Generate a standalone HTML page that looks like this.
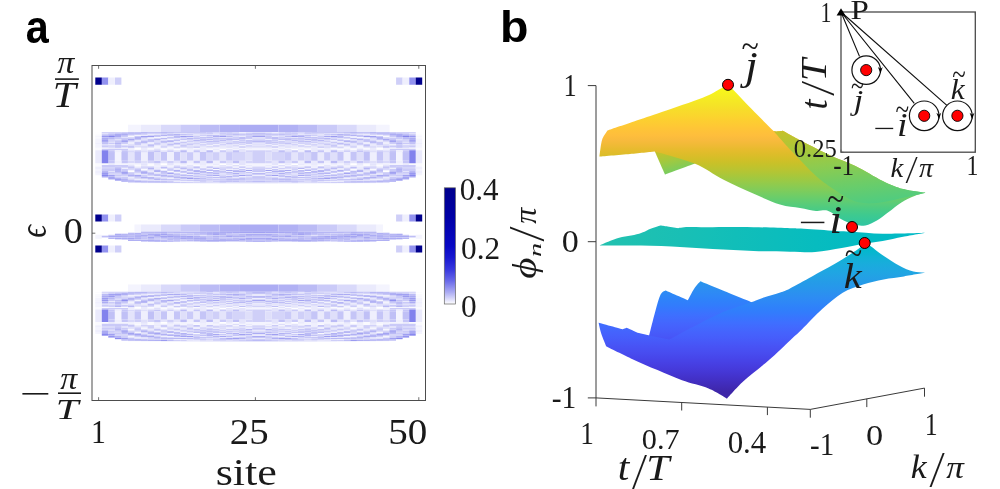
<!DOCTYPE html>
<html><head><meta charset="utf-8"><title>figure</title>
<style>html,body{margin:0;padding:0;background:#fff}svg{display:block}</style></head>
<body><svg width="1000" height="489" viewBox="0 0 1000 489">
<defs><linearGradient id="cb" x1="0" y1="0" x2="0" y2="1"><stop offset="0.000" stop-color="#00008c"/><stop offset="0.250" stop-color="#0000a6"/><stop offset="0.500" stop-color="#0808c4"/><stop offset="0.600" stop-color="#1818d0"/><stop offset="0.700" stop-color="#3636de"/><stop offset="0.800" stop-color="#6868e9"/><stop offset="0.900" stop-color="#acacf3"/><stop offset="0.950" stop-color="#d4d4f9"/><stop offset="1.000" stop-color="#ffffff"/></linearGradient><linearGradient id="gF" gradientUnits="userSpaceOnUse" x1="596.00" y1="85.50" x2="596.00" y2="397.90"><stop offset="0.0000" stop-color="#f9fb15"/><stop offset="0.0159" stop-color="#f7f51b"/><stop offset="0.0317" stop-color="#f6ef20"/><stop offset="0.0476" stop-color="#f5e924"/><stop offset="0.0635" stop-color="#f5e327"/><stop offset="0.0794" stop-color="#f7dc2a"/><stop offset="0.0952" stop-color="#fad62d"/><stop offset="0.1111" stop-color="#fccf30"/><stop offset="0.1270" stop-color="#fec934"/><stop offset="0.1429" stop-color="#fec338"/><stop offset="0.1587" stop-color="#febe3c"/><stop offset="0.1746" stop-color="#f8ba3d"/><stop offset="0.1905" stop-color="#f0ba36"/><stop offset="0.2063" stop-color="#e6bb2d"/><stop offset="0.2222" stop-color="#dcbd29"/><stop offset="0.2381" stop-color="#d1bf27"/><stop offset="0.2540" stop-color="#c5c22a"/><stop offset="0.2698" stop-color="#b9c431"/><stop offset="0.2857" stop-color="#abc739"/><stop offset="0.3016" stop-color="#9dc943"/><stop offset="0.3175" stop-color="#8fcb4e"/><stop offset="0.3333" stop-color="#81cc59"/><stop offset="0.3492" stop-color="#72cd64"/><stop offset="0.3651" stop-color="#64cd6f"/><stop offset="0.3810" stop-color="#57cc7a"/><stop offset="0.3968" stop-color="#4acb84"/><stop offset="0.4127" stop-color="#3fca8e"/><stop offset="0.4286" stop-color="#37c897"/><stop offset="0.4444" stop-color="#31c69f"/><stop offset="0.4603" stop-color="#2cc4a7"/><stop offset="0.4762" stop-color="#24c1ae"/><stop offset="0.4921" stop-color="#19bfb6"/><stop offset="0.5079" stop-color="#0bbdbd"/><stop offset="0.5238" stop-color="#02bac3"/><stop offset="0.5397" stop-color="#01b8ca"/><stop offset="0.5556" stop-color="#08b5d0"/><stop offset="0.5714" stop-color="#12b1d6"/><stop offset="0.5873" stop-color="#18addb"/><stop offset="0.6032" stop-color="#1ca9df"/><stop offset="0.6190" stop-color="#20a5e3"/><stop offset="0.6349" stop-color="#23a0e5"/><stop offset="0.6508" stop-color="#259be8"/><stop offset="0.6667" stop-color="#2797eb"/><stop offset="0.6825" stop-color="#2b91ef"/><stop offset="0.6984" stop-color="#2d8cf3"/><stop offset="0.7143" stop-color="#2e87f7"/><stop offset="0.7302" stop-color="#2f81fa"/><stop offset="0.7460" stop-color="#327cfc"/><stop offset="0.7619" stop-color="#3875fe"/><stop offset="0.7778" stop-color="#3e6fff"/><stop offset="0.7937" stop-color="#4269fe"/><stop offset="0.8095" stop-color="#4563fd"/><stop offset="0.8254" stop-color="#465efb"/><stop offset="0.8413" stop-color="#4758f8"/><stop offset="0.8571" stop-color="#4852f4"/><stop offset="0.8730" stop-color="#484df0"/><stop offset="0.8889" stop-color="#4747eb"/><stop offset="0.9048" stop-color="#4741e5"/><stop offset="0.9206" stop-color="#463cde"/><stop offset="0.9365" stop-color="#4537d5"/><stop offset="0.9524" stop-color="#4332cb"/><stop offset="0.9683" stop-color="#422ec0"/><stop offset="0.9841" stop-color="#402ab4"/><stop offset="1.0000" stop-color="#3e26a8"/></linearGradient><linearGradient id="gLb" gradientUnits="userSpaceOnUse" x1="596.00" y1="72.50" x2="596.00" y2="384.90"><stop offset="0.0000" stop-color="#f9fb15"/><stop offset="0.0159" stop-color="#f7f51b"/><stop offset="0.0317" stop-color="#f6ef20"/><stop offset="0.0476" stop-color="#f5e924"/><stop offset="0.0635" stop-color="#f5e327"/><stop offset="0.0794" stop-color="#f7dc2a"/><stop offset="0.0952" stop-color="#fad62d"/><stop offset="0.1111" stop-color="#fccf30"/><stop offset="0.1270" stop-color="#fec934"/><stop offset="0.1429" stop-color="#fec338"/><stop offset="0.1587" stop-color="#febe3c"/><stop offset="0.1746" stop-color="#f8ba3d"/><stop offset="0.1905" stop-color="#f0ba36"/><stop offset="0.2063" stop-color="#e6bb2d"/><stop offset="0.2222" stop-color="#dcbd29"/><stop offset="0.2381" stop-color="#d1bf27"/><stop offset="0.2540" stop-color="#c5c22a"/><stop offset="0.2698" stop-color="#b9c431"/><stop offset="0.2857" stop-color="#abc739"/><stop offset="0.3016" stop-color="#9dc943"/><stop offset="0.3175" stop-color="#8fcb4e"/><stop offset="0.3333" stop-color="#81cc59"/><stop offset="0.3492" stop-color="#72cd64"/><stop offset="0.3651" stop-color="#64cd6f"/><stop offset="0.3810" stop-color="#57cc7a"/><stop offset="0.3968" stop-color="#4acb84"/><stop offset="0.4127" stop-color="#3fca8e"/><stop offset="0.4286" stop-color="#37c897"/><stop offset="0.4444" stop-color="#31c69f"/><stop offset="0.4603" stop-color="#2cc4a7"/><stop offset="0.4762" stop-color="#24c1ae"/><stop offset="0.4921" stop-color="#19bfb6"/><stop offset="0.5079" stop-color="#0bbdbd"/><stop offset="0.5238" stop-color="#02bac3"/><stop offset="0.5397" stop-color="#01b8ca"/><stop offset="0.5556" stop-color="#08b5d0"/><stop offset="0.5714" stop-color="#12b1d6"/><stop offset="0.5873" stop-color="#18addb"/><stop offset="0.6032" stop-color="#1ca9df"/><stop offset="0.6190" stop-color="#20a5e3"/><stop offset="0.6349" stop-color="#23a0e5"/><stop offset="0.6508" stop-color="#259be8"/><stop offset="0.6667" stop-color="#2797eb"/><stop offset="0.6825" stop-color="#2b91ef"/><stop offset="0.6984" stop-color="#2d8cf3"/><stop offset="0.7143" stop-color="#2e87f7"/><stop offset="0.7302" stop-color="#2f81fa"/><stop offset="0.7460" stop-color="#327cfc"/><stop offset="0.7619" stop-color="#3875fe"/><stop offset="0.7778" stop-color="#3e6fff"/><stop offset="0.7937" stop-color="#4269fe"/><stop offset="0.8095" stop-color="#4563fd"/><stop offset="0.8254" stop-color="#465efb"/><stop offset="0.8413" stop-color="#4758f8"/><stop offset="0.8571" stop-color="#4852f4"/><stop offset="0.8730" stop-color="#484df0"/><stop offset="0.8889" stop-color="#4747eb"/><stop offset="0.9048" stop-color="#4741e5"/><stop offset="0.9206" stop-color="#463cde"/><stop offset="0.9365" stop-color="#4537d5"/><stop offset="0.9524" stop-color="#4332cb"/><stop offset="0.9683" stop-color="#422ec0"/><stop offset="0.9841" stop-color="#402ab4"/><stop offset="1.0000" stop-color="#3e26a8"/></linearGradient><linearGradient id="gL" gradientUnits="userSpaceOnUse" x1="596.00" y1="79.50" x2="596.00" y2="391.90"><stop offset="0.0000" stop-color="#f9fb15"/><stop offset="0.0159" stop-color="#f7f51b"/><stop offset="0.0317" stop-color="#f6ef20"/><stop offset="0.0476" stop-color="#f5e924"/><stop offset="0.0635" stop-color="#f5e327"/><stop offset="0.0794" stop-color="#f7dc2a"/><stop offset="0.0952" stop-color="#fad62d"/><stop offset="0.1111" stop-color="#fccf30"/><stop offset="0.1270" stop-color="#fec934"/><stop offset="0.1429" stop-color="#fec338"/><stop offset="0.1587" stop-color="#febe3c"/><stop offset="0.1746" stop-color="#f8ba3d"/><stop offset="0.1905" stop-color="#f0ba36"/><stop offset="0.2063" stop-color="#e6bb2d"/><stop offset="0.2222" stop-color="#dcbd29"/><stop offset="0.2381" stop-color="#d1bf27"/><stop offset="0.2540" stop-color="#c5c22a"/><stop offset="0.2698" stop-color="#b9c431"/><stop offset="0.2857" stop-color="#abc739"/><stop offset="0.3016" stop-color="#9dc943"/><stop offset="0.3175" stop-color="#8fcb4e"/><stop offset="0.3333" stop-color="#81cc59"/><stop offset="0.3492" stop-color="#72cd64"/><stop offset="0.3651" stop-color="#64cd6f"/><stop offset="0.3810" stop-color="#57cc7a"/><stop offset="0.3968" stop-color="#4acb84"/><stop offset="0.4127" stop-color="#3fca8e"/><stop offset="0.4286" stop-color="#37c897"/><stop offset="0.4444" stop-color="#31c69f"/><stop offset="0.4603" stop-color="#2cc4a7"/><stop offset="0.4762" stop-color="#24c1ae"/><stop offset="0.4921" stop-color="#19bfb6"/><stop offset="0.5079" stop-color="#0bbdbd"/><stop offset="0.5238" stop-color="#02bac3"/><stop offset="0.5397" stop-color="#01b8ca"/><stop offset="0.5556" stop-color="#08b5d0"/><stop offset="0.5714" stop-color="#12b1d6"/><stop offset="0.5873" stop-color="#18addb"/><stop offset="0.6032" stop-color="#1ca9df"/><stop offset="0.6190" stop-color="#20a5e3"/><stop offset="0.6349" stop-color="#23a0e5"/><stop offset="0.6508" stop-color="#259be8"/><stop offset="0.6667" stop-color="#2797eb"/><stop offset="0.6825" stop-color="#2b91ef"/><stop offset="0.6984" stop-color="#2d8cf3"/><stop offset="0.7143" stop-color="#2e87f7"/><stop offset="0.7302" stop-color="#2f81fa"/><stop offset="0.7460" stop-color="#327cfc"/><stop offset="0.7619" stop-color="#3875fe"/><stop offset="0.7778" stop-color="#3e6fff"/><stop offset="0.7937" stop-color="#4269fe"/><stop offset="0.8095" stop-color="#4563fd"/><stop offset="0.8254" stop-color="#465efb"/><stop offset="0.8413" stop-color="#4758f8"/><stop offset="0.8571" stop-color="#4852f4"/><stop offset="0.8730" stop-color="#484df0"/><stop offset="0.8889" stop-color="#4747eb"/><stop offset="0.9048" stop-color="#4741e5"/><stop offset="0.9206" stop-color="#463cde"/><stop offset="0.9365" stop-color="#4537d5"/><stop offset="0.9524" stop-color="#4332cb"/><stop offset="0.9683" stop-color="#422ec0"/><stop offset="0.9841" stop-color="#402ab4"/><stop offset="1.0000" stop-color="#3e26a8"/></linearGradient><linearGradient id="gM" gradientUnits="userSpaceOnUse" x1="600" y1="225" x2="925" y2="250"><stop offset="0.000" stop-color="#23c1af"/><stop offset="0.083" stop-color="#1fc1b1"/><stop offset="0.167" stop-color="#1cc0b3"/><stop offset="0.250" stop-color="#19bfb5"/><stop offset="0.333" stop-color="#15bfb7"/><stop offset="0.417" stop-color="#11beb9"/><stop offset="0.500" stop-color="#0ebdbb"/><stop offset="0.583" stop-color="#0abdbd"/><stop offset="0.667" stop-color="#07bcbf"/><stop offset="0.750" stop-color="#05bbc1"/><stop offset="0.833" stop-color="#02bbc3"/><stop offset="0.917" stop-color="#02bac5"/><stop offset="1.000" stop-color="#01b9c7"/></linearGradient><linearGradient id="gB" gradientUnits="userSpaceOnUse" x1="790" y1="128" x2="800" y2="225"><stop offset="0.000" stop-color="#c8c129"/><stop offset="0.083" stop-color="#bec32e"/><stop offset="0.167" stop-color="#b2c535"/><stop offset="0.250" stop-color="#a7c73c"/><stop offset="0.333" stop-color="#9ac945"/><stop offset="0.417" stop-color="#8ecb4f"/><stop offset="0.500" stop-color="#81cc58"/><stop offset="0.583" stop-color="#74cc62"/><stop offset="0.667" stop-color="#68cd6b"/><stop offset="0.750" stop-color="#5dcc75"/><stop offset="0.833" stop-color="#52cc7e"/><stop offset="0.917" stop-color="#47cb87"/><stop offset="1.000" stop-color="#3eca8f"/></linearGradient><linearGradient id="gN" gradientUnits="userSpaceOnUse" x1="660" y1="150" x2="666" y2="176"><stop offset="0.000" stop-color="#c8c129"/><stop offset="0.083" stop-color="#c2c22c"/><stop offset="0.167" stop-color="#bbc42f"/><stop offset="0.250" stop-color="#b4c533"/><stop offset="0.333" stop-color="#adc638"/><stop offset="0.417" stop-color="#a6c83c"/><stop offset="0.500" stop-color="#9fc942"/><stop offset="0.583" stop-color="#97ca47"/><stop offset="0.667" stop-color="#90ca4d"/><stop offset="0.750" stop-color="#88cb53"/><stop offset="0.833" stop-color="#81cc59"/><stop offset="0.917" stop-color="#79cc5e"/><stop offset="1.000" stop-color="#71cd64"/></linearGradient></defs>
<rect width="1000" height="489" fill="#fff"/>
<g>
<path fill="#fafafe" d="M128 182.62h13.1v0.58h-13.1zM376.5 182.62h13.1v0.58h-13.1zM180.3 180.81h6.5v0.62h-6.5zM330.7 180.81h6.5v0.62h-6.5zM252.2 179.54h13.1v0.64h-13.1zM134.5 178.88h6.5v0.66h-6.5zM376.5 178.88h6.5v0.66h-6.5zM213 178.20h6.5v0.68h-6.5zM298 178.20h6.5v0.68h-6.5zM128 177.51h6.5v0.70h-6.5zM160.7 177.51h6.5v0.70h-6.5zM239.1 177.51h6.5v0.70h-6.5zM271.8 177.51h6.5v0.70h-6.5zM350.3 177.51h6.5v0.70h-6.5zM383 177.51h6.5v0.70h-6.5zM252.2 176.79h13.1v0.72h-13.1zM147.6 176.05h6.5v0.74h-6.5zM363.4 176.05h6.5v0.74h-6.5zM193.4 174.50h6.5v0.79h-6.5zM317.6 174.50h6.5v0.79h-6.5zM134.5 173.67h6.5v0.82h-6.5zM376.5 173.67h6.5v0.82h-6.5zM173.7 171.91h6.5v0.90h-6.5zM337.2 171.91h6.5v0.90h-6.5zM167.2 170.96h6.5v0.95h-6.5zM206.4 170.96h6.5v0.95h-6.5zM304.5 170.96h6.5v0.95h-6.5zM343.8 170.96h6.5v0.95h-6.5zM141 168.87h6.5v1.08h-6.5zM160.7 168.87h6.5v1.08h-6.5zM213 168.87h6.5v1.08h-6.5zM298 168.87h6.5v1.08h-6.5zM350.3 168.87h6.5v1.08h-6.5zM369.9 168.87h6.5v1.08h-6.5zM121.4 167.70h6.5v1.18h-6.5zM389.5 167.70h6.5v1.18h-6.5zM232.6 166.40h6.5v1.30h-6.5zM278.4 166.40h6.5v1.30h-6.5zM95.3 164.91h6.5v1.48h-6.5zM134.5 164.91h6.5v1.48h-6.5zM147.6 164.91h6.5v1.48h-6.5zM193.4 164.91h6.5v1.48h-6.5zM317.6 164.91h6.5v1.48h-6.5zM363.4 164.91h6.5v1.48h-6.5zM376.5 164.91h6.5v1.48h-6.5zM415.7 164.91h6.5v1.48h-6.5zM95.3 163.13h13.1v1.79h-13.1zM147.6 163.13h6.5v1.79h-6.5zM232.6 163.13h6.5v1.79h-6.5zM278.4 163.13h6.5v1.79h-6.5zM363.4 163.13h6.5v1.79h-6.5zM409.2 163.13h13.1v1.79h-13.1zM95.3 148.85h6.5v1.48h-6.5zM134.5 148.85h6.5v1.48h-6.5zM160.7 148.85h6.5v1.48h-6.5zM173.7 148.85h6.5v1.48h-6.5zM206.4 148.85h6.5v1.48h-6.5zM304.5 148.85h6.5v1.48h-6.5zM337.2 148.85h6.5v1.48h-6.5zM350.3 148.85h6.5v1.48h-6.5zM376.5 148.85h6.5v1.48h-6.5zM415.7 148.85h6.5v1.48h-6.5zM95.3 147.55h13.1v1.30h-13.1zM121.4 147.55h6.5v1.30h-6.5zM147.6 147.55h6.5v1.30h-6.5zM180.3 147.55h6.5v1.30h-6.5zM193.4 147.55h6.5v1.30h-6.5zM226.1 147.55h6.5v1.30h-6.5zM239.1 147.55h6.5v1.30h-6.5zM271.8 147.55h6.5v1.30h-6.5zM284.9 147.55h6.5v1.30h-6.5zM317.6 147.55h6.5v1.30h-6.5zM330.7 147.55h6.5v1.30h-6.5zM363.4 147.55h6.5v1.30h-6.5zM389.5 147.55h6.5v1.30h-6.5zM409.2 147.55h13.1v1.30h-13.1zM206.4 145.30h6.5v1.08h-6.5zM304.5 145.30h6.5v1.08h-6.5zM226.1 142.44h6.5v0.90h-6.5zM284.9 142.44h6.5v0.90h-6.5zM213 141.58h6.5v0.86h-6.5zM298 141.58h6.5v0.86h-6.5zM134.5 140.75h6.5v0.82h-6.5zM376.5 140.75h6.5v0.82h-6.5zM206.4 139.96h6.5v0.79h-6.5zM304.5 139.96h6.5v0.79h-6.5zM167.2 139.20h6.5v0.76h-6.5zM343.8 139.20h6.5v0.76h-6.5zM173.7 138.46h6.5v0.74h-6.5zM337.2 138.46h6.5v0.74h-6.5zM95.3 137.74h6.5v0.72h-6.5zM415.7 137.74h6.5v0.72h-6.5zM95.3 137.05h6.5v0.70h-6.5zM219.5 137.05h6.5v0.70h-6.5zM291.4 137.05h6.5v0.70h-6.5zM415.7 137.05h6.5v0.70h-6.5zM128 136.37h6.5v0.68h-6.5zM160.7 136.37h6.5v0.68h-6.5zM239.1 136.37h6.5v0.68h-6.5zM271.8 136.37h6.5v0.68h-6.5zM350.3 136.37h6.5v0.68h-6.5zM383 136.37h6.5v0.68h-6.5zM95.3 135.71h6.5v0.66h-6.5zM252.2 135.71h13.1v0.66h-13.1zM415.7 135.71h6.5v0.66h-6.5zM95.3 135.07h6.5v0.64h-6.5zM415.7 135.07h6.5v0.64h-6.5zM95.3 134.44h6.5v0.63h-6.5zM252.2 134.44h13.1v0.63h-13.1zM415.7 134.44h6.5v0.63h-6.5zM95.3 132.63h6.5v0.59h-6.5zM415.7 132.63h6.5v0.59h-6.5zM245.7 132.05h6.5v0.58h-6.5zM265.3 132.05h6.5v0.58h-6.5zM128 341.03h13.1v0.57h-13.1zM376.5 341.03h13.1v0.57h-13.1zM180.3 339.27h6.5v0.60h-6.5zM330.7 339.27h6.5v0.60h-6.5zM252.2 338.03h13.1v0.63h-13.1zM134.5 337.38h6.5v0.64h-6.5zM376.5 337.38h6.5v0.64h-6.5zM213 336.72h6.5v0.66h-6.5zM298 336.72h6.5v0.66h-6.5zM128 336.05h6.5v0.68h-6.5zM160.7 336.05h6.5v0.68h-6.5zM239.1 336.05h6.5v0.68h-6.5zM271.8 336.05h6.5v0.68h-6.5zM350.3 336.05h6.5v0.68h-6.5zM383 336.05h6.5v0.68h-6.5zM252.2 335.35h13.1v0.70h-13.1zM147.6 334.63h6.5v0.72h-6.5zM363.4 334.63h6.5v0.72h-6.5zM193.4 333.11h6.5v0.77h-6.5zM317.6 333.11h6.5v0.77h-6.5zM134.5 332.31h6.5v0.80h-6.5zM376.5 332.31h6.5v0.80h-6.5zM173.7 330.59h6.5v0.88h-6.5zM337.2 330.59h6.5v0.88h-6.5zM167.2 329.66h6.5v0.93h-6.5zM206.4 329.66h6.5v0.93h-6.5zM304.5 329.66h6.5v0.93h-6.5zM343.8 329.66h6.5v0.93h-6.5zM141 327.62h6.5v1.06h-6.5zM160.7 327.62h6.5v1.06h-6.5zM213 327.62h6.5v1.06h-6.5zM298 327.62h6.5v1.06h-6.5zM350.3 327.62h6.5v1.06h-6.5zM369.9 327.62h6.5v1.06h-6.5zM121.4 326.47h6.5v1.15h-6.5zM389.5 326.47h6.5v1.15h-6.5zM232.6 325.21h6.5v1.27h-6.5zM278.4 325.21h6.5v1.27h-6.5zM95.3 323.76h6.5v1.45h-6.5zM134.5 323.76h6.5v1.45h-6.5zM147.6 323.76h6.5v1.45h-6.5zM193.4 323.76h6.5v1.45h-6.5zM317.6 323.76h6.5v1.45h-6.5zM363.4 323.76h6.5v1.45h-6.5zM376.5 323.76h6.5v1.45h-6.5zM415.7 323.76h6.5v1.45h-6.5zM95.3 322.02h13.1v1.74h-13.1zM147.6 322.02h6.5v1.74h-6.5zM232.6 322.02h6.5v1.74h-6.5zM278.4 322.02h6.5v1.74h-6.5zM363.4 322.02h6.5v1.74h-6.5zM409.2 322.02h13.1v1.74h-13.1zM95.3 308.09h6.5v1.45h-6.5zM134.5 308.09h6.5v1.45h-6.5zM160.7 308.09h6.5v1.45h-6.5zM173.7 308.09h6.5v1.45h-6.5zM206.4 308.09h6.5v1.45h-6.5zM304.5 308.09h6.5v1.45h-6.5zM337.2 308.09h6.5v1.45h-6.5zM350.3 308.09h6.5v1.45h-6.5zM376.5 308.09h6.5v1.45h-6.5zM415.7 308.09h6.5v1.45h-6.5zM95.3 306.83h13.1v1.27h-13.1zM121.4 306.83h6.5v1.27h-6.5zM147.6 306.83h6.5v1.27h-6.5zM180.3 306.83h6.5v1.27h-6.5zM193.4 306.83h6.5v1.27h-6.5zM226.1 306.83h6.5v1.27h-6.5zM239.1 306.83h6.5v1.27h-6.5zM271.8 306.83h6.5v1.27h-6.5zM284.9 306.83h6.5v1.27h-6.5zM317.6 306.83h6.5v1.27h-6.5zM330.7 306.83h6.5v1.27h-6.5zM363.4 306.83h6.5v1.27h-6.5zM389.5 306.83h6.5v1.27h-6.5zM409.2 306.83h13.1v1.27h-13.1zM206.4 304.62h6.5v1.06h-6.5zM304.5 304.62h6.5v1.06h-6.5zM226.1 301.83h6.5v0.88h-6.5zM284.9 301.83h6.5v0.88h-6.5zM213 300.99h6.5v0.84h-6.5zM298 300.99h6.5v0.84h-6.5zM134.5 300.19h6.5v0.80h-6.5zM376.5 300.19h6.5v0.80h-6.5zM206.4 299.42h6.5v0.77h-6.5zM304.5 299.42h6.5v0.77h-6.5zM167.2 298.67h6.5v0.75h-6.5zM343.8 298.67h6.5v0.75h-6.5zM173.7 297.95h6.5v0.72h-6.5zM337.2 297.95h6.5v0.72h-6.5zM95.3 297.25h6.5v0.70h-6.5zM415.7 297.25h6.5v0.70h-6.5zM95.3 296.58h6.5v0.68h-6.5zM219.5 296.58h6.5v0.68h-6.5zM291.4 296.58h6.5v0.68h-6.5zM415.7 296.58h6.5v0.68h-6.5zM128 295.92h6.5v0.66h-6.5zM160.7 295.92h6.5v0.66h-6.5zM239.1 295.92h6.5v0.66h-6.5zM271.8 295.92h6.5v0.66h-6.5zM350.3 295.92h6.5v0.66h-6.5zM383 295.92h6.5v0.66h-6.5zM95.3 295.27h6.5v0.64h-6.5zM252.2 295.27h13.1v0.64h-13.1zM415.7 295.27h6.5v0.64h-6.5zM95.3 294.64h6.5v0.63h-6.5zM415.7 294.64h6.5v0.63h-6.5zM95.3 294.03h6.5v0.61h-6.5zM252.2 294.03h13.1v0.61h-13.1zM415.7 294.03h6.5v0.61h-6.5zM95.3 292.27h6.5v0.58h-6.5zM415.7 292.27h6.5v0.58h-6.5zM245.7 291.70h6.5v0.57h-6.5zM265.3 291.70h6.5v0.57h-6.5z"/>
<path fill="#f4f4fe" d="M141 182.62h19.6v0.58h-19.6zM356.8 182.62h19.6v0.58h-19.6zM154.1 180.18h13.1v0.63h-13.1zM350.3 180.18h13.1v0.63h-13.1zM141 178.88h6.5v0.66h-6.5zM369.9 178.88h6.5v0.66h-6.5zM206.4 176.05h6.5v0.74h-6.5zM304.5 176.05h6.5v0.74h-6.5zM226.1 175.29h6.5v0.76h-6.5zM284.9 175.29h6.5v0.76h-6.5zM95.3 174.50h6.5v0.79h-6.5zM415.7 174.50h6.5v0.79h-6.5zM95.3 173.67h6.5v0.82h-6.5zM186.8 173.67h6.5v0.82h-6.5zM324.1 173.67h6.5v0.82h-6.5zM415.7 173.67h6.5v0.82h-6.5zM154.1 172.81h6.5v0.86h-6.5zM180.3 172.81h6.5v0.86h-6.5zM245.7 172.81h6.5v0.86h-6.5zM265.3 172.81h6.5v0.86h-6.5zM330.7 172.81h6.5v0.86h-6.5zM356.8 172.81h6.5v0.86h-6.5zM245.7 170.96h6.5v0.95h-6.5zM265.3 170.96h6.5v0.95h-6.5zM95.3 169.95h6.5v1.01h-6.5zM128 169.95h6.5v1.01h-6.5zM383 169.95h6.5v1.01h-6.5zM415.7 169.95h6.5v1.01h-6.5zM95.3 168.87h6.5v1.08h-6.5zM415.7 168.87h6.5v1.08h-6.5zM206.4 167.70h6.5v1.18h-6.5zM304.5 167.70h6.5v1.18h-6.5zM245.7 166.40h6.5v1.30h-6.5zM265.3 166.40h6.5v1.30h-6.5zM180.3 164.91h6.5v1.48h-6.5zM206.4 164.91h13.1v1.48h-13.1zM226.1 164.91h6.5v1.48h-6.5zM239.1 164.91h6.5v1.48h-6.5zM252.2 164.91h13.1v1.48h-13.1zM271.8 164.91h6.5v1.48h-6.5zM284.9 164.91h6.5v1.48h-6.5zM298 164.91h13.1v1.48h-13.1zM330.7 164.91h6.5v1.48h-6.5zM114.9 163.13h13.1v1.79h-13.1zM134.5 163.13h6.5v1.79h-6.5zM173.7 163.13h6.5v1.79h-6.5zM186.8 163.13h13.1v1.79h-13.1zM206.4 163.13h6.5v1.79h-6.5zM245.7 163.13h26.2v1.79h-26.2zM304.5 163.13h6.5v1.79h-6.5zM317.6 163.13h13.1v1.79h-13.1zM337.2 163.13h6.5v1.79h-6.5zM376.5 163.13h6.5v1.79h-6.5zM389.5 163.13h13.1v1.79h-13.1zM114.9 154.62h6.5v6.02h-6.5zM396.1 154.62h6.5v6.02h-6.5zM114.9 152.12h6.5v2.50h-6.5zM396.1 152.12h6.5v2.50h-6.5zM147.6 148.85h6.5v1.48h-6.5zM232.6 148.85h6.5v1.48h-6.5zM245.7 148.85h26.2v1.48h-26.2zM278.4 148.85h6.5v1.48h-6.5zM363.4 148.85h6.5v1.48h-6.5zM108.3 147.55h13.1v1.30h-13.1zM160.7 147.55h13.1v1.30h-13.1zM213 147.55h6.5v1.30h-6.5zM298 147.55h6.5v1.30h-6.5zM343.8 147.55h13.1v1.30h-13.1zM396.1 147.55h13.1v1.30h-13.1zM154.1 146.38h6.5v1.18h-6.5zM167.2 146.38h6.5v1.18h-6.5zM232.6 146.38h6.5v1.18h-6.5zM278.4 146.38h6.5v1.18h-6.5zM343.8 146.38h6.5v1.18h-6.5zM356.8 146.38h6.5v1.18h-6.5zM95.3 145.30h6.5v1.08h-6.5zM154.1 145.30h6.5v1.08h-6.5zM356.8 145.30h6.5v1.08h-6.5zM415.7 145.30h6.5v1.08h-6.5zM95.3 144.29h6.5v1.01h-6.5zM108.3 144.29h6.5v1.01h-6.5zM402.6 144.29h6.5v1.01h-6.5zM415.7 144.29h6.5v1.01h-6.5zM128 142.44h6.5v0.90h-6.5zM383 142.44h6.5v0.90h-6.5zM95.3 141.58h6.5v0.86h-6.5zM108.3 141.58h6.5v0.86h-6.5zM402.6 141.58h6.5v0.86h-6.5zM415.7 141.58h6.5v0.86h-6.5zM95.3 139.96h6.5v0.79h-6.5zM415.7 139.96h6.5v0.79h-6.5zM95.3 139.20h6.5v0.76h-6.5zM415.7 139.20h6.5v0.76h-6.5zM95.3 138.46h6.5v0.74h-6.5zM415.7 138.46h6.5v0.74h-6.5zM226.1 137.05h6.5v0.70h-6.5zM284.9 137.05h6.5v0.70h-6.5zM95.3 136.37h6.5v0.68h-6.5zM415.7 136.37h6.5v0.68h-6.5zM213 135.71h6.5v0.66h-6.5zM298 135.71h6.5v0.66h-6.5zM134.5 135.07h13.1v0.64h-13.1zM369.9 135.07h13.1v0.64h-13.1zM219.5 133.82h6.5v0.62h-6.5zM291.4 133.82h6.5v0.62h-6.5zM173.7 133.22h13.1v0.60h-13.1zM330.7 133.22h13.1v0.60h-13.1zM206.4 132.63h6.5v0.59h-6.5zM304.5 132.63h6.5v0.59h-6.5zM128 124.85h13.1v7.20h-13.1zM376.5 124.85h13.1v7.20h-13.1zM141 341.03h19.6v0.57h-19.6zM356.8 341.03h19.6v0.57h-19.6zM154.1 338.66h13.1v0.61h-13.1zM350.3 338.66h13.1v0.61h-13.1zM141 337.38h6.5v0.64h-6.5zM369.9 337.38h6.5v0.64h-6.5zM206.4 334.63h6.5v0.72h-6.5zM304.5 334.63h6.5v0.72h-6.5zM226.1 333.88h6.5v0.75h-6.5zM284.9 333.88h6.5v0.75h-6.5zM95.3 333.11h6.5v0.77h-6.5zM415.7 333.11h6.5v0.77h-6.5zM95.3 332.31h6.5v0.80h-6.5zM186.8 332.31h6.5v0.80h-6.5zM324.1 332.31h6.5v0.80h-6.5zM415.7 332.31h6.5v0.80h-6.5zM154.1 331.47h6.5v0.84h-6.5zM180.3 331.47h6.5v0.84h-6.5zM245.7 331.47h6.5v0.84h-6.5zM265.3 331.47h6.5v0.84h-6.5zM330.7 331.47h6.5v0.84h-6.5zM356.8 331.47h6.5v0.84h-6.5zM245.7 329.66h6.5v0.93h-6.5zM265.3 329.66h6.5v0.93h-6.5zM95.3 328.68h6.5v0.98h-6.5zM128 328.68h6.5v0.98h-6.5zM383 328.68h6.5v0.98h-6.5zM415.7 328.68h6.5v0.98h-6.5zM95.3 327.62h6.5v1.06h-6.5zM415.7 327.62h6.5v1.06h-6.5zM206.4 326.47h6.5v1.15h-6.5zM304.5 326.47h6.5v1.15h-6.5zM245.7 325.21h6.5v1.27h-6.5zM265.3 325.21h6.5v1.27h-6.5zM180.3 323.76h6.5v1.45h-6.5zM206.4 323.76h13.1v1.45h-13.1zM226.1 323.76h6.5v1.45h-6.5zM239.1 323.76h6.5v1.45h-6.5zM252.2 323.76h13.1v1.45h-13.1zM271.8 323.76h6.5v1.45h-6.5zM284.9 323.76h6.5v1.45h-6.5zM298 323.76h13.1v1.45h-13.1zM330.7 323.76h6.5v1.45h-6.5zM114.9 322.02h13.1v1.74h-13.1zM134.5 322.02h6.5v1.74h-6.5zM173.7 322.02h6.5v1.74h-6.5zM186.8 322.02h13.1v1.74h-13.1zM206.4 322.02h6.5v1.74h-6.5zM245.7 322.02h26.2v1.74h-26.2zM304.5 322.02h6.5v1.74h-6.5zM317.6 322.02h13.1v1.74h-13.1zM337.2 322.02h6.5v1.74h-6.5zM376.5 322.02h6.5v1.74h-6.5zM389.5 322.02h13.1v1.74h-13.1zM114.9 313.72h6.5v5.87h-6.5zM396.1 313.72h6.5v5.87h-6.5zM114.9 311.28h6.5v2.43h-6.5zM396.1 311.28h6.5v2.43h-6.5zM147.6 308.09h6.5v1.45h-6.5zM232.6 308.09h6.5v1.45h-6.5zM245.7 308.09h26.2v1.45h-26.2zM278.4 308.09h6.5v1.45h-6.5zM363.4 308.09h6.5v1.45h-6.5zM108.3 306.83h13.1v1.27h-13.1zM160.7 306.83h13.1v1.27h-13.1zM213 306.83h6.5v1.27h-6.5zM298 306.83h6.5v1.27h-6.5zM343.8 306.83h13.1v1.27h-13.1zM396.1 306.83h13.1v1.27h-13.1zM154.1 305.68h6.5v1.15h-6.5zM167.2 305.68h6.5v1.15h-6.5zM232.6 305.68h6.5v1.15h-6.5zM278.4 305.68h6.5v1.15h-6.5zM343.8 305.68h6.5v1.15h-6.5zM356.8 305.68h6.5v1.15h-6.5zM95.3 304.62h6.5v1.06h-6.5zM154.1 304.62h6.5v1.06h-6.5zM356.8 304.62h6.5v1.06h-6.5zM415.7 304.62h6.5v1.06h-6.5zM95.3 303.64h6.5v0.98h-6.5zM108.3 303.64h6.5v0.98h-6.5zM402.6 303.64h6.5v0.98h-6.5zM415.7 303.64h6.5v0.98h-6.5zM128 301.83h6.5v0.88h-6.5zM383 301.83h6.5v0.88h-6.5zM95.3 300.99h6.5v0.84h-6.5zM108.3 300.99h6.5v0.84h-6.5zM402.6 300.99h6.5v0.84h-6.5zM415.7 300.99h6.5v0.84h-6.5zM95.3 299.42h6.5v0.77h-6.5zM415.7 299.42h6.5v0.77h-6.5zM95.3 298.67h6.5v0.75h-6.5zM415.7 298.67h6.5v0.75h-6.5zM95.3 297.95h6.5v0.72h-6.5zM415.7 297.95h6.5v0.72h-6.5zM226.1 296.58h6.5v0.68h-6.5zM284.9 296.58h6.5v0.68h-6.5zM95.3 295.92h6.5v0.66h-6.5zM415.7 295.92h6.5v0.66h-6.5zM213 295.27h6.5v0.64h-6.5zM298 295.27h6.5v0.64h-6.5zM134.5 294.64h13.1v0.63h-13.1zM369.9 294.64h13.1v0.63h-13.1zM219.5 293.43h6.5v0.60h-6.5zM291.4 293.43h6.5v0.60h-6.5zM173.7 292.84h13.1v0.59h-13.1zM330.7 292.84h13.1v0.59h-13.1zM206.4 292.27h6.5v0.58h-6.5zM304.5 292.27h6.5v0.58h-6.5zM128 284.50h13.1v7.20h-13.1zM376.5 284.50h13.1v7.20h-13.1zM134.5 224.60h6.5v7.20h-6.5zM376.5 224.60h6.5v7.20h-6.5zM95.3 234.80h6.5v1.00h-6.5zM415.7 234.80h6.5v1.00h-6.5zM95.3 235.80h6.5v1.00h-6.5zM415.7 235.80h6.5v1.00h-6.5zM95.3 236.80h6.5v1.00h-6.5zM415.7 236.80h6.5v1.00h-6.5zM95.3 237.80h6.5v1.00h-6.5zM415.7 237.80h6.5v1.00h-6.5z"/>
<path fill="#eaeafc" d="M160.7 182.62h19.6v0.58h-19.6zM337.2 182.62h19.6v0.58h-19.6zM199.9 181.43h6.5v0.60h-6.5zM311.1 181.43h6.5v0.60h-6.5zM245.7 180.81h6.5v0.62h-6.5zM265.3 180.81h6.5v0.62h-6.5zM167.2 180.18h6.5v0.63h-6.5zM226.1 180.18h6.5v0.63h-6.5zM284.9 180.18h6.5v0.63h-6.5zM343.8 180.18h6.5v0.63h-6.5zM232.6 178.88h6.5v0.66h-6.5zM278.4 178.88h6.5v0.66h-6.5zM167.2 178.20h6.5v0.68h-6.5zM343.8 178.20h6.5v0.68h-6.5zM219.5 176.79h13.1v0.72h-13.1zM284.9 176.79h13.1v0.72h-13.1zM154.1 176.05h6.5v0.74h-6.5zM180.3 176.05h6.5v0.74h-6.5zM330.7 176.05h6.5v0.74h-6.5zM356.8 176.05h6.5v0.74h-6.5zM213 174.50h6.5v0.79h-6.5zM298 174.50h6.5v0.79h-6.5zM180.3 173.67h6.5v0.82h-6.5zM330.7 173.67h6.5v0.82h-6.5zM199.9 172.81h6.5v0.86h-6.5zM311.1 172.81h6.5v0.86h-6.5zM193.4 171.91h6.5v0.90h-6.5zM317.6 171.91h6.5v0.90h-6.5zM147.6 170.96h6.5v0.95h-6.5zM186.8 170.96h6.5v0.95h-6.5zM324.1 170.96h6.5v0.95h-6.5zM363.4 170.96h6.5v0.95h-6.5zM160.7 169.95h6.5v1.01h-6.5zM180.3 169.95h6.5v1.01h-6.5zM330.7 169.95h6.5v1.01h-6.5zM350.3 169.95h6.5v1.01h-6.5zM173.7 168.87h6.5v1.08h-6.5zM232.6 168.87h6.5v1.08h-6.5zM278.4 168.87h6.5v1.08h-6.5zM337.2 168.87h6.5v1.08h-6.5zM173.7 167.70h6.5v1.18h-6.5zM337.2 167.70h6.5v1.18h-6.5zM134.5 166.40h6.5v1.30h-6.5zM167.2 166.40h6.5v1.30h-6.5zM343.8 166.40h6.5v1.30h-6.5zM376.5 166.40h6.5v1.30h-6.5zM141 164.91h6.5v1.48h-6.5zM245.7 164.91h6.5v1.48h-6.5zM265.3 164.91h6.5v1.48h-6.5zM369.9 164.91h6.5v1.48h-6.5zM108.3 163.13h6.5v1.79h-6.5zM154.1 163.13h6.5v1.79h-6.5zM199.9 163.13h6.5v1.79h-6.5zM213 163.13h6.5v1.79h-6.5zM226.1 163.13h6.5v1.79h-6.5zM284.9 163.13h6.5v1.79h-6.5zM298 163.13h6.5v1.79h-6.5zM311.1 163.13h6.5v1.79h-6.5zM356.8 163.13h6.5v1.79h-6.5zM402.6 163.13h6.5v1.79h-6.5zM95.3 160.63h6.5v2.50h-6.5zM199.9 160.63h6.5v2.50h-6.5zM311.1 160.63h6.5v2.50h-6.5zM415.7 160.63h6.5v2.50h-6.5zM95.3 154.62h6.5v6.02h-6.5zM193.4 154.62h6.5v6.02h-6.5zM317.6 154.62h6.5v6.02h-6.5zM415.7 154.62h6.5v6.02h-6.5zM95.3 152.12h6.5v2.50h-6.5zM193.4 152.12h6.5v2.50h-6.5zM317.6 152.12h6.5v2.50h-6.5zM415.7 152.12h6.5v2.50h-6.5zM95.3 150.34h6.5v1.79h-6.5zM199.9 150.34h6.5v1.79h-6.5zM311.1 150.34h6.5v1.79h-6.5zM415.7 150.34h6.5v1.79h-6.5zM141 148.85h6.5v1.48h-6.5zM167.2 148.85h6.5v1.48h-6.5zM193.4 148.85h13.1v1.48h-13.1zM213 148.85h6.5v1.48h-6.5zM298 148.85h6.5v1.48h-6.5zM311.1 148.85h13.1v1.48h-13.1zM343.8 148.85h6.5v1.48h-6.5zM369.9 148.85h6.5v1.48h-6.5zM128 147.55h6.5v1.30h-6.5zM141 147.55h6.5v1.30h-6.5zM173.7 147.55h6.5v1.30h-6.5zM199.9 147.55h6.5v1.30h-6.5zM219.5 147.55h6.5v1.30h-6.5zM245.7 147.55h6.5v1.30h-6.5zM265.3 147.55h6.5v1.30h-6.5zM291.4 147.55h6.5v1.30h-6.5zM311.1 147.55h6.5v1.30h-6.5zM337.2 147.55h6.5v1.30h-6.5zM369.9 147.55h6.5v1.30h-6.5zM383 147.55h6.5v1.30h-6.5zM186.8 145.30h6.5v1.08h-6.5zM324.1 145.30h6.5v1.08h-6.5zM141 144.29h6.5v1.01h-6.5zM226.1 144.29h13.1v1.01h-13.1zM278.4 144.29h13.1v1.01h-13.1zM369.9 144.29h6.5v1.01h-6.5zM128 143.34h6.5v0.95h-6.5zM141 143.34h13.1v0.95h-13.1zM160.7 143.34h6.5v0.95h-6.5zM180.3 143.34h6.5v0.95h-6.5zM219.5 143.34h6.5v0.95h-6.5zM239.1 143.34h6.5v0.95h-6.5zM252.2 143.34h13.1v0.95h-13.1zM271.8 143.34h6.5v0.95h-6.5zM291.4 143.34h6.5v0.95h-6.5zM330.7 143.34h6.5v0.95h-6.5zM350.3 143.34h6.5v0.95h-6.5zM363.4 143.34h13.1v0.95h-13.1zM383 143.34h6.5v0.95h-6.5zM232.6 141.58h6.5v0.86h-6.5zM278.4 141.58h6.5v0.86h-6.5zM160.7 139.96h6.5v0.79h-6.5zM186.8 139.96h6.5v0.79h-6.5zM324.1 139.96h6.5v0.79h-6.5zM350.3 139.96h6.5v0.79h-6.5zM199.9 138.46h6.5v0.74h-6.5zM226.1 138.46h6.5v0.74h-6.5zM284.9 138.46h6.5v0.74h-6.5zM311.1 138.46h6.5v0.74h-6.5zM180.3 137.74h6.5v0.72h-6.5zM330.7 137.74h6.5v0.72h-6.5zM167.2 136.37h6.5v0.68h-6.5zM232.6 136.37h6.5v0.68h-6.5zM278.4 136.37h6.5v0.68h-6.5zM343.8 136.37h6.5v0.68h-6.5zM134.5 135.71h6.5v0.66h-6.5zM219.5 135.71h6.5v0.66h-6.5zM291.4 135.71h6.5v0.66h-6.5zM376.5 135.71h6.5v0.66h-6.5zM186.8 135.07h6.5v0.64h-6.5zM324.1 135.07h6.5v0.64h-6.5zM199.9 134.44h6.5v0.63h-6.5zM311.1 134.44h6.5v0.63h-6.5zM226.1 133.82h6.5v0.62h-6.5zM284.9 133.82h6.5v0.62h-6.5zM167.2 133.22h6.5v0.60h-6.5zM186.8 133.22h6.5v0.60h-6.5zM324.1 133.22h6.5v0.60h-6.5zM343.8 133.22h6.5v0.60h-6.5zM141 124.85h19.6v7.20h-19.6zM356.8 124.85h19.6v7.20h-19.6zM160.7 341.03h19.6v0.57h-19.6zM337.2 341.03h19.6v0.57h-19.6zM199.9 339.87h6.5v0.59h-6.5zM311.1 339.87h6.5v0.59h-6.5zM245.7 339.27h6.5v0.60h-6.5zM265.3 339.27h6.5v0.60h-6.5zM167.2 338.66h6.5v0.61h-6.5zM226.1 338.66h6.5v0.61h-6.5zM284.9 338.66h6.5v0.61h-6.5zM343.8 338.66h6.5v0.61h-6.5zM232.6 337.38h6.5v0.64h-6.5zM278.4 337.38h6.5v0.64h-6.5zM167.2 336.72h6.5v0.66h-6.5zM343.8 336.72h6.5v0.66h-6.5zM219.5 335.35h13.1v0.70h-13.1zM284.9 335.35h13.1v0.70h-13.1zM154.1 334.63h6.5v0.72h-6.5zM180.3 334.63h6.5v0.72h-6.5zM330.7 334.63h6.5v0.72h-6.5zM356.8 334.63h6.5v0.72h-6.5zM213 333.11h6.5v0.77h-6.5zM298 333.11h6.5v0.77h-6.5zM180.3 332.31h6.5v0.80h-6.5zM330.7 332.31h6.5v0.80h-6.5zM199.9 331.47h6.5v0.84h-6.5zM311.1 331.47h6.5v0.84h-6.5zM193.4 330.59h6.5v0.88h-6.5zM317.6 330.59h6.5v0.88h-6.5zM147.6 329.66h6.5v0.93h-6.5zM186.8 329.66h6.5v0.93h-6.5zM324.1 329.66h6.5v0.93h-6.5zM363.4 329.66h6.5v0.93h-6.5zM160.7 328.68h6.5v0.98h-6.5zM180.3 328.68h6.5v0.98h-6.5zM330.7 328.68h6.5v0.98h-6.5zM350.3 328.68h6.5v0.98h-6.5zM173.7 327.62h6.5v1.06h-6.5zM232.6 327.62h6.5v1.06h-6.5zM278.4 327.62h6.5v1.06h-6.5zM337.2 327.62h6.5v1.06h-6.5zM173.7 326.47h6.5v1.15h-6.5zM337.2 326.47h6.5v1.15h-6.5zM134.5 325.21h6.5v1.27h-6.5zM167.2 325.21h6.5v1.27h-6.5zM343.8 325.21h6.5v1.27h-6.5zM376.5 325.21h6.5v1.27h-6.5zM141 323.76h6.5v1.45h-6.5zM245.7 323.76h6.5v1.45h-6.5zM265.3 323.76h6.5v1.45h-6.5zM369.9 323.76h6.5v1.45h-6.5zM108.3 322.02h6.5v1.74h-6.5zM154.1 322.02h6.5v1.74h-6.5zM199.9 322.02h6.5v1.74h-6.5zM213 322.02h6.5v1.74h-6.5zM226.1 322.02h6.5v1.74h-6.5zM284.9 322.02h6.5v1.74h-6.5zM298 322.02h6.5v1.74h-6.5zM311.1 322.02h6.5v1.74h-6.5zM356.8 322.02h6.5v1.74h-6.5zM402.6 322.02h6.5v1.74h-6.5zM95.3 319.58h6.5v2.43h-6.5zM199.9 319.58h6.5v2.43h-6.5zM311.1 319.58h6.5v2.43h-6.5zM415.7 319.58h6.5v2.43h-6.5zM95.3 313.72h6.5v5.87h-6.5zM193.4 313.72h6.5v5.87h-6.5zM317.6 313.72h6.5v5.87h-6.5zM415.7 313.72h6.5v5.87h-6.5zM95.3 311.28h6.5v2.43h-6.5zM193.4 311.28h6.5v2.43h-6.5zM317.6 311.28h6.5v2.43h-6.5zM415.7 311.28h6.5v2.43h-6.5zM95.3 309.54h6.5v1.74h-6.5zM199.9 309.54h6.5v1.74h-6.5zM311.1 309.54h6.5v1.74h-6.5zM415.7 309.54h6.5v1.74h-6.5zM141 308.09h6.5v1.45h-6.5zM167.2 308.09h6.5v1.45h-6.5zM193.4 308.09h13.1v1.45h-13.1zM213 308.09h6.5v1.45h-6.5zM298 308.09h6.5v1.45h-6.5zM311.1 308.09h13.1v1.45h-13.1zM343.8 308.09h6.5v1.45h-6.5zM369.9 308.09h6.5v1.45h-6.5zM128 306.83h6.5v1.27h-6.5zM141 306.83h6.5v1.27h-6.5zM173.7 306.83h6.5v1.27h-6.5zM199.9 306.83h6.5v1.27h-6.5zM219.5 306.83h6.5v1.27h-6.5zM245.7 306.83h6.5v1.27h-6.5zM265.3 306.83h6.5v1.27h-6.5zM291.4 306.83h6.5v1.27h-6.5zM311.1 306.83h6.5v1.27h-6.5zM337.2 306.83h6.5v1.27h-6.5zM369.9 306.83h6.5v1.27h-6.5zM383 306.83h6.5v1.27h-6.5zM186.8 304.62h6.5v1.06h-6.5zM324.1 304.62h6.5v1.06h-6.5zM141 303.64h6.5v0.98h-6.5zM226.1 303.64h13.1v0.98h-13.1zM278.4 303.64h13.1v0.98h-13.1zM369.9 303.64h6.5v0.98h-6.5zM128 302.71h6.5v0.93h-6.5zM141 302.71h13.1v0.93h-13.1zM160.7 302.71h6.5v0.93h-6.5zM180.3 302.71h6.5v0.93h-6.5zM219.5 302.71h6.5v0.93h-6.5zM239.1 302.71h6.5v0.93h-6.5zM252.2 302.71h13.1v0.93h-13.1zM271.8 302.71h6.5v0.93h-6.5zM291.4 302.71h6.5v0.93h-6.5zM330.7 302.71h6.5v0.93h-6.5zM350.3 302.71h6.5v0.93h-6.5zM363.4 302.71h13.1v0.93h-13.1zM383 302.71h6.5v0.93h-6.5zM232.6 300.99h6.5v0.84h-6.5zM278.4 300.99h6.5v0.84h-6.5zM160.7 299.42h6.5v0.77h-6.5zM186.8 299.42h6.5v0.77h-6.5zM324.1 299.42h6.5v0.77h-6.5zM350.3 299.42h6.5v0.77h-6.5zM199.9 297.95h6.5v0.72h-6.5zM226.1 297.95h6.5v0.72h-6.5zM284.9 297.95h6.5v0.72h-6.5zM311.1 297.95h6.5v0.72h-6.5zM180.3 297.25h6.5v0.70h-6.5zM330.7 297.25h6.5v0.70h-6.5zM167.2 295.92h6.5v0.66h-6.5zM232.6 295.92h6.5v0.66h-6.5zM278.4 295.92h6.5v0.66h-6.5zM343.8 295.92h6.5v0.66h-6.5zM134.5 295.27h6.5v0.64h-6.5zM219.5 295.27h6.5v0.64h-6.5zM291.4 295.27h6.5v0.64h-6.5zM376.5 295.27h6.5v0.64h-6.5zM186.8 294.64h6.5v0.63h-6.5zM324.1 294.64h6.5v0.63h-6.5zM199.9 294.03h6.5v0.61h-6.5zM311.1 294.03h6.5v0.61h-6.5zM226.1 293.43h6.5v0.60h-6.5zM284.9 293.43h6.5v0.60h-6.5zM167.2 292.84h6.5v0.59h-6.5zM186.8 292.84h6.5v0.59h-6.5zM324.1 292.84h6.5v0.59h-6.5zM343.8 292.84h6.5v0.59h-6.5zM141 284.50h19.6v7.20h-19.6zM356.8 284.50h19.6v7.20h-19.6zM141 224.60h19.6v7.20h-19.6zM356.8 224.60h19.6v7.20h-19.6z"/>
<path fill="#e4e4fb" d="M180.3 182.62h19.6v0.58h-19.6zM317.6 182.62h19.6v0.58h-19.6zM180.3 181.43h6.5v0.60h-6.5zM330.7 181.43h6.5v0.60h-6.5zM239.1 180.81h6.5v0.62h-6.5zM271.8 180.81h6.5v0.62h-6.5zM147.6 180.18h6.5v0.63h-6.5zM219.5 180.18h6.5v0.63h-6.5zM291.4 180.18h6.5v0.63h-6.5zM363.4 180.18h6.5v0.63h-6.5zM206.4 179.54h6.5v0.64h-6.5zM304.5 179.54h6.5v0.64h-6.5zM128 178.88h6.5v0.66h-6.5zM383 178.88h6.5v0.66h-6.5zM173.7 178.20h6.5v0.68h-6.5zM337.2 178.20h6.5v0.68h-6.5zM121.4 176.05h6.5v0.74h-6.5zM245.7 176.05h6.5v0.74h-6.5zM265.3 176.05h6.5v0.74h-6.5zM389.5 176.05h6.5v0.74h-6.5zM141 174.50h6.5v0.79h-6.5zM186.8 174.50h6.5v0.79h-6.5zM324.1 174.50h6.5v0.79h-6.5zM369.9 174.50h6.5v0.79h-6.5zM141 173.67h6.5v0.82h-6.5zM369.9 173.67h6.5v0.82h-6.5zM154.1 171.91h6.5v0.90h-6.5zM356.8 171.91h6.5v0.90h-6.5zM108.3 170.96h6.5v0.95h-6.5zM402.6 170.96h6.5v0.95h-6.5zM141 169.95h13.1v1.01h-13.1zM199.9 169.95h6.5v1.01h-6.5zM311.1 169.95h6.5v1.01h-6.5zM363.4 169.95h13.1v1.01h-13.1zM186.8 167.70h6.5v1.18h-6.5zM324.1 167.70h6.5v1.18h-6.5zM154.1 166.40h6.5v1.30h-6.5zM213 166.40h6.5v1.30h-6.5zM298 166.40h6.5v1.30h-6.5zM356.8 166.40h6.5v1.30h-6.5zM128 164.91h6.5v1.48h-6.5zM173.7 164.91h6.5v1.48h-6.5zM186.8 164.91h6.5v1.48h-6.5zM219.5 164.91h6.5v1.48h-6.5zM291.4 164.91h6.5v1.48h-6.5zM324.1 164.91h6.5v1.48h-6.5zM337.2 164.91h6.5v1.48h-6.5zM383 164.91h6.5v1.48h-6.5zM141 163.13h6.5v1.79h-6.5zM167.2 163.13h6.5v1.79h-6.5zM239.1 163.13h6.5v1.79h-6.5zM271.8 163.13h6.5v1.79h-6.5zM343.8 163.13h6.5v1.79h-6.5zM369.9 163.13h6.5v1.79h-6.5zM160.7 160.63h6.5v2.50h-6.5zM173.7 160.63h6.5v2.50h-6.5zM239.1 160.63h6.5v2.50h-6.5zM271.8 160.63h6.5v2.50h-6.5zM337.2 160.63h6.5v2.50h-6.5zM350.3 160.63h6.5v2.50h-6.5zM128 154.62h6.5v6.02h-6.5zM219.5 154.62h6.5v6.02h-6.5zM291.4 154.62h6.5v6.02h-6.5zM383 154.62h6.5v6.02h-6.5zM128 152.12h6.5v2.50h-6.5zM219.5 152.12h6.5v2.50h-6.5zM291.4 152.12h6.5v2.50h-6.5zM383 152.12h6.5v2.50h-6.5zM160.7 150.34h6.5v1.79h-6.5zM173.7 150.34h6.5v1.79h-6.5zM239.1 150.34h6.5v1.79h-6.5zM271.8 150.34h6.5v1.79h-6.5zM337.2 150.34h6.5v1.79h-6.5zM350.3 150.34h6.5v1.79h-6.5zM226.1 148.85h6.5v1.48h-6.5zM239.1 148.85h6.5v1.48h-6.5zM271.8 148.85h6.5v1.48h-6.5zM284.9 148.85h6.5v1.48h-6.5zM186.8 147.55h6.5v1.30h-6.5zM232.6 147.55h6.5v1.30h-6.5zM278.4 147.55h6.5v1.30h-6.5zM324.1 147.55h6.5v1.30h-6.5zM199.9 146.38h6.5v1.18h-6.5zM213 146.38h6.5v1.18h-6.5zM298 146.38h6.5v1.18h-6.5zM311.1 146.38h6.5v1.18h-6.5zM141 145.30h6.5v1.08h-6.5zM219.5 145.30h6.5v1.08h-6.5zM291.4 145.30h6.5v1.08h-6.5zM369.9 145.30h6.5v1.08h-6.5zM101.8 144.29h6.5v1.01h-6.5zM193.4 144.29h6.5v1.01h-6.5zM317.6 144.29h6.5v1.01h-6.5zM409.2 144.29h6.5v1.01h-6.5zM245.7 142.44h6.5v0.90h-6.5zM265.3 142.44h6.5v0.90h-6.5zM128 141.58h6.5v0.86h-6.5zM383 141.58h6.5v0.86h-6.5zM134.5 139.96h6.5v0.79h-6.5zM376.5 139.96h6.5v0.79h-6.5zM114.9 139.20h6.5v0.76h-6.5zM193.4 139.20h6.5v0.76h-6.5zM239.1 139.20h6.5v0.76h-6.5zM271.8 139.20h6.5v0.76h-6.5zM317.6 139.20h6.5v0.76h-6.5zM396.1 139.20h6.5v0.76h-6.5zM141 138.46h6.5v0.74h-6.5zM369.9 138.46h6.5v0.74h-6.5zM121.4 137.05h6.5v0.70h-6.5zM186.8 137.05h6.5v0.70h-6.5zM324.1 137.05h6.5v0.70h-6.5zM389.5 137.05h6.5v0.70h-6.5zM173.7 135.71h6.5v0.66h-6.5zM337.2 135.71h6.5v0.66h-6.5zM154.1 134.44h6.5v0.63h-6.5zM356.8 134.44h6.5v0.63h-6.5zM245.7 133.22h26.2v0.60h-26.2zM180.3 132.63h6.5v0.59h-6.5zM330.7 132.63h6.5v0.59h-6.5zM232.6 132.05h6.5v0.58h-6.5zM278.4 132.05h6.5v0.58h-6.5zM180.3 341.03h19.6v0.57h-19.6zM317.6 341.03h19.6v0.57h-19.6zM180.3 339.87h6.5v0.59h-6.5zM330.7 339.87h6.5v0.59h-6.5zM239.1 339.27h6.5v0.60h-6.5zM271.8 339.27h6.5v0.60h-6.5zM147.6 338.66h6.5v0.61h-6.5zM219.5 338.66h6.5v0.61h-6.5zM291.4 338.66h6.5v0.61h-6.5zM363.4 338.66h6.5v0.61h-6.5zM206.4 338.03h6.5v0.63h-6.5zM304.5 338.03h6.5v0.63h-6.5zM128 337.38h6.5v0.64h-6.5zM383 337.38h6.5v0.64h-6.5zM173.7 336.72h6.5v0.66h-6.5zM337.2 336.72h6.5v0.66h-6.5zM121.4 334.63h6.5v0.72h-6.5zM245.7 334.63h6.5v0.72h-6.5zM265.3 334.63h6.5v0.72h-6.5zM389.5 334.63h6.5v0.72h-6.5zM141 333.11h6.5v0.77h-6.5zM186.8 333.11h6.5v0.77h-6.5zM324.1 333.11h6.5v0.77h-6.5zM369.9 333.11h6.5v0.77h-6.5zM141 332.31h6.5v0.80h-6.5zM369.9 332.31h6.5v0.80h-6.5zM154.1 330.59h6.5v0.88h-6.5zM356.8 330.59h6.5v0.88h-6.5zM108.3 329.66h6.5v0.93h-6.5zM402.6 329.66h6.5v0.93h-6.5zM141 328.68h13.1v0.98h-13.1zM199.9 328.68h6.5v0.98h-6.5zM311.1 328.68h6.5v0.98h-6.5zM363.4 328.68h13.1v0.98h-13.1zM186.8 326.47h6.5v1.15h-6.5zM324.1 326.47h6.5v1.15h-6.5zM154.1 325.21h6.5v1.27h-6.5zM213 325.21h6.5v1.27h-6.5zM298 325.21h6.5v1.27h-6.5zM356.8 325.21h6.5v1.27h-6.5zM128 323.76h6.5v1.45h-6.5zM173.7 323.76h6.5v1.45h-6.5zM186.8 323.76h6.5v1.45h-6.5zM219.5 323.76h6.5v1.45h-6.5zM291.4 323.76h6.5v1.45h-6.5zM324.1 323.76h6.5v1.45h-6.5zM337.2 323.76h6.5v1.45h-6.5zM383 323.76h6.5v1.45h-6.5zM141 322.02h6.5v1.74h-6.5zM167.2 322.02h6.5v1.74h-6.5zM239.1 322.02h6.5v1.74h-6.5zM271.8 322.02h6.5v1.74h-6.5zM343.8 322.02h6.5v1.74h-6.5zM369.9 322.02h6.5v1.74h-6.5zM160.7 319.58h6.5v2.43h-6.5zM173.7 319.58h6.5v2.43h-6.5zM239.1 319.58h6.5v2.43h-6.5zM271.8 319.58h6.5v2.43h-6.5zM337.2 319.58h6.5v2.43h-6.5zM350.3 319.58h6.5v2.43h-6.5zM128 313.72h6.5v5.87h-6.5zM219.5 313.72h6.5v5.87h-6.5zM291.4 313.72h6.5v5.87h-6.5zM383 313.72h6.5v5.87h-6.5zM128 311.28h6.5v2.43h-6.5zM219.5 311.28h6.5v2.43h-6.5zM291.4 311.28h6.5v2.43h-6.5zM383 311.28h6.5v2.43h-6.5zM160.7 309.54h6.5v1.74h-6.5zM173.7 309.54h6.5v1.74h-6.5zM239.1 309.54h6.5v1.74h-6.5zM271.8 309.54h6.5v1.74h-6.5zM337.2 309.54h6.5v1.74h-6.5zM350.3 309.54h6.5v1.74h-6.5zM226.1 308.09h6.5v1.45h-6.5zM239.1 308.09h6.5v1.45h-6.5zM271.8 308.09h6.5v1.45h-6.5zM284.9 308.09h6.5v1.45h-6.5zM186.8 306.83h6.5v1.27h-6.5zM232.6 306.83h6.5v1.27h-6.5zM278.4 306.83h6.5v1.27h-6.5zM324.1 306.83h6.5v1.27h-6.5zM199.9 305.68h6.5v1.15h-6.5zM213 305.68h6.5v1.15h-6.5zM298 305.68h6.5v1.15h-6.5zM311.1 305.68h6.5v1.15h-6.5zM141 304.62h6.5v1.06h-6.5zM219.5 304.62h6.5v1.06h-6.5zM291.4 304.62h6.5v1.06h-6.5zM369.9 304.62h6.5v1.06h-6.5zM101.8 303.64h6.5v0.98h-6.5zM193.4 303.64h6.5v0.98h-6.5zM317.6 303.64h6.5v0.98h-6.5zM409.2 303.64h6.5v0.98h-6.5zM245.7 301.83h6.5v0.88h-6.5zM265.3 301.83h6.5v0.88h-6.5zM128 300.99h6.5v0.84h-6.5zM383 300.99h6.5v0.84h-6.5zM134.5 299.42h6.5v0.77h-6.5zM376.5 299.42h6.5v0.77h-6.5zM114.9 298.67h6.5v0.75h-6.5zM193.4 298.67h6.5v0.75h-6.5zM239.1 298.67h6.5v0.75h-6.5zM271.8 298.67h6.5v0.75h-6.5zM317.6 298.67h6.5v0.75h-6.5zM396.1 298.67h6.5v0.75h-6.5zM141 297.95h6.5v0.72h-6.5zM369.9 297.95h6.5v0.72h-6.5zM121.4 296.58h6.5v0.68h-6.5zM186.8 296.58h6.5v0.68h-6.5zM324.1 296.58h6.5v0.68h-6.5zM389.5 296.58h6.5v0.68h-6.5zM173.7 295.27h6.5v0.64h-6.5zM337.2 295.27h6.5v0.64h-6.5zM154.1 294.03h6.5v0.61h-6.5zM356.8 294.03h6.5v0.61h-6.5zM245.7 292.84h26.2v0.59h-26.2zM180.3 292.27h6.5v0.58h-6.5zM330.7 292.27h6.5v0.58h-6.5zM232.6 291.70h6.5v0.57h-6.5zM278.4 291.70h6.5v0.57h-6.5z"/>
<path fill="#d9d9fa" d="M199.9 182.62h19.6v0.58h-19.6zM298 182.62h19.6v0.58h-19.6zM226.1 182.03h26.2v0.59h-26.2zM265.3 182.03h26.2v0.59h-26.2zM154.1 180.81h6.5v0.62h-6.5zM167.2 180.81h6.5v0.62h-6.5zM186.8 180.81h6.5v0.62h-6.5zM252.2 180.81h13.1v0.62h-13.1zM324.1 180.81h6.5v0.62h-6.5zM343.8 180.81h6.5v0.62h-6.5zM356.8 180.81h6.5v0.62h-6.5zM213 180.18h6.5v0.63h-6.5zM298 180.18h6.5v0.63h-6.5zM199.9 179.54h6.5v0.64h-6.5zM311.1 179.54h6.5v0.64h-6.5zM128 178.20h13.1v0.68h-13.1zM206.4 178.20h6.5v0.68h-6.5zM304.5 178.20h6.5v0.68h-6.5zM376.5 178.20h13.1v0.68h-13.1zM193.4 177.51h6.5v0.70h-6.5zM206.4 177.51h6.5v0.70h-6.5zM304.5 177.51h6.5v0.70h-6.5zM317.6 177.51h6.5v0.70h-6.5zM128 176.79h6.5v0.72h-6.5zM154.1 176.79h6.5v0.72h-6.5zM186.8 176.79h6.5v0.72h-6.5zM324.1 176.79h6.5v0.72h-6.5zM356.8 176.79h6.5v0.72h-6.5zM383 176.79h6.5v0.72h-6.5zM114.9 176.05h6.5v0.74h-6.5zM396.1 176.05h6.5v0.74h-6.5zM147.6 175.29h6.5v0.76h-6.5zM199.9 175.29h6.5v0.76h-6.5zM311.1 175.29h6.5v0.76h-6.5zM363.4 175.29h6.5v0.76h-6.5zM226.1 173.67h6.5v0.82h-6.5zM284.9 173.67h6.5v0.82h-6.5zM173.7 172.81h6.5v0.86h-6.5zM337.2 172.81h6.5v0.86h-6.5zM167.2 171.91h6.5v0.90h-6.5zM343.8 171.91h6.5v0.90h-6.5zM128 168.87h6.5v1.08h-6.5zM383 168.87h6.5v1.08h-6.5zM134.5 167.70h6.5v1.18h-6.5zM160.7 167.70h13.1v1.18h-13.1zM193.4 167.70h13.1v1.18h-13.1zM219.5 167.70h6.5v1.18h-6.5zM291.4 167.70h6.5v1.18h-6.5zM311.1 167.70h13.1v1.18h-13.1zM343.8 167.70h13.1v1.18h-13.1zM376.5 167.70h6.5v1.18h-6.5zM186.8 166.40h6.5v1.30h-6.5zM219.5 166.40h6.5v1.30h-6.5zM291.4 166.40h6.5v1.30h-6.5zM324.1 166.40h6.5v1.30h-6.5zM128 160.63h6.5v2.50h-6.5zM383 160.63h6.5v2.50h-6.5zM206.4 154.62h6.5v6.02h-6.5zM304.5 154.62h6.5v6.02h-6.5zM206.4 152.12h6.5v2.50h-6.5zM304.5 152.12h6.5v2.50h-6.5zM128 150.34h6.5v1.79h-6.5zM383 150.34h6.5v1.79h-6.5zM245.7 146.38h6.5v1.18h-6.5zM265.3 146.38h6.5v1.18h-6.5zM160.7 145.30h13.1v1.08h-13.1zM199.9 145.30h6.5v1.08h-6.5zM311.1 145.30h6.5v1.08h-6.5zM343.8 145.30h13.1v1.08h-13.1zM128 144.29h6.5v1.01h-6.5zM173.7 144.29h6.5v1.01h-6.5zM252.2 144.29h13.1v1.01h-13.1zM337.2 144.29h6.5v1.01h-6.5zM383 144.29h6.5v1.01h-6.5zM154.1 141.58h6.5v0.86h-6.5zM356.8 141.58h6.5v0.86h-6.5zM199.9 140.75h6.5v0.82h-6.5zM219.5 140.75h6.5v0.82h-6.5zM245.7 140.75h6.5v0.82h-6.5zM265.3 140.75h6.5v0.82h-6.5zM291.4 140.75h6.5v0.82h-6.5zM311.1 140.75h6.5v0.82h-6.5zM141 139.96h6.5v0.79h-6.5zM252.2 139.96h13.1v0.79h-13.1zM369.9 139.96h6.5v0.79h-6.5zM141 139.20h6.5v0.76h-6.5zM369.9 139.20h6.5v0.76h-6.5zM147.6 137.05h6.5v0.70h-6.5zM193.4 137.05h6.5v0.70h-6.5zM317.6 137.05h6.5v0.70h-6.5zM363.4 137.05h6.5v0.70h-6.5zM206.4 135.71h6.5v0.66h-6.5zM245.7 135.71h6.5v0.66h-6.5zM265.3 135.71h6.5v0.66h-6.5zM304.5 135.71h6.5v0.66h-6.5zM147.6 135.07h6.5v0.64h-6.5zM180.3 135.07h6.5v0.64h-6.5zM232.6 135.07h6.5v0.64h-6.5zM278.4 135.07h6.5v0.64h-6.5zM330.7 135.07h6.5v0.64h-6.5zM363.4 135.07h6.5v0.64h-6.5zM154.1 133.82h13.1v0.62h-13.1zM206.4 133.82h6.5v0.62h-6.5zM304.5 133.82h6.5v0.62h-6.5zM350.3 133.82h13.1v0.62h-13.1zM160.7 133.22h6.5v0.60h-6.5zM350.3 133.22h6.5v0.60h-6.5zM186.8 132.63h6.5v0.59h-6.5zM199.9 132.63h6.5v0.59h-6.5zM311.1 132.63h6.5v0.59h-6.5zM324.1 132.63h6.5v0.59h-6.5zM160.7 124.85h19.6v7.20h-19.6zM337.2 124.85h19.6v7.20h-19.6zM199.9 341.03h19.6v0.57h-19.6zM298 341.03h19.6v0.57h-19.6zM226.1 340.46h26.2v0.58h-26.2zM265.3 340.46h26.2v0.58h-26.2zM154.1 339.27h6.5v0.60h-6.5zM167.2 339.27h6.5v0.60h-6.5zM186.8 339.27h6.5v0.60h-6.5zM252.2 339.27h13.1v0.60h-13.1zM324.1 339.27h6.5v0.60h-6.5zM343.8 339.27h6.5v0.60h-6.5zM356.8 339.27h6.5v0.60h-6.5zM213 338.66h6.5v0.61h-6.5zM298 338.66h6.5v0.61h-6.5zM199.9 338.03h6.5v0.63h-6.5zM311.1 338.03h6.5v0.63h-6.5zM128 336.72h13.1v0.66h-13.1zM206.4 336.72h6.5v0.66h-6.5zM304.5 336.72h6.5v0.66h-6.5zM376.5 336.72h13.1v0.66h-13.1zM193.4 336.05h6.5v0.68h-6.5zM206.4 336.05h6.5v0.68h-6.5zM304.5 336.05h6.5v0.68h-6.5zM317.6 336.05h6.5v0.68h-6.5zM128 335.35h6.5v0.70h-6.5zM154.1 335.35h6.5v0.70h-6.5zM186.8 335.35h6.5v0.70h-6.5zM324.1 335.35h6.5v0.70h-6.5zM356.8 335.35h6.5v0.70h-6.5zM383 335.35h6.5v0.70h-6.5zM114.9 334.63h6.5v0.72h-6.5zM396.1 334.63h6.5v0.72h-6.5zM147.6 333.88h6.5v0.75h-6.5zM199.9 333.88h6.5v0.75h-6.5zM311.1 333.88h6.5v0.75h-6.5zM363.4 333.88h6.5v0.75h-6.5zM226.1 332.31h6.5v0.80h-6.5zM284.9 332.31h6.5v0.80h-6.5zM173.7 331.47h6.5v0.84h-6.5zM337.2 331.47h6.5v0.84h-6.5zM167.2 330.59h6.5v0.88h-6.5zM343.8 330.59h6.5v0.88h-6.5zM128 327.62h6.5v1.06h-6.5zM383 327.62h6.5v1.06h-6.5zM134.5 326.47h6.5v1.15h-6.5zM160.7 326.47h13.1v1.15h-13.1zM193.4 326.47h13.1v1.15h-13.1zM219.5 326.47h6.5v1.15h-6.5zM291.4 326.47h6.5v1.15h-6.5zM311.1 326.47h13.1v1.15h-13.1zM343.8 326.47h13.1v1.15h-13.1zM376.5 326.47h6.5v1.15h-6.5zM186.8 325.21h6.5v1.27h-6.5zM219.5 325.21h6.5v1.27h-6.5zM291.4 325.21h6.5v1.27h-6.5zM324.1 325.21h6.5v1.27h-6.5zM128 319.58h6.5v2.43h-6.5zM383 319.58h6.5v2.43h-6.5zM206.4 313.72h6.5v5.87h-6.5zM304.5 313.72h6.5v5.87h-6.5zM206.4 311.28h6.5v2.43h-6.5zM304.5 311.28h6.5v2.43h-6.5zM128 309.54h6.5v1.74h-6.5zM383 309.54h6.5v1.74h-6.5zM245.7 305.68h6.5v1.15h-6.5zM265.3 305.68h6.5v1.15h-6.5zM160.7 304.62h13.1v1.06h-13.1zM199.9 304.62h6.5v1.06h-6.5zM311.1 304.62h6.5v1.06h-6.5zM343.8 304.62h13.1v1.06h-13.1zM128 303.64h6.5v0.98h-6.5zM173.7 303.64h6.5v0.98h-6.5zM252.2 303.64h13.1v0.98h-13.1zM337.2 303.64h6.5v0.98h-6.5zM383 303.64h6.5v0.98h-6.5zM154.1 300.99h6.5v0.84h-6.5zM356.8 300.99h6.5v0.84h-6.5zM199.9 300.19h6.5v0.80h-6.5zM219.5 300.19h6.5v0.80h-6.5zM245.7 300.19h6.5v0.80h-6.5zM265.3 300.19h6.5v0.80h-6.5zM291.4 300.19h6.5v0.80h-6.5zM311.1 300.19h6.5v0.80h-6.5zM141 299.42h6.5v0.77h-6.5zM252.2 299.42h13.1v0.77h-13.1zM369.9 299.42h6.5v0.77h-6.5zM141 298.67h6.5v0.75h-6.5zM369.9 298.67h6.5v0.75h-6.5zM147.6 296.58h6.5v0.68h-6.5zM193.4 296.58h6.5v0.68h-6.5zM317.6 296.58h6.5v0.68h-6.5zM363.4 296.58h6.5v0.68h-6.5zM206.4 295.27h6.5v0.64h-6.5zM245.7 295.27h6.5v0.64h-6.5zM265.3 295.27h6.5v0.64h-6.5zM304.5 295.27h6.5v0.64h-6.5zM147.6 294.64h6.5v0.63h-6.5zM180.3 294.64h6.5v0.63h-6.5zM232.6 294.64h6.5v0.63h-6.5zM278.4 294.64h6.5v0.63h-6.5zM330.7 294.64h6.5v0.63h-6.5zM363.4 294.64h6.5v0.63h-6.5zM154.1 293.43h13.1v0.60h-13.1zM206.4 293.43h6.5v0.60h-6.5zM304.5 293.43h6.5v0.60h-6.5zM350.3 293.43h13.1v0.60h-13.1zM160.7 292.84h6.5v0.59h-6.5zM350.3 292.84h6.5v0.59h-6.5zM186.8 292.27h6.5v0.58h-6.5zM199.9 292.27h6.5v0.58h-6.5zM311.1 292.27h6.5v0.58h-6.5zM324.1 292.27h6.5v0.58h-6.5zM160.7 284.50h19.6v7.20h-19.6zM337.2 284.50h19.6v7.20h-19.6zM160.7 224.60h19.6v7.20h-19.6zM337.2 224.60h19.6v7.20h-19.6zM180.3 232.80h6.5v1.00h-6.5zM330.7 232.80h6.5v1.00h-6.5zM101.8 236.80h6.5v1.00h-6.5zM409.2 236.80h6.5v1.00h-6.5zM114.9 238.80h6.5v1.00h-6.5zM396.1 238.80h6.5v1.00h-6.5zM186.8 240.80h6.5v1.00h-6.5zM324.1 240.80h6.5v1.00h-6.5z"/>
<path fill="#d4d4f9" d="M219.5 182.62h19.6v0.58h-19.6zM278.4 182.62h19.6v0.58h-19.6zM213 182.03h13.1v0.59h-13.1zM252.2 182.03h13.1v0.59h-13.1zM291.4 182.03h13.1v0.59h-13.1zM213 181.43h13.1v0.60h-13.1zM291.4 181.43h13.1v0.60h-13.1zM173.7 180.18h6.5v0.63h-6.5zM337.2 180.18h6.5v0.63h-6.5zM213 179.54h6.5v0.64h-6.5zM298 179.54h6.5v0.64h-6.5zM147.6 178.88h6.5v0.66h-6.5zM173.7 178.88h6.5v0.66h-6.5zM193.4 178.88h6.5v0.66h-6.5zM239.1 178.88h6.5v0.66h-6.5zM271.8 178.88h6.5v0.66h-6.5zM317.6 178.88h6.5v0.66h-6.5zM337.2 178.88h6.5v0.66h-6.5zM363.4 178.88h6.5v0.66h-6.5zM252.2 178.20h13.1v0.68h-13.1zM141 176.05h6.5v0.74h-6.5zM186.8 176.05h6.5v0.74h-6.5zM324.1 176.05h6.5v0.74h-6.5zM369.9 176.05h6.5v0.74h-6.5zM160.7 174.50h6.5v0.79h-6.5zM350.3 174.50h6.5v0.79h-6.5zM160.7 173.67h6.5v0.82h-6.5zM206.4 173.67h6.5v0.82h-6.5zM304.5 173.67h6.5v0.82h-6.5zM350.3 173.67h6.5v0.82h-6.5zM239.1 172.81h6.5v0.86h-6.5zM271.8 172.81h6.5v0.86h-6.5zM213 171.91h6.5v0.90h-6.5zM239.1 171.91h6.5v0.90h-6.5zM271.8 171.91h6.5v0.90h-6.5zM298 171.91h6.5v0.90h-6.5zM239.1 169.95h6.5v1.01h-6.5zM271.8 169.95h6.5v1.01h-6.5zM147.6 168.87h6.5v1.08h-6.5zM206.4 168.87h6.5v1.08h-6.5zM304.5 168.87h6.5v1.08h-6.5zM363.4 168.87h6.5v1.08h-6.5zM101.8 167.70h13.1v1.18h-13.1zM128 167.70h6.5v1.18h-6.5zM226.1 167.70h6.5v1.18h-6.5zM252.2 167.70h13.1v1.18h-13.1zM284.9 167.70h6.5v1.18h-6.5zM383 167.70h6.5v1.18h-6.5zM402.6 167.70h13.1v1.18h-13.1zM252.2 166.40h13.1v1.30h-13.1zM147.6 160.63h6.5v2.50h-6.5zM245.7 160.63h6.5v2.50h-6.5zM265.3 160.63h6.5v2.50h-6.5zM363.4 160.63h6.5v2.50h-6.5zM232.6 154.62h13.1v6.02h-13.1zM271.8 154.62h13.1v6.02h-13.1zM232.6 152.12h13.1v2.50h-13.1zM271.8 152.12h13.1v2.50h-13.1zM147.6 150.34h6.5v1.79h-6.5zM245.7 150.34h6.5v1.79h-6.5zM265.3 150.34h6.5v1.79h-6.5zM363.4 150.34h6.5v1.79h-6.5zM128 145.30h6.5v1.08h-6.5zM383 145.30h6.5v1.08h-6.5zM206.4 142.44h6.5v0.90h-6.5zM304.5 142.44h6.5v0.90h-6.5zM147.6 141.58h6.5v0.86h-6.5zM252.2 141.58h13.1v0.86h-13.1zM363.4 141.58h6.5v0.86h-6.5zM154.1 139.96h6.5v0.79h-6.5zM356.8 139.96h6.5v0.79h-6.5zM147.6 138.46h6.5v0.74h-6.5zM363.4 138.46h6.5v0.74h-6.5zM206.4 137.74h13.1v0.72h-13.1zM239.1 137.74h6.5v0.72h-6.5zM271.8 137.74h6.5v0.72h-6.5zM298 137.74h13.1v0.72h-13.1zM128 137.05h6.5v0.70h-6.5zM383 137.05h6.5v0.70h-6.5zM193.4 136.37h6.5v0.68h-6.5zM206.4 136.37h6.5v0.68h-6.5zM304.5 136.37h6.5v0.68h-6.5zM317.6 136.37h6.5v0.68h-6.5zM239.1 135.07h6.5v0.64h-6.5zM271.8 135.07h6.5v0.64h-6.5zM186.8 134.44h6.5v0.63h-6.5zM206.4 134.44h6.5v0.63h-6.5zM304.5 134.44h6.5v0.63h-6.5zM324.1 134.44h6.5v0.63h-6.5zM232.6 133.82h6.5v0.62h-6.5zM278.4 133.82h6.5v0.62h-6.5zM232.6 133.22h6.5v0.60h-6.5zM278.4 133.22h6.5v0.60h-6.5zM226.1 132.05h6.5v0.58h-6.5zM284.9 132.05h6.5v0.58h-6.5zM219.5 341.03h19.6v0.57h-19.6zM278.4 341.03h19.6v0.57h-19.6zM213 340.46h13.1v0.58h-13.1zM252.2 340.46h13.1v0.58h-13.1zM291.4 340.46h13.1v0.58h-13.1zM213 339.87h13.1v0.59h-13.1zM291.4 339.87h13.1v0.59h-13.1zM173.7 338.66h6.5v0.61h-6.5zM337.2 338.66h6.5v0.61h-6.5zM213 338.03h6.5v0.63h-6.5zM298 338.03h6.5v0.63h-6.5zM147.6 337.38h6.5v0.64h-6.5zM173.7 337.38h6.5v0.64h-6.5zM193.4 337.38h6.5v0.64h-6.5zM239.1 337.38h6.5v0.64h-6.5zM271.8 337.38h6.5v0.64h-6.5zM317.6 337.38h6.5v0.64h-6.5zM337.2 337.38h6.5v0.64h-6.5zM363.4 337.38h6.5v0.64h-6.5zM252.2 336.72h13.1v0.66h-13.1zM141 334.63h6.5v0.72h-6.5zM186.8 334.63h6.5v0.72h-6.5zM324.1 334.63h6.5v0.72h-6.5zM369.9 334.63h6.5v0.72h-6.5zM160.7 333.11h6.5v0.77h-6.5zM350.3 333.11h6.5v0.77h-6.5zM160.7 332.31h6.5v0.80h-6.5zM206.4 332.31h6.5v0.80h-6.5zM304.5 332.31h6.5v0.80h-6.5zM350.3 332.31h6.5v0.80h-6.5zM239.1 331.47h6.5v0.84h-6.5zM271.8 331.47h6.5v0.84h-6.5zM213 330.59h6.5v0.88h-6.5zM239.1 330.59h6.5v0.88h-6.5zM271.8 330.59h6.5v0.88h-6.5zM298 330.59h6.5v0.88h-6.5zM239.1 328.68h6.5v0.98h-6.5zM271.8 328.68h6.5v0.98h-6.5zM147.6 327.62h6.5v1.06h-6.5zM206.4 327.62h6.5v1.06h-6.5zM304.5 327.62h6.5v1.06h-6.5zM363.4 327.62h6.5v1.06h-6.5zM101.8 326.47h13.1v1.15h-13.1zM128 326.47h6.5v1.15h-6.5zM226.1 326.47h6.5v1.15h-6.5zM252.2 326.47h13.1v1.15h-13.1zM284.9 326.47h6.5v1.15h-6.5zM383 326.47h6.5v1.15h-6.5zM402.6 326.47h13.1v1.15h-13.1zM252.2 325.21h13.1v1.27h-13.1zM147.6 319.58h6.5v2.43h-6.5zM245.7 319.58h6.5v2.43h-6.5zM265.3 319.58h6.5v2.43h-6.5zM363.4 319.58h6.5v2.43h-6.5zM232.6 313.72h13.1v5.87h-13.1zM271.8 313.72h13.1v5.87h-13.1zM232.6 311.28h13.1v2.43h-13.1zM271.8 311.28h13.1v2.43h-13.1zM147.6 309.54h6.5v1.74h-6.5zM245.7 309.54h6.5v1.74h-6.5zM265.3 309.54h6.5v1.74h-6.5zM363.4 309.54h6.5v1.74h-6.5zM128 304.62h6.5v1.06h-6.5zM383 304.62h6.5v1.06h-6.5zM206.4 301.83h6.5v0.88h-6.5zM304.5 301.83h6.5v0.88h-6.5zM147.6 300.99h6.5v0.84h-6.5zM252.2 300.99h13.1v0.84h-13.1zM363.4 300.99h6.5v0.84h-6.5zM154.1 299.42h6.5v0.77h-6.5zM356.8 299.42h6.5v0.77h-6.5zM147.6 297.95h6.5v0.72h-6.5zM363.4 297.95h6.5v0.72h-6.5zM206.4 297.25h13.1v0.70h-13.1zM239.1 297.25h6.5v0.70h-6.5zM271.8 297.25h6.5v0.70h-6.5zM298 297.25h13.1v0.70h-13.1zM128 296.58h6.5v0.68h-6.5zM383 296.58h6.5v0.68h-6.5zM193.4 295.92h6.5v0.66h-6.5zM206.4 295.92h6.5v0.66h-6.5zM304.5 295.92h6.5v0.66h-6.5zM317.6 295.92h6.5v0.66h-6.5zM239.1 294.64h6.5v0.63h-6.5zM271.8 294.64h6.5v0.63h-6.5zM186.8 294.03h6.5v0.61h-6.5zM206.4 294.03h6.5v0.61h-6.5zM304.5 294.03h6.5v0.61h-6.5zM324.1 294.03h6.5v0.61h-6.5zM232.6 293.43h6.5v0.60h-6.5zM278.4 293.43h6.5v0.60h-6.5zM232.6 292.84h6.5v0.59h-6.5zM278.4 292.84h6.5v0.59h-6.5zM226.1 291.70h6.5v0.57h-6.5zM284.9 291.70h6.5v0.57h-6.5zM173.7 232.80h6.5v1.00h-6.5zM337.2 232.80h6.5v1.00h-6.5zM114.9 236.80h6.5v1.00h-6.5zM245.7 236.80h26.2v1.00h-26.2zM396.1 236.80h6.5v1.00h-6.5zM134.5 238.80h6.5v1.00h-6.5zM376.5 238.80h6.5v1.00h-6.5zM180.3 240.80h6.5v1.00h-6.5zM330.7 240.80h6.5v1.00h-6.5z"/>
<path fill="#cfcff8" d="M239.1 182.62h39.2v0.58h-39.2zM206.4 182.03h6.5v0.59h-6.5zM304.5 182.03h6.5v0.59h-6.5zM226.1 181.43h6.5v0.60h-6.5zM284.9 181.43h6.5v0.60h-6.5zM147.6 180.81h6.5v0.62h-6.5zM160.7 180.81h6.5v0.62h-6.5zM350.3 180.81h6.5v0.62h-6.5zM363.4 180.81h6.5v0.62h-6.5zM141 180.18h6.5v0.63h-6.5zM239.1 180.18h6.5v0.63h-6.5zM271.8 180.18h6.5v0.63h-6.5zM369.9 180.18h6.5v0.63h-6.5zM245.7 179.54h6.5v0.64h-6.5zM265.3 179.54h6.5v0.64h-6.5zM160.7 178.20h6.5v0.68h-6.5zM226.1 178.20h6.5v0.68h-6.5zM284.9 178.20h6.5v0.68h-6.5zM350.3 178.20h6.5v0.68h-6.5zM193.4 176.79h6.5v0.72h-6.5zM245.7 176.79h6.5v0.72h-6.5zM265.3 176.79h6.5v0.72h-6.5zM317.6 176.79h6.5v0.72h-6.5zM173.7 176.05h6.5v0.74h-6.5zM337.2 176.05h6.5v0.74h-6.5zM114.9 173.67h6.5v0.82h-6.5zM396.1 173.67h6.5v0.82h-6.5zM128 171.91h6.5v0.90h-6.5zM147.6 171.91h6.5v0.90h-6.5zM363.4 171.91h6.5v0.90h-6.5zM383 171.91h6.5v0.90h-6.5zM167.2 169.95h6.5v1.01h-6.5zM343.8 169.95h6.5v1.01h-6.5zM219.5 168.87h6.5v1.08h-6.5zM291.4 168.87h6.5v1.08h-6.5zM232.6 167.70h6.5v1.18h-6.5zM278.4 167.70h6.5v1.18h-6.5zM180.3 166.40h6.5v1.30h-6.5zM330.7 166.40h6.5v1.30h-6.5zM134.5 160.63h6.5v2.50h-6.5zM167.2 160.63h6.5v2.50h-6.5zM252.2 160.63h13.1v2.50h-13.1zM343.8 160.63h6.5v2.50h-6.5zM376.5 160.63h6.5v2.50h-6.5zM213 154.62h6.5v6.02h-6.5zM252.2 154.62h13.1v6.02h-13.1zM298 154.62h6.5v6.02h-6.5zM213 152.12h6.5v2.50h-6.5zM252.2 152.12h13.1v2.50h-13.1zM298 152.12h6.5v2.50h-6.5zM134.5 150.34h6.5v1.79h-6.5zM167.2 150.34h6.5v1.79h-6.5zM252.2 150.34h13.1v1.79h-13.1zM343.8 150.34h6.5v1.79h-6.5zM376.5 150.34h6.5v1.79h-6.5zM147.6 146.38h6.5v1.18h-6.5zM363.4 146.38h6.5v1.18h-6.5zM232.6 145.30h6.5v1.08h-6.5zM278.4 145.30h6.5v1.08h-6.5zM180.3 144.29h6.5v1.01h-6.5zM206.4 144.29h6.5v1.01h-6.5zM304.5 144.29h6.5v1.01h-6.5zM330.7 144.29h6.5v1.01h-6.5zM167.2 143.34h6.5v0.95h-6.5zM232.6 143.34h6.5v0.95h-6.5zM278.4 143.34h6.5v0.95h-6.5zM343.8 143.34h6.5v0.95h-6.5zM114.9 141.58h6.5v0.86h-6.5zM134.5 141.58h6.5v0.86h-6.5zM167.2 141.58h6.5v0.86h-6.5zM219.5 141.58h6.5v0.86h-6.5zM239.1 141.58h6.5v0.86h-6.5zM271.8 141.58h6.5v0.86h-6.5zM291.4 141.58h6.5v0.86h-6.5zM343.8 141.58h6.5v0.86h-6.5zM376.5 141.58h6.5v0.86h-6.5zM396.1 141.58h6.5v0.86h-6.5zM154.1 140.75h6.5v0.82h-6.5zM173.7 140.75h6.5v0.82h-6.5zM337.2 140.75h6.5v0.82h-6.5zM356.8 140.75h6.5v0.82h-6.5zM219.5 139.20h6.5v0.76h-6.5zM291.4 139.20h6.5v0.76h-6.5zM173.7 137.74h6.5v0.72h-6.5zM337.2 137.74h6.5v0.72h-6.5zM213 137.05h6.5v0.70h-6.5zM298 137.05h6.5v0.70h-6.5zM180.3 135.71h6.5v0.66h-6.5zM330.7 135.71h6.5v0.66h-6.5zM128 135.07h6.5v0.64h-6.5zM226.1 135.07h6.5v0.64h-6.5zM284.9 135.07h6.5v0.64h-6.5zM383 135.07h6.5v0.64h-6.5zM245.7 134.44h6.5v0.63h-6.5zM265.3 134.44h6.5v0.63h-6.5zM147.6 133.82h6.5v0.62h-6.5zM167.2 133.82h6.5v0.62h-6.5zM343.8 133.82h6.5v0.62h-6.5zM363.4 133.82h6.5v0.62h-6.5zM154.1 133.22h6.5v0.60h-6.5zM193.4 133.22h6.5v0.60h-6.5zM317.6 133.22h6.5v0.60h-6.5zM356.8 133.22h6.5v0.60h-6.5zM239.1 341.03h39.2v0.57h-39.2zM206.4 340.46h6.5v0.58h-6.5zM304.5 340.46h6.5v0.58h-6.5zM226.1 339.87h6.5v0.59h-6.5zM284.9 339.87h6.5v0.59h-6.5zM147.6 339.27h6.5v0.60h-6.5zM160.7 339.27h6.5v0.60h-6.5zM350.3 339.27h6.5v0.60h-6.5zM363.4 339.27h6.5v0.60h-6.5zM141 338.66h6.5v0.61h-6.5zM239.1 338.66h6.5v0.61h-6.5zM271.8 338.66h6.5v0.61h-6.5zM369.9 338.66h6.5v0.61h-6.5zM245.7 338.03h6.5v0.63h-6.5zM265.3 338.03h6.5v0.63h-6.5zM160.7 336.72h6.5v0.66h-6.5zM226.1 336.72h6.5v0.66h-6.5zM284.9 336.72h6.5v0.66h-6.5zM350.3 336.72h6.5v0.66h-6.5zM193.4 335.35h6.5v0.70h-6.5zM245.7 335.35h6.5v0.70h-6.5zM265.3 335.35h6.5v0.70h-6.5zM317.6 335.35h6.5v0.70h-6.5zM173.7 334.63h6.5v0.72h-6.5zM337.2 334.63h6.5v0.72h-6.5zM114.9 332.31h6.5v0.80h-6.5zM396.1 332.31h6.5v0.80h-6.5zM128 330.59h6.5v0.88h-6.5zM147.6 330.59h6.5v0.88h-6.5zM363.4 330.59h6.5v0.88h-6.5zM383 330.59h6.5v0.88h-6.5zM167.2 328.68h6.5v0.98h-6.5zM343.8 328.68h6.5v0.98h-6.5zM219.5 327.62h6.5v1.06h-6.5zM291.4 327.62h6.5v1.06h-6.5zM232.6 326.47h6.5v1.15h-6.5zM278.4 326.47h6.5v1.15h-6.5zM180.3 325.21h6.5v1.27h-6.5zM330.7 325.21h6.5v1.27h-6.5zM134.5 319.58h6.5v2.43h-6.5zM167.2 319.58h6.5v2.43h-6.5zM252.2 319.58h13.1v2.43h-13.1zM343.8 319.58h6.5v2.43h-6.5zM376.5 319.58h6.5v2.43h-6.5zM213 313.72h6.5v5.87h-6.5zM252.2 313.72h13.1v5.87h-13.1zM298 313.72h6.5v5.87h-6.5zM213 311.28h6.5v2.43h-6.5zM252.2 311.28h13.1v2.43h-13.1zM298 311.28h6.5v2.43h-6.5zM134.5 309.54h6.5v1.74h-6.5zM167.2 309.54h6.5v1.74h-6.5zM252.2 309.54h13.1v1.74h-13.1zM343.8 309.54h6.5v1.74h-6.5zM376.5 309.54h6.5v1.74h-6.5zM147.6 305.68h6.5v1.15h-6.5zM363.4 305.68h6.5v1.15h-6.5zM232.6 304.62h6.5v1.06h-6.5zM278.4 304.62h6.5v1.06h-6.5zM180.3 303.64h6.5v0.98h-6.5zM206.4 303.64h6.5v0.98h-6.5zM304.5 303.64h6.5v0.98h-6.5zM330.7 303.64h6.5v0.98h-6.5zM167.2 302.71h6.5v0.93h-6.5zM232.6 302.71h6.5v0.93h-6.5zM278.4 302.71h6.5v0.93h-6.5zM343.8 302.71h6.5v0.93h-6.5zM114.9 300.99h6.5v0.84h-6.5zM134.5 300.99h6.5v0.84h-6.5zM167.2 300.99h6.5v0.84h-6.5zM219.5 300.99h6.5v0.84h-6.5zM239.1 300.99h6.5v0.84h-6.5zM271.8 300.99h6.5v0.84h-6.5zM291.4 300.99h6.5v0.84h-6.5zM343.8 300.99h6.5v0.84h-6.5zM376.5 300.99h6.5v0.84h-6.5zM396.1 300.99h6.5v0.84h-6.5zM154.1 300.19h6.5v0.80h-6.5zM173.7 300.19h6.5v0.80h-6.5zM337.2 300.19h6.5v0.80h-6.5zM356.8 300.19h6.5v0.80h-6.5zM219.5 298.67h6.5v0.75h-6.5zM291.4 298.67h6.5v0.75h-6.5zM173.7 297.25h6.5v0.70h-6.5zM337.2 297.25h6.5v0.70h-6.5zM213 296.58h6.5v0.68h-6.5zM298 296.58h6.5v0.68h-6.5zM180.3 295.27h6.5v0.64h-6.5zM330.7 295.27h6.5v0.64h-6.5zM128 294.64h6.5v0.63h-6.5zM226.1 294.64h6.5v0.63h-6.5zM284.9 294.64h6.5v0.63h-6.5zM383 294.64h6.5v0.63h-6.5zM245.7 294.03h6.5v0.61h-6.5zM265.3 294.03h6.5v0.61h-6.5zM147.6 293.43h6.5v0.60h-6.5zM167.2 293.43h6.5v0.60h-6.5zM343.8 293.43h6.5v0.60h-6.5zM363.4 293.43h6.5v0.60h-6.5zM154.1 292.84h6.5v0.59h-6.5zM193.4 292.84h6.5v0.59h-6.5zM317.6 292.84h6.5v0.59h-6.5zM356.8 292.84h6.5v0.59h-6.5zM186.8 232.80h6.5v1.00h-6.5zM324.1 232.80h6.5v1.00h-6.5zM108.3 234.80h6.5v1.00h-6.5zM180.3 234.80h6.5v1.00h-6.5zM219.5 234.80h6.5v1.00h-6.5zM291.4 234.80h6.5v1.00h-6.5zM330.7 234.80h6.5v1.00h-6.5zM402.6 234.80h6.5v1.00h-6.5zM232.6 236.80h13.1v1.00h-13.1zM271.8 236.80h13.1v1.00h-13.1zM193.4 240.80h6.5v1.00h-6.5zM226.1 240.80h13.1v1.00h-13.1zM278.4 240.80h13.1v1.00h-13.1zM317.6 240.80h6.5v1.00h-6.5zM114.9 77.60h6.5v7.20h-6.5zM396.1 77.60h6.5v7.20h-6.5zM114.9 214.40h6.5v7.20h-6.5zM396.1 214.40h6.5v7.20h-6.5zM114.9 245.40h6.5v7.20h-6.5zM396.1 245.40h6.5v7.20h-6.5z"/>
<path fill="#c0c0f6" d="M128 182.03h6.5v0.59h-6.5zM193.4 182.03h6.5v0.59h-6.5zM317.6 182.03h6.5v0.59h-6.5zM383 182.03h6.5v0.59h-6.5zM232.6 181.43h6.5v0.60h-6.5zM278.4 181.43h6.5v0.60h-6.5zM232.6 180.81h6.5v0.62h-6.5zM278.4 180.81h6.5v0.62h-6.5zM180.3 180.18h6.5v0.63h-6.5zM245.7 180.18h6.5v0.63h-6.5zM265.3 180.18h6.5v0.63h-6.5zM330.7 180.18h6.5v0.63h-6.5zM128 179.54h6.5v0.64h-6.5zM193.4 179.54h6.5v0.64h-6.5zM317.6 179.54h6.5v0.64h-6.5zM383 179.54h6.5v0.64h-6.5zM121.4 178.88h6.5v0.66h-6.5zM389.5 178.88h6.5v0.66h-6.5zM245.7 178.20h6.5v0.68h-6.5zM265.3 178.20h6.5v0.68h-6.5zM147.6 176.79h6.5v0.72h-6.5zM213 176.79h6.5v0.72h-6.5zM298 176.79h6.5v0.72h-6.5zM363.4 176.79h6.5v0.72h-6.5zM128 176.05h6.5v0.74h-6.5zM383 176.05h6.5v0.74h-6.5zM141 175.29h6.5v0.76h-6.5zM219.5 175.29h6.5v0.76h-6.5zM232.6 175.29h6.5v0.76h-6.5zM278.4 175.29h6.5v0.76h-6.5zM291.4 175.29h6.5v0.76h-6.5zM369.9 175.29h6.5v0.76h-6.5zM173.7 174.50h6.5v0.79h-6.5zM337.2 174.50h6.5v0.79h-6.5zM213 173.67h6.5v0.82h-6.5zM239.1 173.67h6.5v0.82h-6.5zM271.8 173.67h6.5v0.82h-6.5zM298 173.67h6.5v0.82h-6.5zM128 172.81h6.5v0.86h-6.5zM206.4 172.81h6.5v0.86h-6.5zM304.5 172.81h6.5v0.86h-6.5zM383 172.81h6.5v0.86h-6.5zM134.5 171.91h6.5v0.90h-6.5zM376.5 171.91h6.5v0.90h-6.5zM121.4 170.96h6.5v0.95h-6.5zM180.3 170.96h6.5v0.95h-6.5zM330.7 170.96h6.5v0.95h-6.5zM389.5 170.96h6.5v0.95h-6.5zM186.8 169.95h6.5v1.01h-6.5zM232.6 169.95h6.5v1.01h-6.5zM278.4 169.95h6.5v1.01h-6.5zM324.1 169.95h6.5v1.01h-6.5zM186.8 168.87h6.5v1.08h-6.5zM324.1 168.87h6.5v1.08h-6.5zM114.9 167.70h6.5v1.18h-6.5zM396.1 167.70h6.5v1.18h-6.5zM232.6 160.63h6.5v2.50h-6.5zM278.4 160.63h6.5v2.50h-6.5zM108.3 154.62h6.5v6.02h-6.5zM121.4 154.62h6.5v6.02h-6.5zM147.6 154.62h6.5v6.02h-6.5zM363.4 154.62h6.5v6.02h-6.5zM389.5 154.62h6.5v6.02h-6.5zM402.6 154.62h6.5v6.02h-6.5zM108.3 152.12h6.5v2.50h-6.5zM121.4 152.12h6.5v2.50h-6.5zM147.6 152.12h6.5v2.50h-6.5zM363.4 152.12h6.5v2.50h-6.5zM389.5 152.12h6.5v2.50h-6.5zM402.6 152.12h6.5v2.50h-6.5zM232.6 150.34h6.5v1.79h-6.5zM278.4 150.34h6.5v1.79h-6.5zM108.3 146.38h6.5v1.18h-6.5zM402.6 146.38h6.5v1.18h-6.5zM147.6 145.30h6.5v1.08h-6.5zM213 145.30h6.5v1.08h-6.5zM298 145.30h6.5v1.08h-6.5zM363.4 145.30h6.5v1.08h-6.5zM134.5 144.29h6.5v1.01h-6.5zM147.6 144.29h6.5v1.01h-6.5zM363.4 144.29h6.5v1.01h-6.5zM376.5 144.29h6.5v1.01h-6.5zM101.8 143.34h6.5v0.95h-6.5zM409.2 143.34h6.5v0.95h-6.5zM160.7 142.44h6.5v0.90h-6.5zM193.4 142.44h6.5v0.90h-6.5zM317.6 142.44h6.5v0.90h-6.5zM350.3 142.44h6.5v0.90h-6.5zM252.2 139.20h13.1v0.76h-13.1zM101.8 135.71h6.5v0.66h-6.5zM160.7 135.71h6.5v0.66h-6.5zM350.3 135.71h6.5v0.66h-6.5zM409.2 135.71h6.5v0.66h-6.5zM101.8 135.07h6.5v0.64h-6.5zM409.2 135.07h6.5v0.64h-6.5zM213 134.44h6.5v0.63h-6.5zM298 134.44h6.5v0.63h-6.5zM173.7 133.82h6.5v0.62h-6.5zM337.2 133.82h6.5v0.62h-6.5zM141 133.22h6.5v0.60h-6.5zM226.1 133.22h6.5v0.60h-6.5zM284.9 133.22h6.5v0.60h-6.5zM369.9 133.22h6.5v0.60h-6.5zM114.9 132.63h6.5v0.59h-6.5zM219.5 132.63h6.5v0.59h-6.5zM291.4 132.63h6.5v0.59h-6.5zM396.1 132.63h6.5v0.59h-6.5zM213 132.05h6.5v0.58h-6.5zM298 132.05h6.5v0.58h-6.5zM128 340.46h6.5v0.58h-6.5zM193.4 340.46h6.5v0.58h-6.5zM317.6 340.46h6.5v0.58h-6.5zM383 340.46h6.5v0.58h-6.5zM232.6 339.87h6.5v0.59h-6.5zM278.4 339.87h6.5v0.59h-6.5zM232.6 339.27h6.5v0.60h-6.5zM278.4 339.27h6.5v0.60h-6.5zM180.3 338.66h6.5v0.61h-6.5zM245.7 338.66h6.5v0.61h-6.5zM265.3 338.66h6.5v0.61h-6.5zM330.7 338.66h6.5v0.61h-6.5zM128 338.03h6.5v0.63h-6.5zM193.4 338.03h6.5v0.63h-6.5zM317.6 338.03h6.5v0.63h-6.5zM383 338.03h6.5v0.63h-6.5zM121.4 337.38h6.5v0.64h-6.5zM389.5 337.38h6.5v0.64h-6.5zM245.7 336.72h6.5v0.66h-6.5zM265.3 336.72h6.5v0.66h-6.5zM147.6 335.35h6.5v0.70h-6.5zM213 335.35h6.5v0.70h-6.5zM298 335.35h6.5v0.70h-6.5zM363.4 335.35h6.5v0.70h-6.5zM128 334.63h6.5v0.72h-6.5zM383 334.63h6.5v0.72h-6.5zM141 333.88h6.5v0.75h-6.5zM219.5 333.88h6.5v0.75h-6.5zM232.6 333.88h6.5v0.75h-6.5zM278.4 333.88h6.5v0.75h-6.5zM291.4 333.88h6.5v0.75h-6.5zM369.9 333.88h6.5v0.75h-6.5zM173.7 333.11h6.5v0.77h-6.5zM337.2 333.11h6.5v0.77h-6.5zM213 332.31h6.5v0.80h-6.5zM239.1 332.31h6.5v0.80h-6.5zM271.8 332.31h6.5v0.80h-6.5zM298 332.31h6.5v0.80h-6.5zM128 331.47h6.5v0.84h-6.5zM206.4 331.47h6.5v0.84h-6.5zM304.5 331.47h6.5v0.84h-6.5zM383 331.47h6.5v0.84h-6.5zM134.5 330.59h6.5v0.88h-6.5zM376.5 330.59h6.5v0.88h-6.5zM121.4 329.66h6.5v0.93h-6.5zM180.3 329.66h6.5v0.93h-6.5zM330.7 329.66h6.5v0.93h-6.5zM389.5 329.66h6.5v0.93h-6.5zM186.8 328.68h6.5v0.98h-6.5zM232.6 328.68h6.5v0.98h-6.5zM278.4 328.68h6.5v0.98h-6.5zM324.1 328.68h6.5v0.98h-6.5zM186.8 327.62h6.5v1.06h-6.5zM324.1 327.62h6.5v1.06h-6.5zM114.9 326.47h6.5v1.15h-6.5zM396.1 326.47h6.5v1.15h-6.5zM232.6 319.58h6.5v2.43h-6.5zM278.4 319.58h6.5v2.43h-6.5zM108.3 313.72h6.5v5.87h-6.5zM121.4 313.72h6.5v5.87h-6.5zM147.6 313.72h6.5v5.87h-6.5zM363.4 313.72h6.5v5.87h-6.5zM389.5 313.72h6.5v5.87h-6.5zM402.6 313.72h6.5v5.87h-6.5zM108.3 311.28h6.5v2.43h-6.5zM121.4 311.28h6.5v2.43h-6.5zM147.6 311.28h6.5v2.43h-6.5zM363.4 311.28h6.5v2.43h-6.5zM389.5 311.28h6.5v2.43h-6.5zM402.6 311.28h6.5v2.43h-6.5zM232.6 309.54h6.5v1.74h-6.5zM278.4 309.54h6.5v1.74h-6.5zM108.3 305.68h6.5v1.15h-6.5zM402.6 305.68h6.5v1.15h-6.5zM147.6 304.62h6.5v1.06h-6.5zM213 304.62h6.5v1.06h-6.5zM298 304.62h6.5v1.06h-6.5zM363.4 304.62h6.5v1.06h-6.5zM134.5 303.64h6.5v0.98h-6.5zM147.6 303.64h6.5v0.98h-6.5zM363.4 303.64h6.5v0.98h-6.5zM376.5 303.64h6.5v0.98h-6.5zM101.8 302.71h6.5v0.93h-6.5zM409.2 302.71h6.5v0.93h-6.5zM160.7 301.83h6.5v0.88h-6.5zM193.4 301.83h6.5v0.88h-6.5zM317.6 301.83h6.5v0.88h-6.5zM350.3 301.83h6.5v0.88h-6.5zM252.2 298.67h13.1v0.75h-13.1zM101.8 295.27h6.5v0.64h-6.5zM160.7 295.27h6.5v0.64h-6.5zM350.3 295.27h6.5v0.64h-6.5zM409.2 295.27h6.5v0.64h-6.5zM101.8 294.64h6.5v0.63h-6.5zM409.2 294.64h6.5v0.63h-6.5zM213 294.03h6.5v0.61h-6.5zM298 294.03h6.5v0.61h-6.5zM173.7 293.43h6.5v0.60h-6.5zM337.2 293.43h6.5v0.60h-6.5zM141 292.84h6.5v0.59h-6.5zM226.1 292.84h6.5v0.59h-6.5zM284.9 292.84h6.5v0.59h-6.5zM369.9 292.84h6.5v0.59h-6.5zM114.9 292.27h6.5v0.58h-6.5zM219.5 292.27h6.5v0.58h-6.5zM291.4 292.27h6.5v0.58h-6.5zM396.1 292.27h6.5v0.58h-6.5zM213 291.70h6.5v0.57h-6.5zM298 291.70h6.5v0.57h-6.5zM160.7 232.80h6.5v1.00h-6.5zM193.4 232.80h6.5v1.00h-6.5zM317.6 232.80h6.5v1.00h-6.5zM350.3 232.80h6.5v1.00h-6.5zM147.6 235.80h6.5v1.00h-6.5zM363.4 235.80h6.5v1.00h-6.5zM154.1 237.80h6.5v1.00h-6.5zM356.8 237.80h6.5v1.00h-6.5zM180.3 238.80h13.1v1.00h-13.1zM324.1 238.80h13.1v1.00h-13.1zM173.7 239.80h6.5v1.00h-6.5zM252.2 239.80h13.1v1.00h-13.1zM337.2 239.80h6.5v1.00h-6.5zM173.7 240.80h6.5v1.00h-6.5zM219.5 240.80h6.5v1.00h-6.5zM291.4 240.80h6.5v1.00h-6.5zM337.2 240.80h6.5v1.00h-6.5z"/>
<path fill="#b1b1f4" d="M134.5 182.03h6.5v0.59h-6.5zM376.5 182.03h6.5v0.59h-6.5zM193.4 180.81h6.5v0.62h-6.5zM213 180.81h6.5v0.62h-6.5zM298 180.81h6.5v0.62h-6.5zM317.6 180.81h6.5v0.62h-6.5zM186.8 180.18h6.5v0.63h-6.5zM324.1 180.18h6.5v0.63h-6.5zM232.6 178.20h6.5v0.68h-6.5zM278.4 178.20h6.5v0.68h-6.5zM173.7 177.51h6.5v0.70h-6.5zM226.1 177.51h6.5v0.70h-6.5zM284.9 177.51h6.5v0.70h-6.5zM337.2 177.51h6.5v0.70h-6.5zM180.3 176.79h6.5v0.72h-6.5zM239.1 176.79h6.5v0.72h-6.5zM271.8 176.79h6.5v0.72h-6.5zM330.7 176.79h6.5v0.72h-6.5zM108.3 176.05h6.5v0.74h-6.5zM134.5 176.05h6.5v0.74h-6.5zM160.7 176.05h6.5v0.74h-6.5zM350.3 176.05h6.5v0.74h-6.5zM376.5 176.05h6.5v0.74h-6.5zM402.6 176.05h6.5v0.74h-6.5zM154.1 175.29h6.5v0.76h-6.5zM356.8 175.29h6.5v0.76h-6.5zM180.3 174.50h6.5v0.79h-6.5zM232.6 174.50h6.5v0.79h-6.5zM278.4 174.50h6.5v0.79h-6.5zM330.7 174.50h6.5v0.79h-6.5zM167.2 173.67h6.5v0.82h-6.5zM193.4 173.67h6.5v0.82h-6.5zM317.6 173.67h6.5v0.82h-6.5zM343.8 173.67h6.5v0.82h-6.5zM147.6 172.81h6.5v0.86h-6.5zM363.4 172.81h6.5v0.86h-6.5zM114.9 171.91h6.5v0.90h-6.5zM160.7 171.91h6.5v0.90h-6.5zM219.5 171.91h6.5v0.90h-6.5zM245.7 171.91h6.5v0.90h-6.5zM265.3 171.91h6.5v0.90h-6.5zM291.4 171.91h6.5v0.90h-6.5zM350.3 171.91h6.5v0.90h-6.5zM396.1 171.91h6.5v0.90h-6.5zM154.1 170.96h6.5v0.95h-6.5zM193.4 170.96h6.5v0.95h-6.5zM232.6 170.96h13.1v0.95h-13.1zM271.8 170.96h13.1v0.95h-13.1zM317.6 170.96h6.5v0.95h-6.5zM356.8 170.96h6.5v0.95h-6.5zM173.7 169.95h6.5v1.01h-6.5zM206.4 169.95h6.5v1.01h-6.5zM304.5 169.95h6.5v1.01h-6.5zM337.2 169.95h6.5v1.01h-6.5zM114.9 168.87h6.5v1.08h-6.5zM396.1 168.87h6.5v1.08h-6.5zM180.3 167.70h6.5v1.18h-6.5zM330.7 167.70h6.5v1.18h-6.5zM193.4 166.40h6.5v1.30h-6.5zM317.6 166.40h6.5v1.30h-6.5zM167.2 144.29h6.5v1.01h-6.5zM343.8 144.29h6.5v1.01h-6.5zM173.7 143.34h6.5v0.95h-6.5zM226.1 143.34h6.5v0.95h-6.5zM284.9 143.34h6.5v0.95h-6.5zM337.2 143.34h6.5v0.95h-6.5zM180.3 142.44h6.5v0.90h-6.5zM213 142.44h6.5v0.90h-6.5zM298 142.44h6.5v0.90h-6.5zM330.7 142.44h6.5v0.90h-6.5zM226.1 141.58h6.5v0.86h-6.5zM284.9 141.58h6.5v0.86h-6.5zM141 140.75h6.5v0.82h-6.5zM193.4 140.75h6.5v0.82h-6.5zM317.6 140.75h6.5v0.82h-6.5zM369.9 140.75h6.5v0.82h-6.5zM121.4 139.96h6.5v0.79h-6.5zM173.7 139.96h6.5v0.79h-6.5zM337.2 139.96h6.5v0.79h-6.5zM389.5 139.96h6.5v0.79h-6.5zM121.4 139.20h6.5v0.76h-6.5zM389.5 139.20h6.5v0.76h-6.5zM134.5 138.46h6.5v0.74h-6.5zM376.5 138.46h6.5v0.74h-6.5zM134.5 137.74h6.5v0.72h-6.5zM160.7 137.74h6.5v0.72h-6.5zM232.6 137.74h6.5v0.72h-6.5zM278.4 137.74h6.5v0.72h-6.5zM350.3 137.74h6.5v0.72h-6.5zM376.5 137.74h6.5v0.72h-6.5zM134.5 137.05h13.1v0.70h-13.1zM369.9 137.05h13.1v0.70h-13.1zM232.6 135.71h6.5v0.66h-6.5zM278.4 135.71h6.5v0.66h-6.5zM206.4 135.07h6.5v0.64h-6.5zM304.5 135.07h6.5v0.64h-6.5zM219.5 134.44h6.5v0.63h-6.5zM291.4 134.44h6.5v0.63h-6.5zM186.8 133.82h6.5v0.62h-6.5zM324.1 133.82h6.5v0.62h-6.5zM128 133.22h6.5v0.60h-6.5zM383 133.22h6.5v0.60h-6.5zM108.3 132.63h6.5v0.59h-6.5zM239.1 132.63h6.5v0.59h-6.5zM271.8 132.63h6.5v0.59h-6.5zM402.6 132.63h6.5v0.59h-6.5zM219.5 124.85h19.6v7.20h-19.6zM278.4 124.85h19.6v7.20h-19.6zM134.5 340.46h6.5v0.58h-6.5zM376.5 340.46h6.5v0.58h-6.5zM193.4 339.27h6.5v0.60h-6.5zM213 339.27h6.5v0.60h-6.5zM298 339.27h6.5v0.60h-6.5zM317.6 339.27h6.5v0.60h-6.5zM186.8 338.66h6.5v0.61h-6.5zM324.1 338.66h6.5v0.61h-6.5zM232.6 336.72h6.5v0.66h-6.5zM278.4 336.72h6.5v0.66h-6.5zM173.7 336.05h6.5v0.68h-6.5zM226.1 336.05h6.5v0.68h-6.5zM284.9 336.05h6.5v0.68h-6.5zM337.2 336.05h6.5v0.68h-6.5zM180.3 335.35h6.5v0.70h-6.5zM239.1 335.35h6.5v0.70h-6.5zM271.8 335.35h6.5v0.70h-6.5zM330.7 335.35h6.5v0.70h-6.5zM108.3 334.63h6.5v0.72h-6.5zM134.5 334.63h6.5v0.72h-6.5zM160.7 334.63h6.5v0.72h-6.5zM350.3 334.63h6.5v0.72h-6.5zM376.5 334.63h6.5v0.72h-6.5zM402.6 334.63h6.5v0.72h-6.5zM154.1 333.88h6.5v0.75h-6.5zM356.8 333.88h6.5v0.75h-6.5zM180.3 333.11h6.5v0.77h-6.5zM232.6 333.11h6.5v0.77h-6.5zM278.4 333.11h6.5v0.77h-6.5zM330.7 333.11h6.5v0.77h-6.5zM167.2 332.31h6.5v0.80h-6.5zM193.4 332.31h6.5v0.80h-6.5zM317.6 332.31h6.5v0.80h-6.5zM343.8 332.31h6.5v0.80h-6.5zM147.6 331.47h6.5v0.84h-6.5zM363.4 331.47h6.5v0.84h-6.5zM114.9 330.59h6.5v0.88h-6.5zM160.7 330.59h6.5v0.88h-6.5zM219.5 330.59h6.5v0.88h-6.5zM245.7 330.59h6.5v0.88h-6.5zM265.3 330.59h6.5v0.88h-6.5zM291.4 330.59h6.5v0.88h-6.5zM350.3 330.59h6.5v0.88h-6.5zM396.1 330.59h6.5v0.88h-6.5zM154.1 329.66h6.5v0.93h-6.5zM193.4 329.66h6.5v0.93h-6.5zM232.6 329.66h13.1v0.93h-13.1zM271.8 329.66h13.1v0.93h-13.1zM317.6 329.66h6.5v0.93h-6.5zM356.8 329.66h6.5v0.93h-6.5zM173.7 328.68h6.5v0.98h-6.5zM206.4 328.68h6.5v0.98h-6.5zM304.5 328.68h6.5v0.98h-6.5zM337.2 328.68h6.5v0.98h-6.5zM114.9 327.62h6.5v1.06h-6.5zM396.1 327.62h6.5v1.06h-6.5zM180.3 326.47h6.5v1.15h-6.5zM330.7 326.47h6.5v1.15h-6.5zM193.4 325.21h6.5v1.27h-6.5zM317.6 325.21h6.5v1.27h-6.5zM167.2 303.64h6.5v0.98h-6.5zM343.8 303.64h6.5v0.98h-6.5zM173.7 302.71h6.5v0.93h-6.5zM226.1 302.71h6.5v0.93h-6.5zM284.9 302.71h6.5v0.93h-6.5zM337.2 302.71h6.5v0.93h-6.5zM180.3 301.83h6.5v0.88h-6.5zM213 301.83h6.5v0.88h-6.5zM298 301.83h6.5v0.88h-6.5zM330.7 301.83h6.5v0.88h-6.5zM226.1 300.99h6.5v0.84h-6.5zM284.9 300.99h6.5v0.84h-6.5zM141 300.19h6.5v0.80h-6.5zM193.4 300.19h6.5v0.80h-6.5zM317.6 300.19h6.5v0.80h-6.5zM369.9 300.19h6.5v0.80h-6.5zM121.4 299.42h6.5v0.77h-6.5zM173.7 299.42h6.5v0.77h-6.5zM337.2 299.42h6.5v0.77h-6.5zM389.5 299.42h6.5v0.77h-6.5zM121.4 298.67h6.5v0.75h-6.5zM389.5 298.67h6.5v0.75h-6.5zM134.5 297.95h6.5v0.72h-6.5zM376.5 297.95h6.5v0.72h-6.5zM134.5 297.25h6.5v0.70h-6.5zM160.7 297.25h6.5v0.70h-6.5zM232.6 297.25h6.5v0.70h-6.5zM278.4 297.25h6.5v0.70h-6.5zM350.3 297.25h6.5v0.70h-6.5zM376.5 297.25h6.5v0.70h-6.5zM134.5 296.58h13.1v0.68h-13.1zM369.9 296.58h13.1v0.68h-13.1zM232.6 295.27h6.5v0.64h-6.5zM278.4 295.27h6.5v0.64h-6.5zM206.4 294.64h6.5v0.63h-6.5zM304.5 294.64h6.5v0.63h-6.5zM219.5 294.03h6.5v0.61h-6.5zM291.4 294.03h6.5v0.61h-6.5zM186.8 293.43h6.5v0.60h-6.5zM324.1 293.43h6.5v0.60h-6.5zM128 292.84h6.5v0.59h-6.5zM383 292.84h6.5v0.59h-6.5zM108.3 292.27h6.5v0.58h-6.5zM239.1 292.27h6.5v0.58h-6.5zM271.8 292.27h6.5v0.58h-6.5zM402.6 292.27h6.5v0.58h-6.5zM219.5 284.50h19.6v7.20h-19.6zM278.4 284.50h19.6v7.20h-19.6zM219.5 224.60h19.6v7.20h-19.6zM278.4 224.60h19.6v7.20h-19.6zM134.5 232.80h6.5v1.00h-6.5zM376.5 232.80h6.5v1.00h-6.5zM134.5 233.80h6.5v1.00h-6.5zM180.3 233.80h6.5v1.00h-6.5zM330.7 233.80h6.5v1.00h-6.5zM376.5 233.80h6.5v1.00h-6.5zM134.5 235.80h6.5v1.00h-6.5zM193.4 235.80h13.1v1.00h-13.1zM245.7 235.80h26.2v1.00h-26.2zM311.1 235.80h13.1v1.00h-13.1zM376.5 235.80h6.5v1.00h-6.5zM134.5 236.80h6.5v1.00h-6.5zM167.2 236.80h6.5v1.00h-6.5zM193.4 236.80h6.5v1.00h-6.5zM317.6 236.80h6.5v1.00h-6.5zM343.8 236.80h6.5v1.00h-6.5zM376.5 236.80h6.5v1.00h-6.5zM160.7 237.80h6.5v1.00h-6.5zM350.3 237.80h6.5v1.00h-6.5zM173.7 238.80h6.5v1.00h-6.5zM213 238.80h6.5v1.00h-6.5zM232.6 238.80h6.5v1.00h-6.5zM278.4 238.80h6.5v1.00h-6.5zM298 238.80h6.5v1.00h-6.5zM337.2 238.80h6.5v1.00h-6.5zM245.7 239.80h6.5v1.00h-6.5zM265.3 239.80h6.5v1.00h-6.5zM206.4 240.80h13.1v1.00h-13.1zM298 240.80h13.1v1.00h-13.1z"/>
<path fill="#a8a8f2" d="M141 182.03h6.5v0.59h-6.5zM369.9 182.03h6.5v0.59h-6.5zM134.5 181.43h6.5v0.60h-6.5zM376.5 181.43h6.5v0.60h-6.5zM160.7 179.54h6.5v0.64h-6.5zM350.3 179.54h6.5v0.64h-6.5zM114.9 178.88h6.5v0.66h-6.5zM396.1 178.88h6.5v0.66h-6.5zM108.3 176.79h6.5v0.72h-6.5zM402.6 176.79h6.5v0.72h-6.5zM167.2 176.05h6.5v0.74h-6.5zM343.8 176.05h6.5v0.74h-6.5zM121.4 173.67h6.5v0.82h-6.5zM147.6 173.67h6.5v0.82h-6.5zM363.4 173.67h6.5v0.82h-6.5zM389.5 173.67h6.5v0.82h-6.5zM193.4 172.81h6.5v0.86h-6.5zM213 172.81h6.5v0.86h-6.5zM298 172.81h6.5v0.86h-6.5zM317.6 172.81h6.5v0.86h-6.5zM226.1 169.95h6.5v1.01h-6.5zM284.9 169.95h6.5v1.01h-6.5zM134.5 142.44h6.5v0.90h-6.5zM376.5 142.44h6.5v0.90h-6.5zM160.7 141.58h6.5v0.86h-6.5zM350.3 141.58h6.5v0.86h-6.5zM114.9 140.75h6.5v0.82h-6.5zM186.8 140.75h6.5v0.82h-6.5zM324.1 140.75h6.5v0.82h-6.5zM396.1 140.75h6.5v0.82h-6.5zM193.4 139.96h6.5v0.79h-6.5zM219.5 139.96h6.5v0.79h-6.5zM291.4 139.96h6.5v0.79h-6.5zM317.6 139.96h6.5v0.79h-6.5zM154.1 139.20h6.5v0.76h-6.5zM226.1 139.20h13.1v0.76h-13.1zM278.4 139.20h13.1v0.76h-13.1zM356.8 139.20h6.5v0.76h-6.5zM128 138.46h6.5v0.74h-6.5zM245.7 138.46h6.5v0.74h-6.5zM265.3 138.46h6.5v0.74h-6.5zM383 138.46h6.5v0.74h-6.5zM167.2 137.74h6.5v0.72h-6.5zM219.5 137.74h6.5v0.72h-6.5zM291.4 137.74h6.5v0.72h-6.5zM343.8 137.74h6.5v0.72h-6.5zM147.6 135.71h6.5v0.66h-6.5zM363.4 135.71h6.5v0.66h-6.5zM121.4 135.07h6.5v0.64h-6.5zM389.5 135.07h6.5v0.64h-6.5zM180.3 134.44h6.5v0.63h-6.5zM239.1 134.44h6.5v0.63h-6.5zM271.8 134.44h6.5v0.63h-6.5zM330.7 134.44h6.5v0.63h-6.5zM134.5 133.82h6.5v0.62h-6.5zM376.5 133.82h6.5v0.62h-6.5zM141 340.46h6.5v0.58h-6.5zM369.9 340.46h6.5v0.58h-6.5zM134.5 339.87h6.5v0.59h-6.5zM376.5 339.87h6.5v0.59h-6.5zM160.7 338.03h6.5v0.63h-6.5zM350.3 338.03h6.5v0.63h-6.5zM114.9 337.38h6.5v0.64h-6.5zM396.1 337.38h6.5v0.64h-6.5zM108.3 335.35h6.5v0.70h-6.5zM402.6 335.35h6.5v0.70h-6.5zM167.2 334.63h6.5v0.72h-6.5zM343.8 334.63h6.5v0.72h-6.5zM121.4 332.31h6.5v0.80h-6.5zM147.6 332.31h6.5v0.80h-6.5zM363.4 332.31h6.5v0.80h-6.5zM389.5 332.31h6.5v0.80h-6.5zM193.4 331.47h6.5v0.84h-6.5zM213 331.47h6.5v0.84h-6.5zM298 331.47h6.5v0.84h-6.5zM317.6 331.47h6.5v0.84h-6.5zM226.1 328.68h6.5v0.98h-6.5zM284.9 328.68h6.5v0.98h-6.5zM134.5 301.83h6.5v0.88h-6.5zM376.5 301.83h6.5v0.88h-6.5zM160.7 300.99h6.5v0.84h-6.5zM350.3 300.99h6.5v0.84h-6.5zM114.9 300.19h6.5v0.80h-6.5zM186.8 300.19h6.5v0.80h-6.5zM324.1 300.19h6.5v0.80h-6.5zM396.1 300.19h6.5v0.80h-6.5zM193.4 299.42h6.5v0.77h-6.5zM219.5 299.42h6.5v0.77h-6.5zM291.4 299.42h6.5v0.77h-6.5zM317.6 299.42h6.5v0.77h-6.5zM154.1 298.67h6.5v0.75h-6.5zM226.1 298.67h13.1v0.75h-13.1zM278.4 298.67h13.1v0.75h-13.1zM356.8 298.67h6.5v0.75h-6.5zM128 297.95h6.5v0.72h-6.5zM245.7 297.95h6.5v0.72h-6.5zM265.3 297.95h6.5v0.72h-6.5zM383 297.95h6.5v0.72h-6.5zM167.2 297.25h6.5v0.70h-6.5zM219.5 297.25h6.5v0.70h-6.5zM291.4 297.25h6.5v0.70h-6.5zM343.8 297.25h6.5v0.70h-6.5zM147.6 295.27h6.5v0.64h-6.5zM363.4 295.27h6.5v0.64h-6.5zM121.4 294.64h6.5v0.63h-6.5zM389.5 294.64h6.5v0.63h-6.5zM180.3 294.03h6.5v0.61h-6.5zM239.1 294.03h6.5v0.61h-6.5zM271.8 294.03h6.5v0.61h-6.5zM330.7 294.03h6.5v0.61h-6.5zM134.5 293.43h6.5v0.60h-6.5zM376.5 293.43h6.5v0.60h-6.5zM219.5 232.80h6.5v1.00h-6.5zM291.4 232.80h6.5v1.00h-6.5zM193.4 233.80h6.5v1.00h-6.5zM317.6 233.80h6.5v1.00h-6.5zM147.6 236.80h6.5v1.00h-6.5zM363.4 236.80h6.5v1.00h-6.5zM147.6 237.80h6.5v1.00h-6.5zM167.2 237.80h13.1v1.00h-13.1zM213 237.80h6.5v1.00h-6.5zM232.6 237.80h6.5v1.00h-6.5zM278.4 237.80h6.5v1.00h-6.5zM298 237.80h6.5v1.00h-6.5zM337.2 237.80h13.1v1.00h-13.1zM363.4 237.80h6.5v1.00h-6.5zM154.1 240.80h6.5v1.00h-6.5zM356.8 240.80h6.5v1.00h-6.5z"/>
<path fill="#9f9ff1" d="M147.6 182.03h6.5v0.59h-6.5zM167.2 182.03h6.5v0.59h-6.5zM343.8 182.03h6.5v0.59h-6.5zM363.4 182.03h6.5v0.59h-6.5zM121.4 181.43h6.5v0.60h-6.5zM389.5 181.43h6.5v0.60h-6.5zM128 180.81h6.5v0.62h-6.5zM219.5 180.81h13.1v0.62h-13.1zM284.9 180.81h13.1v0.62h-13.1zM383 180.81h6.5v0.62h-6.5zM108.3 178.20h13.1v0.68h-13.1zM186.8 178.20h6.5v0.68h-6.5zM324.1 178.20h6.5v0.68h-6.5zM396.1 178.20h13.1v0.68h-13.1zM186.8 177.51h6.5v0.70h-6.5zM213 177.51h6.5v0.70h-6.5zM298 177.51h6.5v0.70h-6.5zM324.1 177.51h6.5v0.70h-6.5zM141 176.79h6.5v0.72h-6.5zM167.2 176.79h6.5v0.72h-6.5zM206.4 176.79h6.5v0.72h-6.5zM304.5 176.79h6.5v0.72h-6.5zM343.8 176.79h6.5v0.72h-6.5zM369.9 176.79h6.5v0.72h-6.5zM226.1 176.05h6.5v0.74h-6.5zM284.9 176.05h6.5v0.74h-6.5zM128 175.29h6.5v0.76h-6.5zM160.7 175.29h6.5v0.76h-6.5zM350.3 175.29h6.5v0.76h-6.5zM383 175.29h6.5v0.76h-6.5zM186.8 172.81h6.5v0.86h-6.5zM324.1 172.81h6.5v0.86h-6.5zM226.1 171.91h6.5v0.90h-6.5zM284.9 171.91h6.5v0.90h-6.5zM245.7 169.95h6.5v1.01h-6.5zM265.3 169.95h6.5v1.01h-6.5zM114.9 146.38h6.5v1.18h-6.5zM396.1 146.38h6.5v1.18h-6.5zM141 141.58h6.5v0.86h-6.5zM369.9 141.58h6.5v0.86h-6.5zM147.6 140.75h6.5v0.82h-6.5zM363.4 140.75h6.5v0.82h-6.5zM193.4 137.74h6.5v0.72h-6.5zM317.6 137.74h6.5v0.72h-6.5zM108.3 135.07h6.5v0.64h-6.5zM160.7 135.07h6.5v0.64h-6.5zM350.3 135.07h6.5v0.64h-6.5zM402.6 135.07h6.5v0.64h-6.5zM226.1 134.44h6.5v0.63h-6.5zM284.9 134.44h6.5v0.63h-6.5zM114.9 133.82h6.5v0.62h-6.5zM128 133.82h6.5v0.62h-6.5zM383 133.82h6.5v0.62h-6.5zM396.1 133.82h6.5v0.62h-6.5zM154.1 132.63h6.5v0.59h-6.5zM245.7 132.63h6.5v0.59h-6.5zM265.3 132.63h6.5v0.59h-6.5zM356.8 132.63h6.5v0.59h-6.5zM147.6 340.46h6.5v0.58h-6.5zM167.2 340.46h6.5v0.58h-6.5zM343.8 340.46h6.5v0.58h-6.5zM363.4 340.46h6.5v0.58h-6.5zM121.4 339.87h6.5v0.59h-6.5zM389.5 339.87h6.5v0.59h-6.5zM128 339.27h6.5v0.60h-6.5zM219.5 339.27h13.1v0.60h-13.1zM284.9 339.27h13.1v0.60h-13.1zM383 339.27h6.5v0.60h-6.5zM108.3 336.72h13.1v0.66h-13.1zM186.8 336.72h6.5v0.66h-6.5zM324.1 336.72h6.5v0.66h-6.5zM396.1 336.72h13.1v0.66h-13.1zM186.8 336.05h6.5v0.68h-6.5zM213 336.05h6.5v0.68h-6.5zM298 336.05h6.5v0.68h-6.5zM324.1 336.05h6.5v0.68h-6.5zM141 335.35h6.5v0.70h-6.5zM167.2 335.35h6.5v0.70h-6.5zM206.4 335.35h6.5v0.70h-6.5zM304.5 335.35h6.5v0.70h-6.5zM343.8 335.35h6.5v0.70h-6.5zM369.9 335.35h6.5v0.70h-6.5zM226.1 334.63h6.5v0.72h-6.5zM284.9 334.63h6.5v0.72h-6.5zM128 333.88h6.5v0.75h-6.5zM160.7 333.88h6.5v0.75h-6.5zM350.3 333.88h6.5v0.75h-6.5zM383 333.88h6.5v0.75h-6.5zM186.8 331.47h6.5v0.84h-6.5zM324.1 331.47h6.5v0.84h-6.5zM226.1 330.59h6.5v0.88h-6.5zM284.9 330.59h6.5v0.88h-6.5zM245.7 328.68h6.5v0.98h-6.5zM265.3 328.68h6.5v0.98h-6.5zM114.9 305.68h6.5v1.15h-6.5zM396.1 305.68h6.5v1.15h-6.5zM141 300.99h6.5v0.84h-6.5zM369.9 300.99h6.5v0.84h-6.5zM147.6 300.19h6.5v0.80h-6.5zM363.4 300.19h6.5v0.80h-6.5zM193.4 297.25h6.5v0.70h-6.5zM317.6 297.25h6.5v0.70h-6.5zM108.3 294.64h6.5v0.63h-6.5zM160.7 294.64h6.5v0.63h-6.5zM350.3 294.64h6.5v0.63h-6.5zM402.6 294.64h6.5v0.63h-6.5zM226.1 294.03h6.5v0.61h-6.5zM284.9 294.03h6.5v0.61h-6.5zM114.9 293.43h6.5v0.60h-6.5zM128 293.43h6.5v0.60h-6.5zM383 293.43h6.5v0.60h-6.5zM396.1 293.43h6.5v0.60h-6.5zM154.1 292.27h6.5v0.58h-6.5zM245.7 292.27h6.5v0.58h-6.5zM265.3 292.27h6.5v0.58h-6.5zM356.8 292.27h6.5v0.58h-6.5zM154.1 231.80h13.1v1.00h-13.1zM206.4 231.80h6.5v1.00h-6.5zM304.5 231.80h6.5v1.00h-6.5zM350.3 231.80h13.1v1.00h-13.1zM213 232.80h6.5v1.00h-6.5zM298 232.80h6.5v1.00h-6.5zM121.4 233.80h6.5v1.00h-6.5zM219.5 233.80h6.5v1.00h-6.5zM291.4 233.80h6.5v1.00h-6.5zM389.5 233.80h6.5v1.00h-6.5zM219.5 235.80h6.5v1.00h-6.5zM291.4 235.80h6.5v1.00h-6.5zM108.3 237.80h6.5v1.00h-6.5zM402.6 237.80h6.5v1.00h-6.5zM245.7 238.80h6.5v1.00h-6.5zM265.3 238.80h6.5v1.00h-6.5zM154.1 239.80h6.5v1.00h-6.5zM356.8 239.80h6.5v1.00h-6.5zM252.2 240.80h13.1v1.00h-13.1z"/>
<path fill="#9b9bf0" d="M154.1 182.03h13.1v0.59h-13.1zM350.3 182.03h13.1v0.59h-13.1zM160.7 181.43h6.5v0.60h-6.5zM245.7 181.43h6.5v0.60h-6.5zM265.3 181.43h6.5v0.60h-6.5zM350.3 181.43h6.5v0.60h-6.5zM239.1 179.54h6.5v0.64h-6.5zM271.8 179.54h6.5v0.64h-6.5zM252.2 172.81h13.1v0.86h-13.1zM206.4 139.20h6.5v0.76h-6.5zM304.5 139.20h6.5v0.76h-6.5zM154.1 138.46h13.1v0.74h-13.1zM350.3 138.46h13.1v0.74h-13.1zM252.2 137.74h13.1v0.72h-13.1zM121.4 134.44h6.5v0.63h-6.5zM389.5 134.44h6.5v0.63h-6.5zM167.2 132.63h6.5v0.59h-6.5zM343.8 132.63h6.5v0.59h-6.5zM154.1 340.46h13.1v0.58h-13.1zM350.3 340.46h13.1v0.58h-13.1zM160.7 339.87h6.5v0.59h-6.5zM245.7 339.87h6.5v0.59h-6.5zM265.3 339.87h6.5v0.59h-6.5zM350.3 339.87h6.5v0.59h-6.5zM239.1 338.03h6.5v0.63h-6.5zM271.8 338.03h6.5v0.63h-6.5zM252.2 331.47h13.1v0.84h-13.1zM206.4 298.67h6.5v0.75h-6.5zM304.5 298.67h6.5v0.75h-6.5zM154.1 297.95h13.1v0.72h-13.1zM350.3 297.95h13.1v0.72h-13.1zM252.2 297.25h13.1v0.70h-13.1zM121.4 294.03h6.5v0.61h-6.5zM389.5 294.03h6.5v0.61h-6.5zM167.2 292.27h6.5v0.58h-6.5zM343.8 292.27h6.5v0.58h-6.5zM213 231.80h6.5v1.00h-6.5zM298 231.80h6.5v1.00h-6.5zM167.2 233.80h6.5v1.00h-6.5zM343.8 233.80h6.5v1.00h-6.5zM128 235.80h6.5v1.00h-6.5zM213 235.80h6.5v1.00h-6.5zM232.6 235.80h6.5v1.00h-6.5zM278.4 235.80h6.5v1.00h-6.5zM298 235.80h6.5v1.00h-6.5zM383 235.80h6.5v1.00h-6.5zM134.5 237.80h6.5v1.00h-6.5zM376.5 237.80h6.5v1.00h-6.5zM193.4 239.80h6.5v1.00h-6.5zM317.6 239.80h6.5v1.00h-6.5z"/>
<path fill="#a4a4f2" d="M173.7 182.03h6.5v0.59h-6.5zM337.2 182.03h6.5v0.59h-6.5zM141 181.43h6.5v0.60h-6.5zM369.9 181.43h6.5v0.60h-6.5zM121.4 180.18h13.1v0.63h-13.1zM383 180.18h13.1v0.63h-13.1zM167.2 179.54h19.6v0.64h-19.6zM330.7 179.54h19.6v0.64h-19.6zM206.4 178.88h6.5v0.66h-6.5zM252.2 178.88h13.1v0.66h-13.1zM304.5 178.88h6.5v0.66h-6.5zM114.9 177.51h6.5v0.70h-6.5zM396.1 177.51h6.5v0.70h-6.5zM186.8 175.29h6.5v0.76h-6.5zM206.4 175.29h6.5v0.76h-6.5zM304.5 175.29h6.5v0.76h-6.5zM324.1 175.29h6.5v0.76h-6.5zM101.8 174.50h6.5v0.79h-6.5zM128 174.50h6.5v0.79h-6.5zM154.1 174.50h6.5v0.79h-6.5zM356.8 174.50h6.5v0.79h-6.5zM383 174.50h6.5v0.79h-6.5zM409.2 174.50h6.5v0.79h-6.5zM101.8 173.67h6.5v0.82h-6.5zM219.5 173.67h6.5v0.82h-6.5zM245.7 173.67h6.5v0.82h-6.5zM265.3 173.67h6.5v0.82h-6.5zM291.4 173.67h6.5v0.82h-6.5zM409.2 173.67h6.5v0.82h-6.5zM141 172.81h6.5v0.86h-6.5zM369.9 172.81h6.5v0.86h-6.5zM206.4 171.91h6.5v0.90h-6.5zM304.5 171.91h6.5v0.90h-6.5zM128 146.38h6.5v1.18h-6.5zM193.4 146.38h6.5v1.18h-6.5zM317.6 146.38h6.5v1.18h-6.5zM383 146.38h6.5v1.18h-6.5zM114.9 143.34h6.5v0.95h-6.5zM396.1 143.34h6.5v0.95h-6.5zM141 142.44h6.5v0.90h-6.5zM173.7 142.44h6.5v0.90h-6.5zM239.1 142.44h6.5v0.90h-6.5zM271.8 142.44h6.5v0.90h-6.5zM337.2 142.44h6.5v0.90h-6.5zM369.9 142.44h6.5v0.90h-6.5zM245.7 141.58h6.5v0.86h-6.5zM265.3 141.58h6.5v0.86h-6.5zM160.7 140.75h6.5v0.82h-6.5zM232.6 140.75h6.5v0.82h-6.5zM278.4 140.75h6.5v0.82h-6.5zM350.3 140.75h6.5v0.82h-6.5zM213 138.46h6.5v0.74h-6.5zM298 138.46h6.5v0.74h-6.5zM173.7 136.37h6.5v0.68h-6.5zM226.1 136.37h6.5v0.68h-6.5zM284.9 136.37h6.5v0.68h-6.5zM337.2 136.37h6.5v0.68h-6.5zM108.3 135.71h6.5v0.66h-6.5zM154.1 135.71h6.5v0.66h-6.5zM193.4 135.71h6.5v0.66h-6.5zM317.6 135.71h6.5v0.66h-6.5zM356.8 135.71h6.5v0.66h-6.5zM402.6 135.71h6.5v0.66h-6.5zM167.2 135.07h6.5v0.64h-6.5zM343.8 135.07h6.5v0.64h-6.5zM245.7 133.82h6.5v0.62h-6.5zM265.3 133.82h6.5v0.62h-6.5zM206.4 133.22h13.1v0.60h-13.1zM298 133.22h13.1v0.60h-13.1zM147.6 132.63h6.5v0.59h-6.5zM226.1 132.63h6.5v0.59h-6.5zM284.9 132.63h6.5v0.59h-6.5zM363.4 132.63h6.5v0.59h-6.5zM173.7 340.46h6.5v0.58h-6.5zM337.2 340.46h6.5v0.58h-6.5zM141 339.87h6.5v0.59h-6.5zM369.9 339.87h6.5v0.59h-6.5zM121.4 338.66h13.1v0.61h-13.1zM383 338.66h13.1v0.61h-13.1zM167.2 338.03h19.6v0.63h-19.6zM330.7 338.03h19.6v0.63h-19.6zM206.4 337.38h6.5v0.64h-6.5zM252.2 337.38h13.1v0.64h-13.1zM304.5 337.38h6.5v0.64h-6.5zM114.9 336.05h6.5v0.68h-6.5zM396.1 336.05h6.5v0.68h-6.5zM186.8 333.88h6.5v0.75h-6.5zM206.4 333.88h6.5v0.75h-6.5zM304.5 333.88h6.5v0.75h-6.5zM324.1 333.88h6.5v0.75h-6.5zM101.8 333.11h6.5v0.77h-6.5zM128 333.11h6.5v0.77h-6.5zM154.1 333.11h6.5v0.77h-6.5zM356.8 333.11h6.5v0.77h-6.5zM383 333.11h6.5v0.77h-6.5zM409.2 333.11h6.5v0.77h-6.5zM101.8 332.31h6.5v0.80h-6.5zM219.5 332.31h6.5v0.80h-6.5zM245.7 332.31h6.5v0.80h-6.5zM265.3 332.31h6.5v0.80h-6.5zM291.4 332.31h6.5v0.80h-6.5zM409.2 332.31h6.5v0.80h-6.5zM141 331.47h6.5v0.84h-6.5zM369.9 331.47h6.5v0.84h-6.5zM206.4 330.59h6.5v0.88h-6.5zM304.5 330.59h6.5v0.88h-6.5zM128 305.68h6.5v1.15h-6.5zM193.4 305.68h6.5v1.15h-6.5zM317.6 305.68h6.5v1.15h-6.5zM383 305.68h6.5v1.15h-6.5zM114.9 302.71h6.5v0.93h-6.5zM396.1 302.71h6.5v0.93h-6.5zM141 301.83h6.5v0.88h-6.5zM173.7 301.83h6.5v0.88h-6.5zM239.1 301.83h6.5v0.88h-6.5zM271.8 301.83h6.5v0.88h-6.5zM337.2 301.83h6.5v0.88h-6.5zM369.9 301.83h6.5v0.88h-6.5zM245.7 300.99h6.5v0.84h-6.5zM265.3 300.99h6.5v0.84h-6.5zM160.7 300.19h6.5v0.80h-6.5zM232.6 300.19h6.5v0.80h-6.5zM278.4 300.19h6.5v0.80h-6.5zM350.3 300.19h6.5v0.80h-6.5zM213 297.95h6.5v0.72h-6.5zM298 297.95h6.5v0.72h-6.5zM173.7 295.92h6.5v0.66h-6.5zM226.1 295.92h6.5v0.66h-6.5zM284.9 295.92h6.5v0.66h-6.5zM337.2 295.92h6.5v0.66h-6.5zM108.3 295.27h6.5v0.64h-6.5zM154.1 295.27h6.5v0.64h-6.5zM193.4 295.27h6.5v0.64h-6.5zM317.6 295.27h6.5v0.64h-6.5zM356.8 295.27h6.5v0.64h-6.5zM402.6 295.27h6.5v0.64h-6.5zM167.2 294.64h6.5v0.63h-6.5zM343.8 294.64h6.5v0.63h-6.5zM245.7 293.43h6.5v0.60h-6.5zM265.3 293.43h6.5v0.60h-6.5zM206.4 292.84h13.1v0.59h-13.1zM298 292.84h13.1v0.59h-13.1zM147.6 292.27h6.5v0.58h-6.5zM226.1 292.27h6.5v0.58h-6.5zM284.9 292.27h6.5v0.58h-6.5zM363.4 292.27h6.5v0.58h-6.5zM141 231.80h13.1v1.00h-13.1zM167.2 231.80h39.2v1.00h-39.2zM311.1 231.80h39.2v1.00h-39.2zM363.4 231.80h13.1v1.00h-13.1zM206.4 232.80h6.5v1.00h-6.5zM304.5 232.80h6.5v1.00h-6.5zM128 233.80h6.5v1.00h-6.5zM199.9 233.80h6.5v1.00h-6.5zM239.1 233.80h6.5v1.00h-6.5zM271.8 233.80h6.5v1.00h-6.5zM311.1 233.80h6.5v1.00h-6.5zM383 233.80h6.5v1.00h-6.5zM134.5 234.80h6.5v1.00h-6.5zM154.1 234.80h6.5v1.00h-6.5zM245.7 234.80h6.5v1.00h-6.5zM265.3 234.80h6.5v1.00h-6.5zM356.8 234.80h6.5v1.00h-6.5zM376.5 234.80h6.5v1.00h-6.5zM154.1 235.80h13.1v1.00h-13.1zM186.8 235.80h6.5v1.00h-6.5zM324.1 235.80h6.5v1.00h-6.5zM350.3 235.80h13.1v1.00h-13.1zM160.7 236.80h6.5v1.00h-6.5zM173.7 236.80h6.5v1.00h-6.5zM186.8 236.80h6.5v1.00h-6.5zM324.1 236.80h6.5v1.00h-6.5zM337.2 236.80h6.5v1.00h-6.5zM350.3 236.80h6.5v1.00h-6.5zM219.5 238.80h6.5v1.00h-6.5zM239.1 238.80h6.5v1.00h-6.5zM271.8 238.80h6.5v1.00h-6.5zM291.4 238.80h6.5v1.00h-6.5zM186.8 239.80h6.5v1.00h-6.5zM239.1 239.80h6.5v1.00h-6.5zM271.8 239.80h6.5v1.00h-6.5zM324.1 239.80h6.5v1.00h-6.5zM160.7 240.80h6.5v1.00h-6.5zM350.3 240.80h6.5v1.00h-6.5z"/>
<path fill="#acacf3" d="M180.3 182.03h6.5v0.59h-6.5zM330.7 182.03h6.5v0.59h-6.5zM128 181.43h6.5v0.60h-6.5zM167.2 181.43h6.5v0.60h-6.5zM239.1 181.43h6.5v0.60h-6.5zM271.8 181.43h6.5v0.60h-6.5zM343.8 181.43h6.5v0.60h-6.5zM383 181.43h6.5v0.60h-6.5zM121.4 180.81h6.5v0.62h-6.5zM141 180.81h6.5v0.62h-6.5zM199.9 180.81h6.5v0.62h-6.5zM311.1 180.81h6.5v0.62h-6.5zM369.9 180.81h6.5v0.62h-6.5zM389.5 180.81h6.5v0.62h-6.5zM114.9 180.18h6.5v0.63h-6.5zM193.4 180.18h6.5v0.63h-6.5zM317.6 180.18h6.5v0.63h-6.5zM396.1 180.18h6.5v0.63h-6.5zM186.8 179.54h6.5v0.64h-6.5zM219.5 179.54h6.5v0.64h-6.5zM291.4 179.54h6.5v0.64h-6.5zM324.1 179.54h6.5v0.64h-6.5zM108.3 178.88h6.5v0.66h-6.5zM160.7 178.88h6.5v0.66h-6.5zM213 178.88h6.5v0.66h-6.5zM298 178.88h6.5v0.66h-6.5zM350.3 178.88h6.5v0.66h-6.5zM402.6 178.88h6.5v0.66h-6.5zM199.9 178.20h6.5v0.68h-6.5zM239.1 178.20h6.5v0.68h-6.5zM271.8 178.20h6.5v0.68h-6.5zM311.1 178.20h6.5v0.68h-6.5zM101.8 176.79h6.5v0.72h-6.5zM134.5 176.79h6.5v0.72h-6.5zM199.9 176.79h6.5v0.72h-6.5zM311.1 176.79h6.5v0.72h-6.5zM376.5 176.79h6.5v0.72h-6.5zM409.2 176.79h6.5v0.72h-6.5zM101.8 176.05h6.5v0.74h-6.5zM409.2 176.05h6.5v0.74h-6.5zM180.3 175.29h6.5v0.76h-6.5zM330.7 175.29h6.5v0.76h-6.5zM252.2 174.50h13.1v0.79h-13.1zM173.7 173.67h6.5v0.82h-6.5zM199.9 173.67h6.5v0.82h-6.5zM311.1 173.67h6.5v0.82h-6.5zM337.2 173.67h6.5v0.82h-6.5zM101.8 171.91h6.5v0.90h-6.5zM199.9 171.91h6.5v0.90h-6.5zM311.1 171.91h6.5v0.90h-6.5zM409.2 171.91h6.5v0.90h-6.5zM160.7 166.40h6.5v1.30h-6.5zM350.3 166.40h6.5v1.30h-6.5zM239.1 146.38h6.5v1.18h-6.5zM271.8 146.38h6.5v1.18h-6.5zM114.9 142.44h6.5v0.90h-6.5zM199.9 142.44h6.5v0.90h-6.5zM232.6 142.44h6.5v0.90h-6.5zM278.4 142.44h6.5v0.90h-6.5zM311.1 142.44h6.5v0.90h-6.5zM396.1 142.44h6.5v0.90h-6.5zM121.4 141.58h6.5v0.86h-6.5zM389.5 141.58h6.5v0.86h-6.5zM101.8 139.20h6.5v0.76h-6.5zM199.9 139.20h6.5v0.76h-6.5zM311.1 139.20h6.5v0.76h-6.5zM409.2 139.20h6.5v0.76h-6.5zM101.8 137.74h6.5v0.72h-6.5zM199.9 137.74h6.5v0.72h-6.5zM311.1 137.74h6.5v0.72h-6.5zM409.2 137.74h6.5v0.72h-6.5zM108.3 137.05h6.5v0.70h-6.5zM173.7 137.05h6.5v0.70h-6.5zM206.4 137.05h6.5v0.70h-6.5zM239.1 137.05h6.5v0.70h-6.5zM271.8 137.05h6.5v0.70h-6.5zM304.5 137.05h6.5v0.70h-6.5zM337.2 137.05h6.5v0.70h-6.5zM402.6 137.05h6.5v0.70h-6.5zM114.9 135.71h6.5v0.66h-6.5zM186.8 135.71h6.5v0.66h-6.5zM324.1 135.71h6.5v0.66h-6.5zM396.1 135.71h6.5v0.66h-6.5zM213 135.07h6.5v0.64h-6.5zM298 135.07h6.5v0.64h-6.5zM101.8 134.44h6.5v0.63h-6.5zM409.2 134.44h6.5v0.63h-6.5zM121.4 133.22h6.5v0.60h-6.5zM219.5 133.22h6.5v0.60h-6.5zM291.4 133.22h6.5v0.60h-6.5zM389.5 133.22h6.5v0.60h-6.5zM232.6 132.63h6.5v0.59h-6.5zM278.4 132.63h6.5v0.59h-6.5zM239.1 124.85h39.2v7.20h-39.2zM180.3 340.46h6.5v0.58h-6.5zM330.7 340.46h6.5v0.58h-6.5zM128 339.87h6.5v0.59h-6.5zM167.2 339.87h6.5v0.59h-6.5zM239.1 339.87h6.5v0.59h-6.5zM271.8 339.87h6.5v0.59h-6.5zM343.8 339.87h6.5v0.59h-6.5zM383 339.87h6.5v0.59h-6.5zM121.4 339.27h6.5v0.60h-6.5zM141 339.27h6.5v0.60h-6.5zM199.9 339.27h6.5v0.60h-6.5zM311.1 339.27h6.5v0.60h-6.5zM369.9 339.27h6.5v0.60h-6.5zM389.5 339.27h6.5v0.60h-6.5zM114.9 338.66h6.5v0.61h-6.5zM193.4 338.66h6.5v0.61h-6.5zM317.6 338.66h6.5v0.61h-6.5zM396.1 338.66h6.5v0.61h-6.5zM186.8 338.03h6.5v0.63h-6.5zM219.5 338.03h6.5v0.63h-6.5zM291.4 338.03h6.5v0.63h-6.5zM324.1 338.03h6.5v0.63h-6.5zM108.3 337.38h6.5v0.64h-6.5zM160.7 337.38h6.5v0.64h-6.5zM213 337.38h6.5v0.64h-6.5zM298 337.38h6.5v0.64h-6.5zM350.3 337.38h6.5v0.64h-6.5zM402.6 337.38h6.5v0.64h-6.5zM199.9 336.72h6.5v0.66h-6.5zM239.1 336.72h6.5v0.66h-6.5zM271.8 336.72h6.5v0.66h-6.5zM311.1 336.72h6.5v0.66h-6.5zM101.8 335.35h6.5v0.70h-6.5zM134.5 335.35h6.5v0.70h-6.5zM199.9 335.35h6.5v0.70h-6.5zM311.1 335.35h6.5v0.70h-6.5zM376.5 335.35h6.5v0.70h-6.5zM409.2 335.35h6.5v0.70h-6.5zM101.8 334.63h6.5v0.72h-6.5zM409.2 334.63h6.5v0.72h-6.5zM180.3 333.88h6.5v0.75h-6.5zM330.7 333.88h6.5v0.75h-6.5zM252.2 333.11h13.1v0.77h-13.1zM173.7 332.31h6.5v0.80h-6.5zM199.9 332.31h6.5v0.80h-6.5zM311.1 332.31h6.5v0.80h-6.5zM337.2 332.31h6.5v0.80h-6.5zM101.8 330.59h6.5v0.88h-6.5zM199.9 330.59h6.5v0.88h-6.5zM311.1 330.59h6.5v0.88h-6.5zM409.2 330.59h6.5v0.88h-6.5zM160.7 325.21h6.5v1.27h-6.5zM350.3 325.21h6.5v1.27h-6.5zM239.1 305.68h6.5v1.15h-6.5zM271.8 305.68h6.5v1.15h-6.5zM114.9 301.83h6.5v0.88h-6.5zM199.9 301.83h6.5v0.88h-6.5zM232.6 301.83h6.5v0.88h-6.5zM278.4 301.83h6.5v0.88h-6.5zM311.1 301.83h6.5v0.88h-6.5zM396.1 301.83h6.5v0.88h-6.5zM121.4 300.99h6.5v0.84h-6.5zM389.5 300.99h6.5v0.84h-6.5zM101.8 298.67h6.5v0.75h-6.5zM199.9 298.67h6.5v0.75h-6.5zM311.1 298.67h6.5v0.75h-6.5zM409.2 298.67h6.5v0.75h-6.5zM101.8 297.25h6.5v0.70h-6.5zM199.9 297.25h6.5v0.70h-6.5zM311.1 297.25h6.5v0.70h-6.5zM409.2 297.25h6.5v0.70h-6.5zM108.3 296.58h6.5v0.68h-6.5zM173.7 296.58h6.5v0.68h-6.5zM206.4 296.58h6.5v0.68h-6.5zM239.1 296.58h6.5v0.68h-6.5zM271.8 296.58h6.5v0.68h-6.5zM304.5 296.58h6.5v0.68h-6.5zM337.2 296.58h6.5v0.68h-6.5zM402.6 296.58h6.5v0.68h-6.5zM114.9 295.27h6.5v0.64h-6.5zM186.8 295.27h6.5v0.64h-6.5zM324.1 295.27h6.5v0.64h-6.5zM396.1 295.27h6.5v0.64h-6.5zM213 294.64h6.5v0.63h-6.5zM298 294.64h6.5v0.63h-6.5zM101.8 294.03h6.5v0.61h-6.5zM409.2 294.03h6.5v0.61h-6.5zM121.4 292.84h6.5v0.59h-6.5zM219.5 292.84h6.5v0.59h-6.5zM291.4 292.84h6.5v0.59h-6.5zM389.5 292.84h6.5v0.59h-6.5zM232.6 292.27h6.5v0.58h-6.5zM278.4 292.27h6.5v0.58h-6.5zM239.1 284.50h39.2v7.20h-39.2zM239.1 224.60h39.2v7.20h-39.2zM128 232.80h6.5v1.00h-6.5zM199.9 232.80h6.5v1.00h-6.5zM311.1 232.80h6.5v1.00h-6.5zM383 232.80h6.5v1.00h-6.5zM147.6 233.80h6.5v1.00h-6.5zM173.7 233.80h6.5v1.00h-6.5zM186.8 233.80h6.5v1.00h-6.5zM324.1 233.80h6.5v1.00h-6.5zM337.2 233.80h6.5v1.00h-6.5zM363.4 233.80h6.5v1.00h-6.5zM141 234.80h13.1v1.00h-13.1zM252.2 234.80h13.1v1.00h-13.1zM363.4 234.80h13.1v1.00h-13.1zM101.8 235.80h6.5v1.00h-6.5zM141 235.80h6.5v1.00h-6.5zM369.9 235.80h6.5v1.00h-6.5zM409.2 235.80h6.5v1.00h-6.5zM180.3 236.80h6.5v1.00h-6.5zM199.9 236.80h6.5v1.00h-6.5zM311.1 236.80h6.5v1.00h-6.5zM330.7 236.80h6.5v1.00h-6.5zM141 237.80h6.5v1.00h-6.5zM206.4 237.80h6.5v1.00h-6.5zM239.1 237.80h6.5v1.00h-6.5zM271.8 237.80h6.5v1.00h-6.5zM304.5 237.80h6.5v1.00h-6.5zM369.9 237.80h6.5v1.00h-6.5zM193.4 238.80h13.1v1.00h-13.1zM226.1 238.80h6.5v1.00h-6.5zM252.2 238.80h13.1v1.00h-13.1zM284.9 238.80h6.5v1.00h-6.5zM311.1 238.80h13.1v1.00h-13.1zM160.7 239.80h6.5v1.00h-6.5zM350.3 239.80h6.5v1.00h-6.5zM167.2 240.80h6.5v1.00h-6.5zM245.7 240.80h6.5v1.00h-6.5zM265.3 240.80h6.5v1.00h-6.5zM343.8 240.80h6.5v1.00h-6.5z"/>
<path fill="#b6b6f4" d="M186.8 182.03h6.5v0.59h-6.5zM324.1 182.03h6.5v0.59h-6.5zM206.4 180.81h6.5v0.62h-6.5zM304.5 180.81h6.5v0.62h-6.5zM134.5 180.18h6.5v0.63h-6.5zM199.9 180.18h6.5v0.63h-6.5zM252.2 180.18h13.1v0.63h-13.1zM311.1 180.18h6.5v0.63h-6.5zM376.5 180.18h6.5v0.63h-6.5zM154.1 179.54h6.5v0.64h-6.5zM356.8 179.54h6.5v0.64h-6.5zM154.1 178.88h6.5v0.66h-6.5zM199.9 178.88h6.5v0.66h-6.5zM245.7 178.88h6.5v0.66h-6.5zM265.3 178.88h6.5v0.66h-6.5zM311.1 178.88h6.5v0.66h-6.5zM356.8 178.88h6.5v0.66h-6.5zM147.6 178.20h13.1v0.68h-13.1zM356.8 178.20h13.1v0.68h-13.1zM193.4 176.05h6.5v0.74h-6.5zM317.6 176.05h6.5v0.74h-6.5zM147.6 174.50h6.5v0.79h-6.5zM363.4 174.50h6.5v0.79h-6.5zM154.1 173.67h6.5v0.82h-6.5zM356.8 173.67h6.5v0.82h-6.5zM101.8 170.96h6.5v0.95h-6.5zM114.9 170.96h6.5v0.95h-6.5zM199.9 170.96h6.5v0.95h-6.5zM311.1 170.96h6.5v0.95h-6.5zM396.1 170.96h6.5v0.95h-6.5zM409.2 170.96h6.5v0.95h-6.5zM114.9 169.95h6.5v1.01h-6.5zM154.1 169.95h6.5v1.01h-6.5zM193.4 169.95h6.5v1.01h-6.5zM317.6 169.95h6.5v1.01h-6.5zM356.8 169.95h6.5v1.01h-6.5zM396.1 169.95h6.5v1.01h-6.5zM147.6 167.70h6.5v1.18h-6.5zM213 167.70h6.5v1.18h-6.5zM298 167.70h6.5v1.18h-6.5zM363.4 167.70h6.5v1.18h-6.5zM128 166.40h6.5v1.30h-6.5zM173.7 166.40h6.5v1.30h-6.5zM206.4 166.40h6.5v1.30h-6.5zM304.5 166.40h6.5v1.30h-6.5zM337.2 166.40h6.5v1.30h-6.5zM383 166.40h6.5v1.30h-6.5zM173.7 146.38h6.5v1.18h-6.5zM206.4 146.38h6.5v1.18h-6.5zM252.2 146.38h13.1v1.18h-13.1zM304.5 146.38h6.5v1.18h-6.5zM337.2 146.38h6.5v1.18h-6.5zM186.8 144.29h6.5v1.01h-6.5zM324.1 144.29h6.5v1.01h-6.5zM180.3 141.58h6.5v0.86h-6.5zM330.7 141.58h6.5v0.86h-6.5zM108.3 140.75h6.5v0.82h-6.5zM402.6 140.75h6.5v0.82h-6.5zM128 139.96h6.5v0.79h-6.5zM147.6 139.96h6.5v0.79h-6.5zM199.9 139.96h6.5v0.79h-6.5zM245.7 139.96h6.5v0.79h-6.5zM265.3 139.96h6.5v0.79h-6.5zM311.1 139.96h6.5v0.79h-6.5zM363.4 139.96h6.5v0.79h-6.5zM383 139.96h6.5v0.79h-6.5zM147.6 139.20h6.5v0.76h-6.5zM180.3 139.20h6.5v0.76h-6.5zM330.7 139.20h6.5v0.76h-6.5zM363.4 139.20h6.5v0.76h-6.5zM193.4 138.46h6.5v0.74h-6.5zM317.6 138.46h6.5v0.74h-6.5zM108.3 137.74h6.5v0.72h-6.5zM402.6 137.74h6.5v0.72h-6.5zM101.8 137.05h6.5v0.70h-6.5zM199.9 137.05h6.5v0.70h-6.5zM311.1 137.05h6.5v0.70h-6.5zM409.2 137.05h6.5v0.70h-6.5zM199.9 135.71h6.5v0.66h-6.5zM311.1 135.71h6.5v0.66h-6.5zM154.1 135.07h6.5v0.64h-6.5zM252.2 135.07h13.1v0.64h-13.1zM356.8 135.07h6.5v0.64h-6.5zM180.3 133.82h6.5v0.62h-6.5zM193.4 133.82h6.5v0.62h-6.5zM317.6 133.82h6.5v0.62h-6.5zM330.7 133.82h6.5v0.62h-6.5zM114.9 133.22h6.5v0.60h-6.5zM134.5 133.22h6.5v0.60h-6.5zM199.9 133.22h6.5v0.60h-6.5zM311.1 133.22h6.5v0.60h-6.5zM376.5 133.22h6.5v0.60h-6.5zM396.1 133.22h6.5v0.60h-6.5zM101.8 132.63h6.5v0.59h-6.5zM121.4 132.63h6.5v0.59h-6.5zM389.5 132.63h6.5v0.59h-6.5zM409.2 132.63h6.5v0.59h-6.5zM141 132.05h65.4v0.58h-65.4zM311.1 132.05h65.4v0.58h-65.4zM186.8 340.46h6.5v0.58h-6.5zM324.1 340.46h6.5v0.58h-6.5zM206.4 339.27h6.5v0.60h-6.5zM304.5 339.27h6.5v0.60h-6.5zM134.5 338.66h6.5v0.61h-6.5zM199.9 338.66h6.5v0.61h-6.5zM252.2 338.66h13.1v0.61h-13.1zM311.1 338.66h6.5v0.61h-6.5zM376.5 338.66h6.5v0.61h-6.5zM154.1 338.03h6.5v0.63h-6.5zM356.8 338.03h6.5v0.63h-6.5zM154.1 337.38h6.5v0.64h-6.5zM199.9 337.38h6.5v0.64h-6.5zM245.7 337.38h6.5v0.64h-6.5zM265.3 337.38h6.5v0.64h-6.5zM311.1 337.38h6.5v0.64h-6.5zM356.8 337.38h6.5v0.64h-6.5zM147.6 336.72h13.1v0.66h-13.1zM356.8 336.72h13.1v0.66h-13.1zM193.4 334.63h6.5v0.72h-6.5zM317.6 334.63h6.5v0.72h-6.5zM147.6 333.11h6.5v0.77h-6.5zM363.4 333.11h6.5v0.77h-6.5zM154.1 332.31h6.5v0.80h-6.5zM356.8 332.31h6.5v0.80h-6.5zM101.8 329.66h6.5v0.93h-6.5zM114.9 329.66h6.5v0.93h-6.5zM199.9 329.66h6.5v0.93h-6.5zM311.1 329.66h6.5v0.93h-6.5zM396.1 329.66h6.5v0.93h-6.5zM409.2 329.66h6.5v0.93h-6.5zM114.9 328.68h6.5v0.98h-6.5zM154.1 328.68h6.5v0.98h-6.5zM193.4 328.68h6.5v0.98h-6.5zM317.6 328.68h6.5v0.98h-6.5zM356.8 328.68h6.5v0.98h-6.5zM396.1 328.68h6.5v0.98h-6.5zM147.6 326.47h6.5v1.15h-6.5zM213 326.47h6.5v1.15h-6.5zM298 326.47h6.5v1.15h-6.5zM363.4 326.47h6.5v1.15h-6.5zM128 325.21h6.5v1.27h-6.5zM173.7 325.21h6.5v1.27h-6.5zM206.4 325.21h6.5v1.27h-6.5zM304.5 325.21h6.5v1.27h-6.5zM337.2 325.21h6.5v1.27h-6.5zM383 325.21h6.5v1.27h-6.5zM173.7 305.68h6.5v1.15h-6.5zM206.4 305.68h6.5v1.15h-6.5zM252.2 305.68h13.1v1.15h-13.1zM304.5 305.68h6.5v1.15h-6.5zM337.2 305.68h6.5v1.15h-6.5zM186.8 303.64h6.5v0.98h-6.5zM324.1 303.64h6.5v0.98h-6.5zM180.3 300.99h6.5v0.84h-6.5zM330.7 300.99h6.5v0.84h-6.5zM108.3 300.19h6.5v0.80h-6.5zM402.6 300.19h6.5v0.80h-6.5zM128 299.42h6.5v0.77h-6.5zM147.6 299.42h6.5v0.77h-6.5zM199.9 299.42h6.5v0.77h-6.5zM245.7 299.42h6.5v0.77h-6.5zM265.3 299.42h6.5v0.77h-6.5zM311.1 299.42h6.5v0.77h-6.5zM363.4 299.42h6.5v0.77h-6.5zM383 299.42h6.5v0.77h-6.5zM147.6 298.67h6.5v0.75h-6.5zM180.3 298.67h6.5v0.75h-6.5zM330.7 298.67h6.5v0.75h-6.5zM363.4 298.67h6.5v0.75h-6.5zM193.4 297.95h6.5v0.72h-6.5zM317.6 297.95h6.5v0.72h-6.5zM108.3 297.25h6.5v0.70h-6.5zM402.6 297.25h6.5v0.70h-6.5zM101.8 296.58h6.5v0.68h-6.5zM199.9 296.58h6.5v0.68h-6.5zM311.1 296.58h6.5v0.68h-6.5zM409.2 296.58h6.5v0.68h-6.5zM199.9 295.27h6.5v0.64h-6.5zM311.1 295.27h6.5v0.64h-6.5zM154.1 294.64h6.5v0.63h-6.5zM252.2 294.64h13.1v0.63h-13.1zM356.8 294.64h6.5v0.63h-6.5zM180.3 293.43h6.5v0.60h-6.5zM193.4 293.43h6.5v0.60h-6.5zM317.6 293.43h6.5v0.60h-6.5zM330.7 293.43h6.5v0.60h-6.5zM114.9 292.84h6.5v0.59h-6.5zM134.5 292.84h6.5v0.59h-6.5zM199.9 292.84h6.5v0.59h-6.5zM311.1 292.84h6.5v0.59h-6.5zM376.5 292.84h6.5v0.59h-6.5zM396.1 292.84h6.5v0.59h-6.5zM101.8 292.27h6.5v0.58h-6.5zM121.4 292.27h6.5v0.58h-6.5zM389.5 292.27h6.5v0.58h-6.5zM409.2 292.27h6.5v0.58h-6.5zM141 291.70h65.4v0.57h-65.4zM311.1 291.70h65.4v0.57h-65.4zM141 232.80h13.1v1.00h-13.1zM226.1 232.80h6.5v1.00h-6.5zM284.9 232.80h6.5v1.00h-6.5zM363.4 232.80h13.1v1.00h-13.1zM114.9 234.80h19.6v1.00h-19.6zM160.7 234.80h19.6v1.00h-19.6zM226.1 234.80h19.6v1.00h-19.6zM271.8 234.80h19.6v1.00h-19.6zM337.2 234.80h19.6v1.00h-19.6zM383 234.80h19.6v1.00h-19.6zM206.4 235.80h6.5v1.00h-6.5zM304.5 235.80h6.5v1.00h-6.5zM154.1 236.80h6.5v1.00h-6.5zM213 236.80h6.5v1.00h-6.5zM298 236.80h6.5v1.00h-6.5zM356.8 236.80h6.5v1.00h-6.5zM226.1 237.80h6.5v1.00h-6.5zM284.9 237.80h6.5v1.00h-6.5zM180.3 239.80h6.5v1.00h-6.5zM330.7 239.80h6.5v1.00h-6.5zM147.6 240.80h6.5v1.00h-6.5zM363.4 240.80h6.5v1.00h-6.5z"/>
<path fill="#c5c5f7" d="M199.9 182.03h6.5v0.59h-6.5zM311.1 182.03h6.5v0.59h-6.5zM206.4 180.18h6.5v0.63h-6.5zM304.5 180.18h6.5v0.63h-6.5zM219.5 178.88h6.5v0.66h-6.5zM291.4 178.88h6.5v0.66h-6.5zM180.3 178.20h6.5v0.68h-6.5zM330.7 178.20h6.5v0.68h-6.5zM134.5 177.51h6.5v0.70h-6.5zM154.1 177.51h6.5v0.70h-6.5zM245.7 177.51h6.5v0.70h-6.5zM265.3 177.51h6.5v0.70h-6.5zM356.8 177.51h6.5v0.70h-6.5zM376.5 177.51h6.5v0.70h-6.5zM232.6 176.79h6.5v0.72h-6.5zM278.4 176.79h6.5v0.72h-6.5zM199.9 176.05h6.5v0.74h-6.5zM232.6 176.05h6.5v0.74h-6.5zM278.4 176.05h6.5v0.74h-6.5zM311.1 176.05h6.5v0.74h-6.5zM199.9 174.50h6.5v0.79h-6.5zM311.1 174.50h6.5v0.79h-6.5zM108.3 173.67h6.5v0.82h-6.5zM402.6 173.67h6.5v0.82h-6.5zM226.1 172.81h6.5v0.86h-6.5zM284.9 172.81h6.5v0.86h-6.5zM186.8 171.91h6.5v0.90h-6.5zM324.1 171.91h6.5v0.90h-6.5zM134.5 170.96h6.5v0.95h-6.5zM173.7 170.96h6.5v0.95h-6.5zM213 170.96h13.1v0.95h-13.1zM252.2 170.96h13.1v0.95h-13.1zM291.4 170.96h13.1v0.95h-13.1zM337.2 170.96h6.5v0.95h-6.5zM376.5 170.96h6.5v0.95h-6.5zM134.5 168.87h6.5v1.08h-6.5zM239.1 168.87h6.5v1.08h-6.5zM271.8 168.87h6.5v1.08h-6.5zM376.5 168.87h6.5v1.08h-6.5zM245.7 167.70h6.5v1.18h-6.5zM265.3 167.70h6.5v1.18h-6.5zM141 166.40h13.1v1.30h-13.1zM226.1 166.40h6.5v1.30h-6.5zM284.9 166.40h6.5v1.30h-6.5zM363.4 166.40h13.1v1.30h-13.1zM108.3 160.63h6.5v2.50h-6.5zM121.4 160.63h6.5v2.50h-6.5zM154.1 160.63h6.5v2.50h-6.5zM193.4 160.63h6.5v2.50h-6.5zM317.6 160.63h6.5v2.50h-6.5zM356.8 160.63h6.5v2.50h-6.5zM389.5 160.63h6.5v2.50h-6.5zM402.6 160.63h6.5v2.50h-6.5zM134.5 154.62h6.5v6.02h-6.5zM160.7 154.62h6.5v6.02h-6.5zM173.7 154.62h6.5v6.02h-6.5zM199.9 154.62h6.5v6.02h-6.5zM311.1 154.62h6.5v6.02h-6.5zM337.2 154.62h6.5v6.02h-6.5zM350.3 154.62h6.5v6.02h-6.5zM376.5 154.62h6.5v6.02h-6.5zM134.5 152.12h6.5v2.50h-6.5zM160.7 152.12h6.5v2.50h-6.5zM173.7 152.12h6.5v2.50h-6.5zM199.9 152.12h6.5v2.50h-6.5zM311.1 152.12h6.5v2.50h-6.5zM337.2 152.12h6.5v2.50h-6.5zM350.3 152.12h6.5v2.50h-6.5zM376.5 152.12h6.5v2.50h-6.5zM108.3 150.34h6.5v1.79h-6.5zM121.4 150.34h6.5v1.79h-6.5zM154.1 150.34h6.5v1.79h-6.5zM193.4 150.34h6.5v1.79h-6.5zM317.6 150.34h6.5v1.79h-6.5zM356.8 150.34h6.5v1.79h-6.5zM389.5 150.34h6.5v1.79h-6.5zM402.6 150.34h6.5v1.79h-6.5zM180.3 146.38h6.5v1.18h-6.5zM330.7 146.38h6.5v1.18h-6.5zM114.9 144.29h6.5v1.01h-6.5zM199.9 144.29h6.5v1.01h-6.5zM219.5 144.29h6.5v1.01h-6.5zM291.4 144.29h6.5v1.01h-6.5zM311.1 144.29h6.5v1.01h-6.5zM396.1 144.29h6.5v1.01h-6.5zM121.4 143.34h6.5v0.95h-6.5zM389.5 143.34h6.5v0.95h-6.5zM154.1 142.44h6.5v0.90h-6.5zM219.5 142.44h6.5v0.90h-6.5zM252.2 142.44h13.1v0.90h-13.1zM291.4 142.44h6.5v0.90h-6.5zM356.8 142.44h6.5v0.90h-6.5zM199.9 141.58h13.1v0.86h-13.1zM304.5 141.58h13.1v0.86h-13.1zM128 140.75h6.5v0.82h-6.5zM383 140.75h6.5v0.82h-6.5zM226.1 139.96h6.5v0.79h-6.5zM284.9 139.96h6.5v0.79h-6.5zM213 139.20h6.5v0.76h-6.5zM298 139.20h6.5v0.76h-6.5zM232.6 138.46h6.5v0.74h-6.5zM278.4 138.46h6.5v0.74h-6.5zM186.8 137.74h6.5v0.72h-6.5zM245.7 137.74h6.5v0.72h-6.5zM265.3 137.74h6.5v0.72h-6.5zM324.1 137.74h6.5v0.72h-6.5zM180.3 137.05h6.5v0.70h-6.5zM232.6 137.05h6.5v0.70h-6.5zM278.4 137.05h6.5v0.70h-6.5zM330.7 137.05h6.5v0.70h-6.5zM199.9 135.07h6.5v0.64h-6.5zM245.7 135.07h6.5v0.64h-6.5zM265.3 135.07h6.5v0.64h-6.5zM311.1 135.07h6.5v0.64h-6.5zM199.9 133.82h6.5v0.62h-6.5zM311.1 133.82h6.5v0.62h-6.5zM108.3 133.22h6.5v0.60h-6.5zM147.6 133.22h6.5v0.60h-6.5zM363.4 133.22h6.5v0.60h-6.5zM402.6 133.22h6.5v0.60h-6.5zM173.7 132.63h6.5v0.59h-6.5zM337.2 132.63h6.5v0.59h-6.5zM121.4 132.05h13.1v0.58h-13.1zM383 132.05h13.1v0.58h-13.1zM199.9 340.46h6.5v0.58h-6.5zM311.1 340.46h6.5v0.58h-6.5zM206.4 338.66h6.5v0.61h-6.5zM304.5 338.66h6.5v0.61h-6.5zM219.5 337.38h6.5v0.64h-6.5zM291.4 337.38h6.5v0.64h-6.5zM180.3 336.72h6.5v0.66h-6.5zM330.7 336.72h6.5v0.66h-6.5zM134.5 336.05h6.5v0.68h-6.5zM154.1 336.05h6.5v0.68h-6.5zM245.7 336.05h6.5v0.68h-6.5zM265.3 336.05h6.5v0.68h-6.5zM356.8 336.05h6.5v0.68h-6.5zM376.5 336.05h6.5v0.68h-6.5zM232.6 335.35h6.5v0.70h-6.5zM278.4 335.35h6.5v0.70h-6.5zM199.9 334.63h6.5v0.72h-6.5zM232.6 334.63h6.5v0.72h-6.5zM278.4 334.63h6.5v0.72h-6.5zM311.1 334.63h6.5v0.72h-6.5zM199.9 333.11h6.5v0.77h-6.5zM311.1 333.11h6.5v0.77h-6.5zM108.3 332.31h6.5v0.80h-6.5zM402.6 332.31h6.5v0.80h-6.5zM226.1 331.47h6.5v0.84h-6.5zM284.9 331.47h6.5v0.84h-6.5zM186.8 330.59h6.5v0.88h-6.5zM324.1 330.59h6.5v0.88h-6.5zM134.5 329.66h6.5v0.93h-6.5zM173.7 329.66h6.5v0.93h-6.5zM213 329.66h13.1v0.93h-13.1zM252.2 329.66h13.1v0.93h-13.1zM291.4 329.66h13.1v0.93h-13.1zM337.2 329.66h6.5v0.93h-6.5zM376.5 329.66h6.5v0.93h-6.5zM134.5 327.62h6.5v1.06h-6.5zM239.1 327.62h6.5v1.06h-6.5zM271.8 327.62h6.5v1.06h-6.5zM376.5 327.62h6.5v1.06h-6.5zM245.7 326.47h6.5v1.15h-6.5zM265.3 326.47h6.5v1.15h-6.5zM141 325.21h13.1v1.27h-13.1zM226.1 325.21h6.5v1.27h-6.5zM284.9 325.21h6.5v1.27h-6.5zM363.4 325.21h13.1v1.27h-13.1zM108.3 319.58h6.5v2.43h-6.5zM121.4 319.58h6.5v2.43h-6.5zM154.1 319.58h6.5v2.43h-6.5zM193.4 319.58h6.5v2.43h-6.5zM317.6 319.58h6.5v2.43h-6.5zM356.8 319.58h6.5v2.43h-6.5zM389.5 319.58h6.5v2.43h-6.5zM402.6 319.58h6.5v2.43h-6.5zM134.5 313.72h6.5v5.87h-6.5zM160.7 313.72h6.5v5.87h-6.5zM173.7 313.72h6.5v5.87h-6.5zM199.9 313.72h6.5v5.87h-6.5zM311.1 313.72h6.5v5.87h-6.5zM337.2 313.72h6.5v5.87h-6.5zM350.3 313.72h6.5v5.87h-6.5zM376.5 313.72h6.5v5.87h-6.5zM134.5 311.28h6.5v2.43h-6.5zM160.7 311.28h6.5v2.43h-6.5zM173.7 311.28h6.5v2.43h-6.5zM199.9 311.28h6.5v2.43h-6.5zM311.1 311.28h6.5v2.43h-6.5zM337.2 311.28h6.5v2.43h-6.5zM350.3 311.28h6.5v2.43h-6.5zM376.5 311.28h6.5v2.43h-6.5zM108.3 309.54h6.5v1.74h-6.5zM121.4 309.54h6.5v1.74h-6.5zM154.1 309.54h6.5v1.74h-6.5zM193.4 309.54h6.5v1.74h-6.5zM317.6 309.54h6.5v1.74h-6.5zM356.8 309.54h6.5v1.74h-6.5zM389.5 309.54h6.5v1.74h-6.5zM402.6 309.54h6.5v1.74h-6.5zM180.3 305.68h6.5v1.15h-6.5zM330.7 305.68h6.5v1.15h-6.5zM114.9 303.64h6.5v0.98h-6.5zM199.9 303.64h6.5v0.98h-6.5zM219.5 303.64h6.5v0.98h-6.5zM291.4 303.64h6.5v0.98h-6.5zM311.1 303.64h6.5v0.98h-6.5zM396.1 303.64h6.5v0.98h-6.5zM121.4 302.71h6.5v0.93h-6.5zM389.5 302.71h6.5v0.93h-6.5zM154.1 301.83h6.5v0.88h-6.5zM219.5 301.83h6.5v0.88h-6.5zM252.2 301.83h13.1v0.88h-13.1zM291.4 301.83h6.5v0.88h-6.5zM356.8 301.83h6.5v0.88h-6.5zM199.9 300.99h13.1v0.84h-13.1zM304.5 300.99h13.1v0.84h-13.1zM128 300.19h6.5v0.80h-6.5zM383 300.19h6.5v0.80h-6.5zM226.1 299.42h6.5v0.77h-6.5zM284.9 299.42h6.5v0.77h-6.5zM213 298.67h6.5v0.75h-6.5zM298 298.67h6.5v0.75h-6.5zM232.6 297.95h6.5v0.72h-6.5zM278.4 297.95h6.5v0.72h-6.5zM186.8 297.25h6.5v0.70h-6.5zM245.7 297.25h6.5v0.70h-6.5zM265.3 297.25h6.5v0.70h-6.5zM324.1 297.25h6.5v0.70h-6.5zM180.3 296.58h6.5v0.68h-6.5zM232.6 296.58h6.5v0.68h-6.5zM278.4 296.58h6.5v0.68h-6.5zM330.7 296.58h6.5v0.68h-6.5zM199.9 294.64h6.5v0.63h-6.5zM245.7 294.64h6.5v0.63h-6.5zM265.3 294.64h6.5v0.63h-6.5zM311.1 294.64h6.5v0.63h-6.5zM199.9 293.43h6.5v0.60h-6.5zM311.1 293.43h6.5v0.60h-6.5zM108.3 292.84h6.5v0.59h-6.5zM147.6 292.84h6.5v0.59h-6.5zM363.4 292.84h6.5v0.59h-6.5zM402.6 292.84h6.5v0.59h-6.5zM173.7 292.27h6.5v0.58h-6.5zM337.2 292.27h6.5v0.58h-6.5zM121.4 291.70h13.1v0.57h-13.1zM383 291.70h13.1v0.57h-13.1zM232.6 232.80h6.5v1.00h-6.5zM278.4 232.80h6.5v1.00h-6.5zM108.3 236.80h6.5v1.00h-6.5zM219.5 236.80h13.1v1.00h-13.1zM284.9 236.80h13.1v1.00h-13.1zM402.6 236.80h6.5v1.00h-6.5zM121.4 238.80h13.1v1.00h-13.1zM154.1 238.80h6.5v1.00h-6.5zM356.8 238.80h6.5v1.00h-6.5zM383 238.80h13.1v1.00h-13.1zM141 240.80h6.5v1.00h-6.5zM239.1 240.80h6.5v1.00h-6.5zM271.8 240.80h6.5v1.00h-6.5zM369.9 240.80h6.5v1.00h-6.5z"/>
<path fill="#9797f0" d="M147.6 181.43h6.5v0.60h-6.5zM363.4 181.43h6.5v0.60h-6.5zM134.5 180.81h6.5v0.62h-6.5zM376.5 180.81h6.5v0.62h-6.5zM193.4 178.20h6.5v0.68h-6.5zM317.6 178.20h6.5v0.68h-6.5zM173.7 176.79h6.5v0.72h-6.5zM337.2 176.79h6.5v0.72h-6.5zM245.7 175.29h6.5v0.76h-6.5zM265.3 175.29h6.5v0.76h-6.5zM232.6 172.81h6.5v0.86h-6.5zM278.4 172.81h6.5v0.86h-6.5zM141 171.91h6.5v0.90h-6.5zM369.9 171.91h6.5v0.90h-6.5zM101.8 142.44h6.5v0.90h-6.5zM409.2 142.44h6.5v0.90h-6.5zM206.4 140.75h6.5v0.82h-6.5zM304.5 140.75h6.5v0.82h-6.5zM108.3 138.46h6.5v0.74h-6.5zM402.6 138.46h6.5v0.74h-6.5zM226.1 137.74h6.5v0.72h-6.5zM284.9 137.74h6.5v0.72h-6.5zM114.9 136.37h6.5v0.68h-6.5zM396.1 136.37h6.5v0.68h-6.5zM114.9 135.07h6.5v0.64h-6.5zM396.1 135.07h6.5v0.64h-6.5zM167.2 134.44h6.5v0.63h-6.5zM232.6 134.44h6.5v0.63h-6.5zM278.4 134.44h6.5v0.63h-6.5zM343.8 134.44h6.5v0.63h-6.5zM252.2 133.82h13.1v0.62h-13.1zM128 132.63h6.5v0.59h-6.5zM383 132.63h6.5v0.59h-6.5zM147.6 339.87h6.5v0.59h-6.5zM363.4 339.87h6.5v0.59h-6.5zM134.5 339.27h6.5v0.60h-6.5zM376.5 339.27h6.5v0.60h-6.5zM193.4 336.72h6.5v0.66h-6.5zM317.6 336.72h6.5v0.66h-6.5zM173.7 335.35h6.5v0.70h-6.5zM337.2 335.35h6.5v0.70h-6.5zM245.7 333.88h6.5v0.75h-6.5zM265.3 333.88h6.5v0.75h-6.5zM232.6 331.47h6.5v0.84h-6.5zM278.4 331.47h6.5v0.84h-6.5zM141 330.59h6.5v0.88h-6.5zM369.9 330.59h6.5v0.88h-6.5zM101.8 301.83h6.5v0.88h-6.5zM409.2 301.83h6.5v0.88h-6.5zM206.4 300.19h6.5v0.80h-6.5zM304.5 300.19h6.5v0.80h-6.5zM108.3 297.95h6.5v0.72h-6.5zM402.6 297.95h6.5v0.72h-6.5zM226.1 297.25h6.5v0.70h-6.5zM284.9 297.25h6.5v0.70h-6.5zM114.9 295.92h6.5v0.66h-6.5zM396.1 295.92h6.5v0.66h-6.5zM114.9 294.64h6.5v0.63h-6.5zM396.1 294.64h6.5v0.63h-6.5zM167.2 294.03h6.5v0.61h-6.5zM232.6 294.03h6.5v0.61h-6.5zM278.4 294.03h6.5v0.61h-6.5zM343.8 294.03h6.5v0.61h-6.5zM252.2 293.43h13.1v0.60h-13.1zM128 292.27h6.5v0.58h-6.5zM383 292.27h6.5v0.58h-6.5zM219.5 231.80h6.5v1.00h-6.5zM291.4 231.80h6.5v1.00h-6.5zM114.9 233.80h6.5v1.00h-6.5zM245.7 233.80h26.2v1.00h-26.2zM396.1 233.80h6.5v1.00h-6.5zM173.7 235.80h6.5v1.00h-6.5zM239.1 235.80h6.5v1.00h-6.5zM271.8 235.80h6.5v1.00h-6.5zM337.2 235.80h6.5v1.00h-6.5zM121.4 237.80h6.5v1.00h-6.5zM186.8 237.80h6.5v1.00h-6.5zM199.9 237.80h6.5v1.00h-6.5zM311.1 237.80h6.5v1.00h-6.5zM324.1 237.80h6.5v1.00h-6.5zM389.5 237.80h6.5v1.00h-6.5zM128 239.80h26.2v1.00h-26.2zM199.9 239.80h39.2v1.00h-39.2zM278.4 239.80h39.2v1.00h-39.2zM363.4 239.80h26.2v1.00h-26.2z"/>
<path fill="#9292ef" d="M154.1 181.43h6.5v0.60h-6.5zM356.8 181.43h6.5v0.60h-6.5zM141 177.51h13.1v0.70h-13.1zM252.2 177.51h13.1v0.70h-13.1zM363.4 177.51h13.1v0.70h-13.1zM121.4 172.81h6.5v0.86h-6.5zM389.5 172.81h6.5v0.86h-6.5zM101.8 139.96h6.5v0.79h-6.5zM409.2 139.96h6.5v0.79h-6.5zM128 139.20h6.5v0.76h-6.5zM383 139.20h6.5v0.76h-6.5zM239.1 138.46h6.5v0.74h-6.5zM271.8 138.46h6.5v0.74h-6.5zM186.8 136.37h6.5v0.68h-6.5zM213 136.37h6.5v0.68h-6.5zM298 136.37h6.5v0.68h-6.5zM324.1 136.37h6.5v0.68h-6.5zM154.1 339.87h6.5v0.59h-6.5zM356.8 339.87h6.5v0.59h-6.5zM141 336.05h13.1v0.68h-13.1zM252.2 336.05h13.1v0.68h-13.1zM363.4 336.05h13.1v0.68h-13.1zM121.4 331.47h6.5v0.84h-6.5zM389.5 331.47h6.5v0.84h-6.5zM101.8 299.42h6.5v0.77h-6.5zM409.2 299.42h6.5v0.77h-6.5zM128 298.67h6.5v0.75h-6.5zM383 298.67h6.5v0.75h-6.5zM239.1 297.95h6.5v0.72h-6.5zM271.8 297.95h6.5v0.72h-6.5zM186.8 295.92h6.5v0.66h-6.5zM213 295.92h6.5v0.66h-6.5zM298 295.92h6.5v0.66h-6.5zM324.1 295.92h6.5v0.66h-6.5zM226.1 231.80h6.5v1.00h-6.5zM284.9 231.80h6.5v1.00h-6.5zM154.1 233.80h6.5v1.00h-6.5zM206.4 233.80h6.5v1.00h-6.5zM304.5 233.80h6.5v1.00h-6.5zM356.8 233.80h6.5v1.00h-6.5zM108.3 235.80h19.6v1.00h-19.6zM180.3 235.80h6.5v1.00h-6.5zM330.7 235.80h6.5v1.00h-6.5zM389.5 235.80h19.6v1.00h-19.6zM193.4 237.80h6.5v1.00h-6.5zM252.2 237.80h13.1v1.00h-13.1zM317.6 237.80h6.5v1.00h-6.5zM101.8 77.60h6.5v7.20h-6.5zM409.2 77.60h6.5v7.20h-6.5zM101.8 214.40h6.5v7.20h-6.5zM409.2 214.40h6.5v7.20h-6.5zM101.8 245.40h6.5v7.20h-6.5zM409.2 245.40h6.5v7.20h-6.5z"/>
<path fill="#cacaf8" d="M173.7 181.43h6.5v0.60h-6.5zM337.2 181.43h6.5v0.60h-6.5zM147.6 179.54h6.5v0.64h-6.5zM363.4 179.54h6.5v0.64h-6.5zM141 178.20h6.5v0.68h-6.5zM369.9 178.20h6.5v0.68h-6.5zM121.4 177.51h6.5v0.70h-6.5zM389.5 177.51h6.5v0.70h-6.5zM114.9 176.79h13.1v0.72h-13.1zM160.7 176.79h6.5v0.72h-6.5zM350.3 176.79h6.5v0.72h-6.5zM389.5 176.79h13.1v0.72h-13.1zM114.9 175.29h13.1v0.76h-13.1zM173.7 175.29h6.5v0.76h-6.5zM193.4 175.29h6.5v0.76h-6.5zM317.6 175.29h6.5v0.76h-6.5zM337.2 175.29h6.5v0.76h-6.5zM389.5 175.29h13.1v0.76h-13.1zM108.3 174.50h13.1v0.79h-13.1zM134.5 174.50h6.5v0.79h-6.5zM376.5 174.50h6.5v0.79h-6.5zM396.1 174.50h13.1v0.79h-13.1zM252.2 173.67h13.1v0.82h-13.1zM108.3 172.81h13.1v0.86h-13.1zM396.1 172.81h13.1v0.86h-13.1zM108.3 171.91h6.5v0.90h-6.5zM402.6 171.91h6.5v0.90h-6.5zM101.8 169.95h13.1v1.01h-13.1zM121.4 169.95h6.5v1.01h-6.5zM252.2 169.95h13.1v1.01h-13.1zM389.5 169.95h6.5v1.01h-6.5zM402.6 169.95h13.1v1.01h-13.1zM101.8 168.87h13.1v1.08h-13.1zM121.4 168.87h6.5v1.08h-6.5zM167.2 168.87h6.5v1.08h-6.5zM199.9 168.87h6.5v1.08h-6.5zM252.2 168.87h13.1v1.08h-13.1zM311.1 168.87h6.5v1.08h-6.5zM343.8 168.87h6.5v1.08h-6.5zM389.5 168.87h6.5v1.08h-6.5zM402.6 168.87h13.1v1.08h-13.1zM101.8 166.40h13.1v1.30h-13.1zM121.4 166.40h6.5v1.30h-6.5zM389.5 166.40h6.5v1.30h-6.5zM402.6 166.40h13.1v1.30h-13.1zM101.8 164.91h26.2v1.48h-26.2zM389.5 164.91h26.2v1.48h-26.2zM219.5 160.63h6.5v2.50h-6.5zM291.4 160.63h6.5v2.50h-6.5zM186.8 154.62h6.5v6.02h-6.5zM226.1 154.62h6.5v6.02h-6.5zM284.9 154.62h6.5v6.02h-6.5zM324.1 154.62h6.5v6.02h-6.5zM186.8 152.12h6.5v2.50h-6.5zM226.1 152.12h6.5v2.50h-6.5zM284.9 152.12h6.5v2.50h-6.5zM324.1 152.12h6.5v2.50h-6.5zM219.5 150.34h6.5v1.79h-6.5zM291.4 150.34h6.5v1.79h-6.5zM101.8 148.85h26.2v1.48h-26.2zM389.5 148.85h26.2v1.48h-26.2zM101.8 146.38h6.5v1.18h-6.5zM121.4 146.38h6.5v1.18h-6.5zM141 146.38h6.5v1.18h-6.5zM186.8 146.38h6.5v1.18h-6.5zM226.1 146.38h6.5v1.18h-6.5zM284.9 146.38h6.5v1.18h-6.5zM324.1 146.38h6.5v1.18h-6.5zM369.9 146.38h6.5v1.18h-6.5zM389.5 146.38h6.5v1.18h-6.5zM409.2 146.38h6.5v1.18h-6.5zM101.8 145.30h13.1v1.08h-13.1zM121.4 145.30h6.5v1.08h-6.5zM245.7 145.30h6.5v1.08h-6.5zM265.3 145.30h6.5v1.08h-6.5zM389.5 145.30h6.5v1.08h-6.5zM402.6 145.30h13.1v1.08h-13.1zM154.1 144.29h6.5v1.01h-6.5zM239.1 144.29h6.5v1.01h-6.5zM271.8 144.29h6.5v1.01h-6.5zM356.8 144.29h6.5v1.01h-6.5zM108.3 143.34h6.5v0.95h-6.5zM186.8 143.34h13.1v0.95h-13.1zM206.4 143.34h13.1v0.95h-13.1zM298 143.34h13.1v0.95h-13.1zM317.6 143.34h13.1v0.95h-13.1zM402.6 143.34h6.5v0.95h-6.5zM108.3 142.44h6.5v0.90h-6.5zM402.6 142.44h6.5v0.90h-6.5zM186.8 141.58h6.5v0.86h-6.5zM324.1 141.58h6.5v0.86h-6.5zM239.1 140.75h6.5v0.82h-6.5zM271.8 140.75h6.5v0.82h-6.5zM108.3 139.96h13.1v0.79h-13.1zM239.1 139.96h6.5v0.79h-6.5zM271.8 139.96h6.5v0.79h-6.5zM396.1 139.96h13.1v0.79h-13.1zM108.3 139.20h6.5v0.76h-6.5zM173.7 139.20h6.5v0.76h-6.5zM337.2 139.20h6.5v0.76h-6.5zM402.6 139.20h6.5v0.76h-6.5zM114.9 138.46h13.1v0.74h-13.1zM206.4 138.46h6.5v0.74h-6.5zM304.5 138.46h6.5v0.74h-6.5zM389.5 138.46h13.1v0.74h-13.1zM114.9 137.74h19.6v0.72h-19.6zM141 137.74h6.5v0.72h-6.5zM369.9 137.74h6.5v0.72h-6.5zM383 137.74h19.6v0.72h-19.6zM114.9 137.05h6.5v0.70h-6.5zM396.1 137.05h6.5v0.70h-6.5zM121.4 136.37h6.5v0.68h-6.5zM389.5 136.37h6.5v0.68h-6.5zM121.4 135.71h6.5v0.66h-6.5zM141 135.71h6.5v0.66h-6.5zM226.1 135.71h6.5v0.66h-6.5zM284.9 135.71h6.5v0.66h-6.5zM369.9 135.71h6.5v0.66h-6.5zM389.5 135.71h6.5v0.66h-6.5zM134.5 134.44h6.5v0.63h-6.5zM376.5 134.44h6.5v0.63h-6.5zM101.8 133.82h6.5v0.62h-6.5zM409.2 133.82h6.5v0.62h-6.5zM193.4 132.63h6.5v0.59h-6.5zM317.6 132.63h6.5v0.59h-6.5zM101.8 132.05h19.6v0.58h-19.6zM219.5 132.05h6.5v0.58h-6.5zM291.4 132.05h6.5v0.58h-6.5zM396.1 132.05h19.6v0.58h-19.6zM180.3 124.85h19.6v7.20h-19.6zM317.6 124.85h19.6v7.20h-19.6zM173.7 339.87h6.5v0.59h-6.5zM337.2 339.87h6.5v0.59h-6.5zM147.6 338.03h6.5v0.63h-6.5zM363.4 338.03h6.5v0.63h-6.5zM141 336.72h6.5v0.66h-6.5zM369.9 336.72h6.5v0.66h-6.5zM121.4 336.05h6.5v0.68h-6.5zM389.5 336.05h6.5v0.68h-6.5zM114.9 335.35h13.1v0.70h-13.1zM160.7 335.35h6.5v0.70h-6.5zM350.3 335.35h6.5v0.70h-6.5zM389.5 335.35h13.1v0.70h-13.1zM114.9 333.88h13.1v0.75h-13.1zM173.7 333.88h6.5v0.75h-6.5zM193.4 333.88h6.5v0.75h-6.5zM317.6 333.88h6.5v0.75h-6.5zM337.2 333.88h6.5v0.75h-6.5zM389.5 333.88h13.1v0.75h-13.1zM108.3 333.11h13.1v0.77h-13.1zM134.5 333.11h6.5v0.77h-6.5zM376.5 333.11h6.5v0.77h-6.5zM396.1 333.11h13.1v0.77h-13.1zM252.2 332.31h13.1v0.80h-13.1zM108.3 331.47h13.1v0.84h-13.1zM396.1 331.47h13.1v0.84h-13.1zM108.3 330.59h6.5v0.88h-6.5zM402.6 330.59h6.5v0.88h-6.5zM101.8 328.68h13.1v0.98h-13.1zM121.4 328.68h6.5v0.98h-6.5zM252.2 328.68h13.1v0.98h-13.1zM389.5 328.68h6.5v0.98h-6.5zM402.6 328.68h13.1v0.98h-13.1zM101.8 327.62h13.1v1.06h-13.1zM121.4 327.62h6.5v1.06h-6.5zM167.2 327.62h6.5v1.06h-6.5zM199.9 327.62h6.5v1.06h-6.5zM252.2 327.62h13.1v1.06h-13.1zM311.1 327.62h6.5v1.06h-6.5zM343.8 327.62h6.5v1.06h-6.5zM389.5 327.62h6.5v1.06h-6.5zM402.6 327.62h13.1v1.06h-13.1zM101.8 325.21h13.1v1.27h-13.1zM121.4 325.21h6.5v1.27h-6.5zM389.5 325.21h6.5v1.27h-6.5zM402.6 325.21h13.1v1.27h-13.1zM101.8 323.76h26.2v1.45h-26.2zM389.5 323.76h26.2v1.45h-26.2zM219.5 319.58h6.5v2.43h-6.5zM291.4 319.58h6.5v2.43h-6.5zM186.8 313.72h6.5v5.87h-6.5zM226.1 313.72h6.5v5.87h-6.5zM284.9 313.72h6.5v5.87h-6.5zM324.1 313.72h6.5v5.87h-6.5zM186.8 311.28h6.5v2.43h-6.5zM226.1 311.28h6.5v2.43h-6.5zM284.9 311.28h6.5v2.43h-6.5zM324.1 311.28h6.5v2.43h-6.5zM219.5 309.54h6.5v1.74h-6.5zM291.4 309.54h6.5v1.74h-6.5zM101.8 308.09h26.2v1.45h-26.2zM389.5 308.09h26.2v1.45h-26.2zM101.8 305.68h6.5v1.15h-6.5zM121.4 305.68h6.5v1.15h-6.5zM141 305.68h6.5v1.15h-6.5zM186.8 305.68h6.5v1.15h-6.5zM226.1 305.68h6.5v1.15h-6.5zM284.9 305.68h6.5v1.15h-6.5zM324.1 305.68h6.5v1.15h-6.5zM369.9 305.68h6.5v1.15h-6.5zM389.5 305.68h6.5v1.15h-6.5zM409.2 305.68h6.5v1.15h-6.5zM101.8 304.62h13.1v1.06h-13.1zM121.4 304.62h6.5v1.06h-6.5zM245.7 304.62h6.5v1.06h-6.5zM265.3 304.62h6.5v1.06h-6.5zM389.5 304.62h6.5v1.06h-6.5zM402.6 304.62h13.1v1.06h-13.1zM154.1 303.64h6.5v0.98h-6.5zM239.1 303.64h6.5v0.98h-6.5zM271.8 303.64h6.5v0.98h-6.5zM356.8 303.64h6.5v0.98h-6.5zM108.3 302.71h6.5v0.93h-6.5zM186.8 302.71h13.1v0.93h-13.1zM206.4 302.71h13.1v0.93h-13.1zM298 302.71h13.1v0.93h-13.1zM317.6 302.71h13.1v0.93h-13.1zM402.6 302.71h6.5v0.93h-6.5zM108.3 301.83h6.5v0.88h-6.5zM402.6 301.83h6.5v0.88h-6.5zM186.8 300.99h6.5v0.84h-6.5zM324.1 300.99h6.5v0.84h-6.5zM239.1 300.19h6.5v0.80h-6.5zM271.8 300.19h6.5v0.80h-6.5zM108.3 299.42h13.1v0.77h-13.1zM239.1 299.42h6.5v0.77h-6.5zM271.8 299.42h6.5v0.77h-6.5zM396.1 299.42h13.1v0.77h-13.1zM108.3 298.67h6.5v0.75h-6.5zM173.7 298.67h6.5v0.75h-6.5zM337.2 298.67h6.5v0.75h-6.5zM402.6 298.67h6.5v0.75h-6.5zM114.9 297.95h13.1v0.72h-13.1zM206.4 297.95h6.5v0.72h-6.5zM304.5 297.95h6.5v0.72h-6.5zM389.5 297.95h13.1v0.72h-13.1zM114.9 297.25h19.6v0.70h-19.6zM141 297.25h6.5v0.70h-6.5zM369.9 297.25h6.5v0.70h-6.5zM383 297.25h19.6v0.70h-19.6zM114.9 296.58h6.5v0.68h-6.5zM396.1 296.58h6.5v0.68h-6.5zM121.4 295.92h6.5v0.66h-6.5zM389.5 295.92h6.5v0.66h-6.5zM121.4 295.27h6.5v0.64h-6.5zM141 295.27h6.5v0.64h-6.5zM226.1 295.27h6.5v0.64h-6.5zM284.9 295.27h6.5v0.64h-6.5zM369.9 295.27h6.5v0.64h-6.5zM389.5 295.27h6.5v0.64h-6.5zM134.5 294.03h6.5v0.61h-6.5zM376.5 294.03h6.5v0.61h-6.5zM101.8 293.43h6.5v0.60h-6.5zM409.2 293.43h6.5v0.60h-6.5zM193.4 292.27h6.5v0.58h-6.5zM317.6 292.27h6.5v0.58h-6.5zM101.8 291.70h19.6v0.57h-19.6zM219.5 291.70h6.5v0.57h-6.5zM291.4 291.70h6.5v0.57h-6.5zM396.1 291.70h19.6v0.57h-19.6zM180.3 284.50h19.6v7.20h-19.6zM317.6 284.50h19.6v7.20h-19.6zM180.3 224.60h19.6v7.20h-19.6zM317.6 224.60h19.6v7.20h-19.6zM167.2 232.80h6.5v1.00h-6.5zM239.1 232.80h39.2v1.00h-39.2zM343.8 232.80h6.5v1.00h-6.5zM186.8 234.80h13.1v1.00h-13.1zM206.4 234.80h13.1v1.00h-13.1zM298 234.80h13.1v1.00h-13.1zM317.6 234.80h13.1v1.00h-13.1zM128 236.80h6.5v1.00h-6.5zM383 236.80h6.5v1.00h-6.5zM141 238.80h6.5v1.00h-6.5zM160.7 238.80h6.5v1.00h-6.5zM350.3 238.80h6.5v1.00h-6.5zM369.9 238.80h6.5v1.00h-6.5z"/>
<path fill="#efeffd" d="M186.8 181.43h13.1v0.60h-13.1zM317.6 181.43h13.1v0.60h-13.1zM173.7 180.81h6.5v0.62h-6.5zM337.2 180.81h6.5v0.62h-6.5zM180.3 178.88h13.1v0.66h-13.1zM324.1 178.88h13.1v0.66h-13.1zM219.5 178.20h6.5v0.68h-6.5zM291.4 178.20h6.5v0.68h-6.5zM167.2 177.51h6.5v0.70h-6.5zM232.6 177.51h6.5v0.70h-6.5zM278.4 177.51h6.5v0.70h-6.5zM343.8 177.51h6.5v0.70h-6.5zM213 176.05h6.5v0.74h-6.5zM239.1 176.05h6.5v0.74h-6.5zM271.8 176.05h6.5v0.74h-6.5zM298 176.05h6.5v0.74h-6.5zM252.2 175.29h13.1v0.76h-13.1zM167.2 174.50h6.5v0.79h-6.5zM219.5 174.50h6.5v0.79h-6.5zM291.4 174.50h6.5v0.79h-6.5zM343.8 174.50h6.5v0.79h-6.5zM95.3 172.81h6.5v0.86h-6.5zM415.7 172.81h6.5v0.86h-6.5zM95.3 171.91h6.5v0.90h-6.5zM252.2 171.91h13.1v0.90h-13.1zM415.7 171.91h6.5v0.90h-6.5zM95.3 170.96h6.5v0.95h-6.5zM226.1 170.96h6.5v0.95h-6.5zM284.9 170.96h6.5v0.95h-6.5zM415.7 170.96h6.5v0.95h-6.5zM193.4 168.87h6.5v1.08h-6.5zM226.1 168.87h6.5v1.08h-6.5zM245.7 168.87h6.5v1.08h-6.5zM265.3 168.87h6.5v1.08h-6.5zM284.9 168.87h6.5v1.08h-6.5zM317.6 168.87h6.5v1.08h-6.5zM95.3 167.70h6.5v1.18h-6.5zM154.1 167.70h6.5v1.18h-6.5zM356.8 167.70h6.5v1.18h-6.5zM415.7 167.70h6.5v1.18h-6.5zM95.3 166.40h6.5v1.30h-6.5zM199.9 166.40h6.5v1.30h-6.5zM311.1 166.40h6.5v1.30h-6.5zM415.7 166.40h6.5v1.30h-6.5zM154.1 164.91h19.6v1.48h-19.6zM199.9 164.91h6.5v1.48h-6.5zM311.1 164.91h6.5v1.48h-6.5zM343.8 164.91h19.6v1.48h-19.6zM128 163.13h6.5v1.79h-6.5zM180.3 163.13h6.5v1.79h-6.5zM330.7 163.13h6.5v1.79h-6.5zM383 163.13h6.5v1.79h-6.5zM114.9 160.63h6.5v2.50h-6.5zM186.8 160.63h6.5v2.50h-6.5zM213 160.63h6.5v2.50h-6.5zM298 160.63h6.5v2.50h-6.5zM324.1 160.63h6.5v2.50h-6.5zM396.1 160.63h6.5v2.50h-6.5zM141 154.62h6.5v6.02h-6.5zM167.2 154.62h6.5v6.02h-6.5zM343.8 154.62h6.5v6.02h-6.5zM369.9 154.62h6.5v6.02h-6.5zM141 152.12h6.5v2.50h-6.5zM167.2 152.12h6.5v2.50h-6.5zM343.8 152.12h6.5v2.50h-6.5zM369.9 152.12h6.5v2.50h-6.5zM114.9 150.34h6.5v1.79h-6.5zM186.8 150.34h6.5v1.79h-6.5zM213 150.34h6.5v1.79h-6.5zM298 150.34h6.5v1.79h-6.5zM324.1 150.34h6.5v1.79h-6.5zM396.1 150.34h6.5v1.79h-6.5zM128 148.85h6.5v1.48h-6.5zM180.3 148.85h13.1v1.48h-13.1zM324.1 148.85h13.1v1.48h-13.1zM383 148.85h6.5v1.48h-6.5zM154.1 147.55h6.5v1.30h-6.5zM206.4 147.55h6.5v1.30h-6.5zM252.2 147.55h13.1v1.30h-13.1zM304.5 147.55h6.5v1.30h-6.5zM356.8 147.55h6.5v1.30h-6.5zM95.3 146.38h6.5v1.18h-6.5zM415.7 146.38h6.5v1.18h-6.5zM173.7 145.30h6.5v1.08h-6.5zM337.2 145.30h6.5v1.08h-6.5zM121.4 144.29h6.5v1.01h-6.5zM213 144.29h6.5v1.01h-6.5zM298 144.29h6.5v1.01h-6.5zM389.5 144.29h6.5v1.01h-6.5zM95.3 143.34h6.5v0.95h-6.5zM415.7 143.34h6.5v0.95h-6.5zM95.3 142.44h6.5v0.90h-6.5zM147.6 142.44h6.5v0.90h-6.5zM363.4 142.44h6.5v0.90h-6.5zM415.7 142.44h6.5v0.90h-6.5zM173.7 141.58h6.5v0.86h-6.5zM337.2 141.58h6.5v0.86h-6.5zM95.3 140.75h6.5v0.82h-6.5zM180.3 140.75h6.5v0.82h-6.5zM330.7 140.75h6.5v0.82h-6.5zM415.7 140.75h6.5v0.82h-6.5zM180.3 139.96h6.5v0.79h-6.5zM232.6 139.96h6.5v0.79h-6.5zM278.4 139.96h6.5v0.79h-6.5zM330.7 139.96h6.5v0.79h-6.5zM245.7 139.20h6.5v0.76h-6.5zM265.3 139.20h6.5v0.76h-6.5zM252.2 138.46h13.1v0.74h-13.1zM147.6 137.74h6.5v0.72h-6.5zM363.4 137.74h6.5v0.72h-6.5zM160.7 137.05h6.5v0.70h-6.5zM350.3 137.05h6.5v0.70h-6.5zM128 135.71h6.5v0.66h-6.5zM383 135.71h6.5v0.66h-6.5zM147.6 134.44h6.5v0.63h-6.5zM193.4 134.44h6.5v0.63h-6.5zM317.6 134.44h6.5v0.63h-6.5zM363.4 134.44h6.5v0.63h-6.5zM213 133.82h6.5v0.62h-6.5zM298 133.82h6.5v0.62h-6.5zM213 132.63h6.5v0.59h-6.5zM298 132.63h6.5v0.59h-6.5zM239.1 132.05h6.5v0.58h-6.5zM271.8 132.05h6.5v0.58h-6.5zM186.8 339.87h13.1v0.59h-13.1zM317.6 339.87h13.1v0.59h-13.1zM173.7 339.27h6.5v0.60h-6.5zM337.2 339.27h6.5v0.60h-6.5zM180.3 337.38h13.1v0.64h-13.1zM324.1 337.38h13.1v0.64h-13.1zM219.5 336.72h6.5v0.66h-6.5zM291.4 336.72h6.5v0.66h-6.5zM167.2 336.05h6.5v0.68h-6.5zM232.6 336.05h6.5v0.68h-6.5zM278.4 336.05h6.5v0.68h-6.5zM343.8 336.05h6.5v0.68h-6.5zM213 334.63h6.5v0.72h-6.5zM239.1 334.63h6.5v0.72h-6.5zM271.8 334.63h6.5v0.72h-6.5zM298 334.63h6.5v0.72h-6.5zM252.2 333.88h13.1v0.75h-13.1zM167.2 333.11h6.5v0.77h-6.5zM219.5 333.11h6.5v0.77h-6.5zM291.4 333.11h6.5v0.77h-6.5zM343.8 333.11h6.5v0.77h-6.5zM95.3 331.47h6.5v0.84h-6.5zM415.7 331.47h6.5v0.84h-6.5zM95.3 330.59h6.5v0.88h-6.5zM252.2 330.59h13.1v0.88h-13.1zM415.7 330.59h6.5v0.88h-6.5zM95.3 329.66h6.5v0.93h-6.5zM226.1 329.66h6.5v0.93h-6.5zM284.9 329.66h6.5v0.93h-6.5zM415.7 329.66h6.5v0.93h-6.5zM193.4 327.62h6.5v1.06h-6.5zM226.1 327.62h6.5v1.06h-6.5zM245.7 327.62h6.5v1.06h-6.5zM265.3 327.62h6.5v1.06h-6.5zM284.9 327.62h6.5v1.06h-6.5zM317.6 327.62h6.5v1.06h-6.5zM95.3 326.47h6.5v1.15h-6.5zM154.1 326.47h6.5v1.15h-6.5zM356.8 326.47h6.5v1.15h-6.5zM415.7 326.47h6.5v1.15h-6.5zM95.3 325.21h6.5v1.27h-6.5zM199.9 325.21h6.5v1.27h-6.5zM311.1 325.21h6.5v1.27h-6.5zM415.7 325.21h6.5v1.27h-6.5zM154.1 323.76h19.6v1.45h-19.6zM199.9 323.76h6.5v1.45h-6.5zM311.1 323.76h6.5v1.45h-6.5zM343.8 323.76h19.6v1.45h-19.6zM128 322.02h6.5v1.74h-6.5zM180.3 322.02h6.5v1.74h-6.5zM330.7 322.02h6.5v1.74h-6.5zM383 322.02h6.5v1.74h-6.5zM114.9 319.58h6.5v2.43h-6.5zM186.8 319.58h6.5v2.43h-6.5zM213 319.58h6.5v2.43h-6.5zM298 319.58h6.5v2.43h-6.5zM324.1 319.58h6.5v2.43h-6.5zM396.1 319.58h6.5v2.43h-6.5zM141 313.72h6.5v5.87h-6.5zM167.2 313.72h6.5v5.87h-6.5zM343.8 313.72h6.5v5.87h-6.5zM369.9 313.72h6.5v5.87h-6.5zM141 311.28h6.5v2.43h-6.5zM167.2 311.28h6.5v2.43h-6.5zM343.8 311.28h6.5v2.43h-6.5zM369.9 311.28h6.5v2.43h-6.5zM114.9 309.54h6.5v1.74h-6.5zM186.8 309.54h6.5v1.74h-6.5zM213 309.54h6.5v1.74h-6.5zM298 309.54h6.5v1.74h-6.5zM324.1 309.54h6.5v1.74h-6.5zM396.1 309.54h6.5v1.74h-6.5zM128 308.09h6.5v1.45h-6.5zM180.3 308.09h13.1v1.45h-13.1zM324.1 308.09h13.1v1.45h-13.1zM383 308.09h6.5v1.45h-6.5zM154.1 306.83h6.5v1.27h-6.5zM206.4 306.83h6.5v1.27h-6.5zM252.2 306.83h13.1v1.27h-13.1zM304.5 306.83h6.5v1.27h-6.5zM356.8 306.83h6.5v1.27h-6.5zM95.3 305.68h6.5v1.15h-6.5zM415.7 305.68h6.5v1.15h-6.5zM173.7 304.62h6.5v1.06h-6.5zM337.2 304.62h6.5v1.06h-6.5zM121.4 303.64h6.5v0.98h-6.5zM213 303.64h6.5v0.98h-6.5zM298 303.64h6.5v0.98h-6.5zM389.5 303.64h6.5v0.98h-6.5zM95.3 302.71h6.5v0.93h-6.5zM415.7 302.71h6.5v0.93h-6.5zM95.3 301.83h6.5v0.88h-6.5zM147.6 301.83h6.5v0.88h-6.5zM363.4 301.83h6.5v0.88h-6.5zM415.7 301.83h6.5v0.88h-6.5zM173.7 300.99h6.5v0.84h-6.5zM337.2 300.99h6.5v0.84h-6.5zM95.3 300.19h6.5v0.80h-6.5zM180.3 300.19h6.5v0.80h-6.5zM330.7 300.19h6.5v0.80h-6.5zM415.7 300.19h6.5v0.80h-6.5zM180.3 299.42h6.5v0.77h-6.5zM232.6 299.42h6.5v0.77h-6.5zM278.4 299.42h6.5v0.77h-6.5zM330.7 299.42h6.5v0.77h-6.5zM245.7 298.67h6.5v0.75h-6.5zM265.3 298.67h6.5v0.75h-6.5zM252.2 297.95h13.1v0.72h-13.1zM147.6 297.25h6.5v0.70h-6.5zM363.4 297.25h6.5v0.70h-6.5zM160.7 296.58h6.5v0.68h-6.5zM350.3 296.58h6.5v0.68h-6.5zM128 295.27h6.5v0.64h-6.5zM383 295.27h6.5v0.64h-6.5zM147.6 294.03h6.5v0.61h-6.5zM193.4 294.03h6.5v0.61h-6.5zM317.6 294.03h6.5v0.61h-6.5zM363.4 294.03h6.5v0.61h-6.5zM213 293.43h6.5v0.60h-6.5zM298 293.43h6.5v0.60h-6.5zM213 292.27h6.5v0.58h-6.5zM298 292.27h6.5v0.58h-6.5zM239.1 291.70h6.5v0.57h-6.5zM271.8 291.70h6.5v0.57h-6.5zM108.3 77.60h6.5v7.20h-6.5zM402.6 77.60h6.5v7.20h-6.5zM108.3 214.40h6.5v7.20h-6.5zM402.6 214.40h6.5v7.20h-6.5zM108.3 245.40h6.5v7.20h-6.5zM402.6 245.40h6.5v7.20h-6.5z"/>
<path fill="#dfdffa" d="M206.4 181.43h6.5v0.60h-6.5zM304.5 181.43h6.5v0.60h-6.5zM232.6 180.18h6.5v0.63h-6.5zM278.4 180.18h6.5v0.63h-6.5zM134.5 179.54h13.1v0.64h-13.1zM369.9 179.54h13.1v0.64h-13.1zM226.1 178.88h6.5v0.66h-6.5zM284.9 178.88h6.5v0.66h-6.5zM239.1 174.50h13.1v0.79h-13.1zM265.3 174.50h13.1v0.79h-13.1zM134.5 172.81h6.5v0.86h-6.5zM219.5 172.81h6.5v0.86h-6.5zM291.4 172.81h6.5v0.86h-6.5zM376.5 172.81h6.5v0.86h-6.5zM232.6 171.91h6.5v0.90h-6.5zM278.4 171.91h6.5v0.90h-6.5zM219.5 169.95h6.5v1.01h-6.5zM291.4 169.95h6.5v1.01h-6.5zM154.1 168.87h6.5v1.08h-6.5zM180.3 168.87h6.5v1.08h-6.5zM330.7 168.87h6.5v1.08h-6.5zM356.8 168.87h6.5v1.08h-6.5zM141 167.70h6.5v1.18h-6.5zM369.9 167.70h6.5v1.18h-6.5zM232.6 164.91h6.5v1.48h-6.5zM278.4 164.91h6.5v1.48h-6.5zM141 160.63h6.5v2.50h-6.5zM226.1 160.63h6.5v2.50h-6.5zM284.9 160.63h6.5v2.50h-6.5zM369.9 160.63h6.5v2.50h-6.5zM154.1 154.62h6.5v6.02h-6.5zM180.3 154.62h6.5v6.02h-6.5zM245.7 154.62h6.5v6.02h-6.5zM265.3 154.62h6.5v6.02h-6.5zM330.7 154.62h6.5v6.02h-6.5zM356.8 154.62h6.5v6.02h-6.5zM154.1 152.12h6.5v2.50h-6.5zM180.3 152.12h6.5v2.50h-6.5zM245.7 152.12h6.5v2.50h-6.5zM265.3 152.12h6.5v2.50h-6.5zM330.7 152.12h6.5v2.50h-6.5zM356.8 152.12h6.5v2.50h-6.5zM141 150.34h6.5v1.79h-6.5zM226.1 150.34h6.5v1.79h-6.5zM284.9 150.34h6.5v1.79h-6.5zM369.9 150.34h6.5v1.79h-6.5zM154.1 148.85h6.5v1.48h-6.5zM356.8 148.85h6.5v1.48h-6.5zM134.5 146.38h6.5v1.18h-6.5zM219.5 146.38h6.5v1.18h-6.5zM291.4 146.38h6.5v1.18h-6.5zM376.5 146.38h6.5v1.18h-6.5zM134.5 145.30h6.5v1.08h-6.5zM193.4 145.30h6.5v1.08h-6.5zM226.1 145.30h6.5v1.08h-6.5zM252.2 145.30h13.1v1.08h-13.1zM284.9 145.30h6.5v1.08h-6.5zM317.6 145.30h6.5v1.08h-6.5zM376.5 145.30h6.5v1.08h-6.5zM160.7 144.29h6.5v1.01h-6.5zM350.3 144.29h6.5v1.01h-6.5zM167.2 142.44h6.5v0.90h-6.5zM343.8 142.44h6.5v0.90h-6.5zM226.1 140.75h6.5v0.82h-6.5zM284.9 140.75h6.5v0.82h-6.5zM213 139.96h6.5v0.79h-6.5zM298 139.96h6.5v0.79h-6.5zM160.7 139.20h6.5v0.76h-6.5zM186.8 139.20h6.5v0.76h-6.5zM324.1 139.20h6.5v0.76h-6.5zM350.3 139.20h6.5v0.76h-6.5zM167.2 138.46h6.5v0.74h-6.5zM343.8 138.46h6.5v0.74h-6.5zM154.1 137.74h6.5v0.72h-6.5zM356.8 137.74h6.5v0.72h-6.5zM252.2 137.05h13.1v0.70h-13.1zM167.2 135.71h6.5v0.66h-6.5zM343.8 135.71h6.5v0.66h-6.5zM193.4 135.07h6.5v0.64h-6.5zM317.6 135.07h6.5v0.64h-6.5zM141 134.44h6.5v0.63h-6.5zM369.9 134.44h6.5v0.63h-6.5zM101.8 133.22h6.5v0.60h-6.5zM239.1 133.22h6.5v0.60h-6.5zM271.8 133.22h6.5v0.60h-6.5zM409.2 133.22h6.5v0.60h-6.5zM206.4 339.87h6.5v0.59h-6.5zM304.5 339.87h6.5v0.59h-6.5zM232.6 338.66h6.5v0.61h-6.5zM278.4 338.66h6.5v0.61h-6.5zM134.5 338.03h13.1v0.63h-13.1zM369.9 338.03h13.1v0.63h-13.1zM226.1 337.38h6.5v0.64h-6.5zM284.9 337.38h6.5v0.64h-6.5zM239.1 333.11h13.1v0.77h-13.1zM265.3 333.11h13.1v0.77h-13.1zM134.5 331.47h6.5v0.84h-6.5zM219.5 331.47h6.5v0.84h-6.5zM291.4 331.47h6.5v0.84h-6.5zM376.5 331.47h6.5v0.84h-6.5zM232.6 330.59h6.5v0.88h-6.5zM278.4 330.59h6.5v0.88h-6.5zM219.5 328.68h6.5v0.98h-6.5zM291.4 328.68h6.5v0.98h-6.5zM154.1 327.62h6.5v1.06h-6.5zM180.3 327.62h6.5v1.06h-6.5zM330.7 327.62h6.5v1.06h-6.5zM356.8 327.62h6.5v1.06h-6.5zM141 326.47h6.5v1.15h-6.5zM369.9 326.47h6.5v1.15h-6.5zM232.6 323.76h6.5v1.45h-6.5zM278.4 323.76h6.5v1.45h-6.5zM141 319.58h6.5v2.43h-6.5zM226.1 319.58h6.5v2.43h-6.5zM284.9 319.58h6.5v2.43h-6.5zM369.9 319.58h6.5v2.43h-6.5zM154.1 313.72h6.5v5.87h-6.5zM180.3 313.72h6.5v5.87h-6.5zM245.7 313.72h6.5v5.87h-6.5zM265.3 313.72h6.5v5.87h-6.5zM330.7 313.72h6.5v5.87h-6.5zM356.8 313.72h6.5v5.87h-6.5zM154.1 311.28h6.5v2.43h-6.5zM180.3 311.28h6.5v2.43h-6.5zM245.7 311.28h6.5v2.43h-6.5zM265.3 311.28h6.5v2.43h-6.5zM330.7 311.28h6.5v2.43h-6.5zM356.8 311.28h6.5v2.43h-6.5zM141 309.54h6.5v1.74h-6.5zM226.1 309.54h6.5v1.74h-6.5zM284.9 309.54h6.5v1.74h-6.5zM369.9 309.54h6.5v1.74h-6.5zM154.1 308.09h6.5v1.45h-6.5zM356.8 308.09h6.5v1.45h-6.5zM134.5 305.68h6.5v1.15h-6.5zM219.5 305.68h6.5v1.15h-6.5zM291.4 305.68h6.5v1.15h-6.5zM376.5 305.68h6.5v1.15h-6.5zM134.5 304.62h6.5v1.06h-6.5zM193.4 304.62h6.5v1.06h-6.5zM226.1 304.62h6.5v1.06h-6.5zM252.2 304.62h13.1v1.06h-13.1zM284.9 304.62h6.5v1.06h-6.5zM317.6 304.62h6.5v1.06h-6.5zM376.5 304.62h6.5v1.06h-6.5zM160.7 303.64h6.5v0.98h-6.5zM350.3 303.64h6.5v0.98h-6.5zM167.2 301.83h6.5v0.88h-6.5zM343.8 301.83h6.5v0.88h-6.5zM226.1 300.19h6.5v0.80h-6.5zM284.9 300.19h6.5v0.80h-6.5zM213 299.42h6.5v0.77h-6.5zM298 299.42h6.5v0.77h-6.5zM160.7 298.67h6.5v0.75h-6.5zM186.8 298.67h6.5v0.75h-6.5zM324.1 298.67h6.5v0.75h-6.5zM350.3 298.67h6.5v0.75h-6.5zM167.2 297.95h6.5v0.72h-6.5zM343.8 297.95h6.5v0.72h-6.5zM154.1 297.25h6.5v0.70h-6.5zM356.8 297.25h6.5v0.70h-6.5zM252.2 296.58h13.1v0.68h-13.1zM167.2 295.27h6.5v0.64h-6.5zM343.8 295.27h6.5v0.64h-6.5zM193.4 294.64h6.5v0.63h-6.5zM317.6 294.64h6.5v0.63h-6.5zM141 294.03h6.5v0.61h-6.5zM369.9 294.03h6.5v0.61h-6.5zM101.8 292.84h6.5v0.59h-6.5zM239.1 292.84h6.5v0.59h-6.5zM271.8 292.84h6.5v0.59h-6.5zM409.2 292.84h6.5v0.59h-6.5zM199.9 234.80h6.5v1.00h-6.5zM311.1 234.80h6.5v1.00h-6.5z"/>
<path fill="#8e8eef" d="M252.2 181.43h13.1v0.60h-13.1zM134.5 175.29h6.5v0.76h-6.5zM213 175.29h6.5v0.76h-6.5zM298 175.29h6.5v0.76h-6.5zM376.5 175.29h6.5v0.76h-6.5zM167.2 172.81h6.5v0.86h-6.5zM343.8 172.81h6.5v0.86h-6.5zM186.8 138.46h6.5v0.74h-6.5zM324.1 138.46h6.5v0.74h-6.5zM121.4 133.82h6.5v0.62h-6.5zM389.5 133.82h6.5v0.62h-6.5zM141 132.63h6.5v0.59h-6.5zM160.7 132.63h6.5v0.59h-6.5zM350.3 132.63h6.5v0.59h-6.5zM369.9 132.63h6.5v0.59h-6.5zM252.2 339.87h13.1v0.59h-13.1zM134.5 333.88h6.5v0.75h-6.5zM213 333.88h6.5v0.75h-6.5zM298 333.88h6.5v0.75h-6.5zM376.5 333.88h6.5v0.75h-6.5zM167.2 331.47h6.5v0.84h-6.5zM343.8 331.47h6.5v0.84h-6.5zM186.8 297.95h6.5v0.72h-6.5zM324.1 297.95h6.5v0.72h-6.5zM121.4 293.43h6.5v0.60h-6.5zM389.5 293.43h6.5v0.60h-6.5zM141 292.27h6.5v0.58h-6.5zM160.7 292.27h6.5v0.58h-6.5zM350.3 292.27h6.5v0.58h-6.5zM369.9 292.27h6.5v0.58h-6.5zM232.6 231.80h6.5v1.00h-6.5zM278.4 231.80h6.5v1.00h-6.5zM114.9 237.80h6.5v1.00h-6.5zM128 237.80h6.5v1.00h-6.5zM180.3 237.80h6.5v1.00h-6.5zM245.7 237.80h6.5v1.00h-6.5zM265.3 237.80h6.5v1.00h-6.5zM330.7 237.80h6.5v1.00h-6.5zM383 237.80h6.5v1.00h-6.5zM396.1 237.80h6.5v1.00h-6.5z"/>
<path fill="#6c6cea" d="M114.9 179.54h6.5v0.64h-6.5zM396.1 179.54h6.5v0.64h-6.5zM114.9 338.03h6.5v0.63h-6.5zM396.1 338.03h6.5v0.63h-6.5z"/>
<path fill="#8686ed" d="M121.4 179.54h6.5v0.64h-6.5zM389.5 179.54h6.5v0.64h-6.5zM108.3 175.29h6.5v0.76h-6.5zM402.6 175.29h6.5v0.76h-6.5zM213 140.75h6.5v0.82h-6.5zM298 140.75h6.5v0.82h-6.5zM121.4 338.03h6.5v0.63h-6.5zM389.5 338.03h6.5v0.63h-6.5zM108.3 333.88h6.5v0.75h-6.5zM402.6 333.88h6.5v0.75h-6.5zM213 300.19h6.5v0.80h-6.5zM298 300.19h6.5v0.80h-6.5zM252.2 231.80h13.1v1.00h-13.1z"/>
<path fill="#8a8aee" d="M226.1 179.54h6.5v0.64h-6.5zM284.9 179.54h6.5v0.64h-6.5zM180.3 177.51h6.5v0.70h-6.5zM219.5 177.51h6.5v0.70h-6.5zM291.4 177.51h6.5v0.70h-6.5zM330.7 177.51h6.5v0.70h-6.5zM121.4 171.91h6.5v0.90h-6.5zM389.5 171.91h6.5v0.90h-6.5zM252.2 140.75h13.1v0.82h-13.1zM108.3 134.44h13.1v0.63h-13.1zM173.7 134.44h6.5v0.63h-6.5zM337.2 134.44h6.5v0.63h-6.5zM396.1 134.44h13.1v0.63h-13.1zM226.1 338.03h6.5v0.63h-6.5zM284.9 338.03h6.5v0.63h-6.5zM180.3 336.05h6.5v0.68h-6.5zM219.5 336.05h6.5v0.68h-6.5zM291.4 336.05h6.5v0.68h-6.5zM330.7 336.05h6.5v0.68h-6.5zM121.4 330.59h6.5v0.88h-6.5zM389.5 330.59h6.5v0.88h-6.5zM252.2 300.19h13.1v0.80h-13.1zM108.3 294.03h13.1v0.61h-13.1zM173.7 294.03h6.5v0.61h-6.5zM337.2 294.03h6.5v0.61h-6.5zM396.1 294.03h13.1v0.61h-13.1zM239.1 231.80h13.1v1.00h-13.1zM265.3 231.80h13.1v1.00h-13.1zM160.7 233.80h6.5v1.00h-6.5zM213 233.80h6.5v1.00h-6.5zM298 233.80h6.5v1.00h-6.5zM350.3 233.80h6.5v1.00h-6.5zM167.2 235.80h6.5v1.00h-6.5zM226.1 235.80h6.5v1.00h-6.5zM284.9 235.80h6.5v1.00h-6.5zM343.8 235.80h6.5v1.00h-6.5z"/>
<path fill="#8282ed" d="M232.6 179.54h6.5v0.64h-6.5zM278.4 179.54h6.5v0.64h-6.5zM239.1 175.29h6.5v0.76h-6.5zM271.8 175.29h6.5v0.76h-6.5zM101.8 160.63h6.5v2.50h-6.5zM409.2 160.63h6.5v2.50h-6.5zM101.8 154.62h6.5v6.02h-6.5zM409.2 154.62h6.5v6.02h-6.5zM101.8 152.12h6.5v2.50h-6.5zM409.2 152.12h6.5v2.50h-6.5zM101.8 150.34h6.5v1.79h-6.5zM409.2 150.34h6.5v1.79h-6.5zM167.2 140.75h6.5v0.82h-6.5zM343.8 140.75h6.5v0.82h-6.5zM101.8 138.46h6.5v0.74h-6.5zM409.2 138.46h6.5v0.74h-6.5zM141 136.37h13.1v0.68h-13.1zM252.2 136.37h13.1v0.68h-13.1zM363.4 136.37h13.1v0.68h-13.1zM134.5 132.63h6.5v0.59h-6.5zM376.5 132.63h6.5v0.59h-6.5zM232.6 338.03h6.5v0.63h-6.5zM278.4 338.03h6.5v0.63h-6.5zM239.1 333.88h6.5v0.75h-6.5zM271.8 333.88h6.5v0.75h-6.5zM101.8 319.58h6.5v2.43h-6.5zM409.2 319.58h6.5v2.43h-6.5zM101.8 313.72h6.5v5.87h-6.5zM409.2 313.72h6.5v5.87h-6.5zM101.8 311.28h6.5v2.43h-6.5zM409.2 311.28h6.5v2.43h-6.5zM101.8 309.54h6.5v1.74h-6.5zM409.2 309.54h6.5v1.74h-6.5zM167.2 300.19h6.5v0.80h-6.5zM343.8 300.19h6.5v0.80h-6.5zM101.8 297.95h6.5v0.72h-6.5zM409.2 297.95h6.5v0.72h-6.5zM141 295.92h13.1v0.66h-13.1zM252.2 295.92h13.1v0.66h-13.1zM363.4 295.92h13.1v0.66h-13.1zM134.5 292.27h6.5v0.58h-6.5zM376.5 292.27h6.5v0.58h-6.5z"/>
<path fill="#bbbbf5" d="M167.2 178.88h6.5v0.66h-6.5zM343.8 178.88h6.5v0.66h-6.5zM121.4 178.20h6.5v0.68h-6.5zM389.5 178.20h6.5v0.68h-6.5zM219.5 176.05h6.5v0.74h-6.5zM252.2 176.05h13.1v0.74h-13.1zM291.4 176.05h6.5v0.74h-6.5zM167.2 175.29h6.5v0.76h-6.5zM343.8 175.29h6.5v0.76h-6.5zM121.4 174.50h6.5v0.79h-6.5zM206.4 174.50h6.5v0.79h-6.5zM226.1 174.50h6.5v0.79h-6.5zM284.9 174.50h6.5v0.79h-6.5zM304.5 174.50h6.5v0.79h-6.5zM389.5 174.50h6.5v0.79h-6.5zM128 173.67h6.5v0.82h-6.5zM383 173.67h6.5v0.82h-6.5zM160.7 172.81h6.5v0.86h-6.5zM350.3 172.81h6.5v0.86h-6.5zM180.3 171.91h6.5v0.90h-6.5zM330.7 171.91h6.5v0.90h-6.5zM141 170.96h6.5v0.95h-6.5zM160.7 170.96h6.5v0.95h-6.5zM350.3 170.96h6.5v0.95h-6.5zM369.9 170.96h6.5v0.95h-6.5zM134.5 169.95h6.5v1.01h-6.5zM213 169.95h6.5v1.01h-6.5zM298 169.95h6.5v1.01h-6.5zM376.5 169.95h6.5v1.01h-6.5zM114.9 166.40h6.5v1.30h-6.5zM239.1 166.40h6.5v1.30h-6.5zM271.8 166.40h6.5v1.30h-6.5zM396.1 166.40h6.5v1.30h-6.5zM180.3 160.63h6.5v2.50h-6.5zM206.4 160.63h6.5v2.50h-6.5zM304.5 160.63h6.5v2.50h-6.5zM330.7 160.63h6.5v2.50h-6.5zM180.3 150.34h6.5v1.79h-6.5zM206.4 150.34h6.5v1.79h-6.5zM304.5 150.34h6.5v1.79h-6.5zM330.7 150.34h6.5v1.79h-6.5zM160.7 146.38h6.5v1.18h-6.5zM350.3 146.38h6.5v1.18h-6.5zM114.9 145.30h6.5v1.08h-6.5zM180.3 145.30h6.5v1.08h-6.5zM330.7 145.30h6.5v1.08h-6.5zM396.1 145.30h6.5v1.08h-6.5zM134.5 143.34h6.5v0.95h-6.5zM154.1 143.34h6.5v0.95h-6.5zM245.7 143.34h6.5v0.95h-6.5zM265.3 143.34h6.5v0.95h-6.5zM356.8 143.34h6.5v0.95h-6.5zM376.5 143.34h6.5v0.95h-6.5zM121.4 142.44h6.5v0.90h-6.5zM389.5 142.44h6.5v0.90h-6.5zM101.8 141.58h6.5v0.86h-6.5zM409.2 141.58h6.5v0.86h-6.5zM167.2 139.96h6.5v0.79h-6.5zM343.8 139.96h6.5v0.79h-6.5zM134.5 139.20h6.5v0.76h-6.5zM376.5 139.20h6.5v0.76h-6.5zM180.3 138.46h6.5v0.74h-6.5zM219.5 138.46h6.5v0.74h-6.5zM291.4 138.46h6.5v0.74h-6.5zM330.7 138.46h6.5v0.74h-6.5zM167.2 137.05h6.5v0.70h-6.5zM245.7 137.05h6.5v0.70h-6.5zM265.3 137.05h6.5v0.70h-6.5zM343.8 137.05h6.5v0.70h-6.5zM134.5 136.37h6.5v0.68h-6.5zM154.1 136.37h6.5v0.68h-6.5zM245.7 136.37h6.5v0.68h-6.5zM265.3 136.37h6.5v0.68h-6.5zM356.8 136.37h6.5v0.68h-6.5zM376.5 136.37h6.5v0.68h-6.5zM239.1 135.71h6.5v0.66h-6.5zM271.8 135.71h6.5v0.66h-6.5zM173.7 135.07h6.5v0.64h-6.5zM219.5 135.07h6.5v0.64h-6.5zM291.4 135.07h6.5v0.64h-6.5zM337.2 135.07h6.5v0.64h-6.5zM128 134.44h6.5v0.63h-6.5zM160.7 134.44h6.5v0.63h-6.5zM350.3 134.44h6.5v0.63h-6.5zM383 134.44h6.5v0.63h-6.5zM108.3 133.82h6.5v0.62h-6.5zM141 133.82h6.5v0.62h-6.5zM239.1 133.82h6.5v0.62h-6.5zM271.8 133.82h6.5v0.62h-6.5zM369.9 133.82h6.5v0.62h-6.5zM402.6 133.82h6.5v0.62h-6.5zM134.5 132.05h6.5v0.58h-6.5zM206.4 132.05h6.5v0.58h-6.5zM304.5 132.05h6.5v0.58h-6.5zM376.5 132.05h6.5v0.58h-6.5zM199.9 124.85h19.6v7.20h-19.6zM298 124.85h19.6v7.20h-19.6zM167.2 337.38h6.5v0.64h-6.5zM343.8 337.38h6.5v0.64h-6.5zM121.4 336.72h6.5v0.66h-6.5zM389.5 336.72h6.5v0.66h-6.5zM219.5 334.63h6.5v0.72h-6.5zM252.2 334.63h13.1v0.72h-13.1zM291.4 334.63h6.5v0.72h-6.5zM167.2 333.88h6.5v0.75h-6.5zM343.8 333.88h6.5v0.75h-6.5zM121.4 333.11h6.5v0.77h-6.5zM206.4 333.11h6.5v0.77h-6.5zM226.1 333.11h6.5v0.77h-6.5zM284.9 333.11h6.5v0.77h-6.5zM304.5 333.11h6.5v0.77h-6.5zM389.5 333.11h6.5v0.77h-6.5zM128 332.31h6.5v0.80h-6.5zM383 332.31h6.5v0.80h-6.5zM160.7 331.47h6.5v0.84h-6.5zM350.3 331.47h6.5v0.84h-6.5zM180.3 330.59h6.5v0.88h-6.5zM330.7 330.59h6.5v0.88h-6.5zM141 329.66h6.5v0.93h-6.5zM160.7 329.66h6.5v0.93h-6.5zM350.3 329.66h6.5v0.93h-6.5zM369.9 329.66h6.5v0.93h-6.5zM134.5 328.68h6.5v0.98h-6.5zM213 328.68h6.5v0.98h-6.5zM298 328.68h6.5v0.98h-6.5zM376.5 328.68h6.5v0.98h-6.5zM114.9 325.21h6.5v1.27h-6.5zM239.1 325.21h6.5v1.27h-6.5zM271.8 325.21h6.5v1.27h-6.5zM396.1 325.21h6.5v1.27h-6.5zM180.3 319.58h6.5v2.43h-6.5zM206.4 319.58h6.5v2.43h-6.5zM304.5 319.58h6.5v2.43h-6.5zM330.7 319.58h6.5v2.43h-6.5zM180.3 309.54h6.5v1.74h-6.5zM206.4 309.54h6.5v1.74h-6.5zM304.5 309.54h6.5v1.74h-6.5zM330.7 309.54h6.5v1.74h-6.5zM160.7 305.68h6.5v1.15h-6.5zM350.3 305.68h6.5v1.15h-6.5zM114.9 304.62h6.5v1.06h-6.5zM180.3 304.62h6.5v1.06h-6.5zM330.7 304.62h6.5v1.06h-6.5zM396.1 304.62h6.5v1.06h-6.5zM134.5 302.71h6.5v0.93h-6.5zM154.1 302.71h6.5v0.93h-6.5zM245.7 302.71h6.5v0.93h-6.5zM265.3 302.71h6.5v0.93h-6.5zM356.8 302.71h6.5v0.93h-6.5zM376.5 302.71h6.5v0.93h-6.5zM121.4 301.83h6.5v0.88h-6.5zM389.5 301.83h6.5v0.88h-6.5zM101.8 300.99h6.5v0.84h-6.5zM409.2 300.99h6.5v0.84h-6.5zM167.2 299.42h6.5v0.77h-6.5zM343.8 299.42h6.5v0.77h-6.5zM134.5 298.67h6.5v0.75h-6.5zM376.5 298.67h6.5v0.75h-6.5zM180.3 297.95h6.5v0.72h-6.5zM219.5 297.95h6.5v0.72h-6.5zM291.4 297.95h6.5v0.72h-6.5zM330.7 297.95h6.5v0.72h-6.5zM167.2 296.58h6.5v0.68h-6.5zM245.7 296.58h6.5v0.68h-6.5zM265.3 296.58h6.5v0.68h-6.5zM343.8 296.58h6.5v0.68h-6.5zM134.5 295.92h6.5v0.66h-6.5zM154.1 295.92h6.5v0.66h-6.5zM245.7 295.92h6.5v0.66h-6.5zM265.3 295.92h6.5v0.66h-6.5zM356.8 295.92h6.5v0.66h-6.5zM376.5 295.92h6.5v0.66h-6.5zM239.1 295.27h6.5v0.64h-6.5zM271.8 295.27h6.5v0.64h-6.5zM173.7 294.64h6.5v0.63h-6.5zM219.5 294.64h6.5v0.63h-6.5zM291.4 294.64h6.5v0.63h-6.5zM337.2 294.64h6.5v0.63h-6.5zM128 294.03h6.5v0.61h-6.5zM160.7 294.03h6.5v0.61h-6.5zM350.3 294.03h6.5v0.61h-6.5zM383 294.03h6.5v0.61h-6.5zM108.3 293.43h6.5v0.60h-6.5zM141 293.43h6.5v0.60h-6.5zM239.1 293.43h6.5v0.60h-6.5zM271.8 293.43h6.5v0.60h-6.5zM369.9 293.43h6.5v0.60h-6.5zM402.6 293.43h6.5v0.60h-6.5zM134.5 291.70h6.5v0.57h-6.5zM206.4 291.70h6.5v0.57h-6.5zM304.5 291.70h6.5v0.57h-6.5zM376.5 291.70h6.5v0.57h-6.5zM199.9 284.50h19.6v7.20h-19.6zM298 284.50h19.6v7.20h-19.6zM199.9 224.60h19.6v7.20h-19.6zM298 224.60h19.6v7.20h-19.6zM154.1 232.80h6.5v1.00h-6.5zM356.8 232.80h6.5v1.00h-6.5zM141 233.80h6.5v1.00h-6.5zM226.1 233.80h13.1v1.00h-13.1zM278.4 233.80h13.1v1.00h-13.1zM369.9 233.80h6.5v1.00h-6.5zM121.4 236.80h6.5v1.00h-6.5zM141 236.80h6.5v1.00h-6.5zM206.4 236.80h6.5v1.00h-6.5zM304.5 236.80h6.5v1.00h-6.5zM369.9 236.80h6.5v1.00h-6.5zM389.5 236.80h6.5v1.00h-6.5zM219.5 237.80h6.5v1.00h-6.5zM291.4 237.80h6.5v1.00h-6.5zM147.6 238.80h6.5v1.00h-6.5zM167.2 238.80h6.5v1.00h-6.5zM206.4 238.80h6.5v1.00h-6.5zM304.5 238.80h6.5v1.00h-6.5zM343.8 238.80h6.5v1.00h-6.5zM363.4 238.80h6.5v1.00h-6.5zM167.2 239.80h6.5v1.00h-6.5zM343.8 239.80h6.5v1.00h-6.5zM199.9 240.80h6.5v1.00h-6.5zM311.1 240.80h6.5v1.00h-6.5z"/>
<path fill="#7979ec" d="M108.3 177.51h6.5v0.70h-6.5zM402.6 177.51h6.5v0.70h-6.5zM108.3 336.05h6.5v0.68h-6.5zM402.6 336.05h6.5v0.68h-6.5z"/>
<path fill="#6868e9" d="M101.8 175.29h6.5v0.76h-6.5zM409.2 175.29h6.5v0.76h-6.5zM101.8 333.88h6.5v0.75h-6.5zM409.2 333.88h6.5v0.75h-6.5z"/>
<path fill="#7d7dec" d="M101.8 172.81h6.5v0.86h-6.5zM409.2 172.81h6.5v0.86h-6.5zM101.8 140.75h6.5v0.82h-6.5zM409.2 140.75h6.5v0.82h-6.5zM101.8 136.37h6.5v0.68h-6.5zM180.3 136.37h6.5v0.68h-6.5zM219.5 136.37h6.5v0.68h-6.5zM291.4 136.37h6.5v0.68h-6.5zM330.7 136.37h6.5v0.68h-6.5zM409.2 136.37h6.5v0.68h-6.5zM252.2 132.63h13.1v0.59h-13.1zM101.8 331.47h6.5v0.84h-6.5zM409.2 331.47h6.5v0.84h-6.5zM101.8 300.19h6.5v0.80h-6.5zM409.2 300.19h6.5v0.80h-6.5zM101.8 295.92h6.5v0.66h-6.5zM180.3 295.92h6.5v0.66h-6.5zM219.5 295.92h6.5v0.66h-6.5zM291.4 295.92h6.5v0.66h-6.5zM330.7 295.92h6.5v0.66h-6.5zM409.2 295.92h6.5v0.66h-6.5zM252.2 292.27h13.1v0.58h-13.1z"/>
<path fill="#7070ea" d="M121.4 140.75h6.5v0.82h-6.5zM389.5 140.75h6.5v0.82h-6.5zM121.4 300.19h6.5v0.80h-6.5zM389.5 300.19h6.5v0.80h-6.5z"/>
<path fill="#6565e8" d="M108.3 136.37h6.5v0.68h-6.5zM402.6 136.37h6.5v0.68h-6.5zM108.3 295.92h6.5v0.66h-6.5zM402.6 295.92h6.5v0.66h-6.5z"/>
<path fill="#00008c" d="M95.3 77.60h6.5v7.20h-6.5zM415.7 77.60h6.5v7.20h-6.5zM95.3 214.40h6.5v7.20h-6.5zM415.7 214.40h6.5v7.20h-6.5zM95.3 245.40h6.5v7.20h-6.5zM415.7 245.40h6.5v7.20h-6.5z"/>
</g>
<rect x="92.0" y="65.5" width="333.5" height="335.0" fill="none" stroke="#4d4d4d" stroke-width="1"/>
<path d="M98.6 65.5v3.3M98.6 400.5v-3.3" stroke="#4d4d4d" stroke-width="0.8"/>
<path d="M255.4 65.5v3.3M255.4 400.5v-3.3" stroke="#4d4d4d" stroke-width="0.8"/>
<path d="M418.8 65.5v3.3M418.8 400.5v-3.3" stroke="#4d4d4d" stroke-width="0.8"/>
<path d="M92.0 233.2h3.3" stroke="#4d4d4d" stroke-width="0.8"/>
<rect x="444.3" y="187.8" width="11.2" height="116.2" fill="url(#cb)" stroke="#666" stroke-width="0.7"/>
<rect x="55" y="78.3" width="23.9" height="1.6" fill="#1a1a1a"/>
<rect x="22.4" y="393.0" width="25.9" height="1.6" fill="#1a1a1a"/>
<rect x="58" y="392.4" width="23" height="1.6" fill="#1a1a1a"/>
<path d="M596 85.6V406.4M587.8 85.6H596M587.8 241.7H596M587.8 397.9H596" stroke="#3a3a3a" stroke-width="1" fill="none"/>
<path d="M596 397.9L810.3 409.4L924.5 388.1" stroke="#3a3a3a" stroke-width="1" fill="none"/>
<path d="M681.7 402.5v8M767.4 407.1v8M810.3 409.4v8.3M866.8 398.8v8.3M924.5 388.1v8.6" stroke="#3a3a3a" stroke-width="1" fill="none"/>
<path d="M654.2 150.0C654.2 150.0 664.9 174.4 664.9 174.4C664.9 174.4 695.0 163.4 695.0 163.4C695.0 163.4 700.0 150.0 700.0 150.0C700.0 150.0 654.2 150.0 654.2 150.0Z" fill="url(#gN)" />
<path d="M607.6 130.4C607.6 130.4 625.0 124.5 634.0 121.5C643.0 118.5 650.3 116.0 661.8 112.1C673.2 108.1 692.8 101.7 702.7 97.8C712.6 93.9 716.8 90.8 721.0 88.6C725.2 86.4 728.0 84.8 728.0 84.8C728.0 84.8 728.8 85.2 733.7 90.2C738.6 95.2 750.6 108.0 757.3 114.8C763.9 121.6 773.6 131.1 773.6 131.1C773.6 131.1 775.7 131.5 775.7 131.5C775.7 131.5 782.8 130.7 782.8 130.7C782.8 130.7 794.2 137.1 802.2 141.3C810.2 145.5 822.0 151.6 830.9 155.7C839.8 159.8 846.8 161.7 855.4 165.9C864.0 170.1 874.8 177.0 882.7 180.9C890.7 184.8 896.0 187.1 903.1 189.1C910.2 191.1 925.6 192.8 925.6 192.8C925.6 192.8 918.5 194.4 914.5 196.0C910.5 197.6 905.8 199.8 901.4 202.5C897.0 205.2 892.4 209.3 888.3 212.3C884.2 215.3 880.7 218.3 876.9 220.5C873.1 222.7 869.2 224.7 865.4 225.4C861.6 226.1 858.1 225.7 854.0 224.6C849.9 223.5 845.3 221.2 840.9 218.9C836.5 216.6 831.9 212.0 827.8 210.7C823.6 209.4 820.6 211.3 816.0 210.9C811.4 210.5 806.0 209.1 800.0 208.0C794.0 206.9 787.7 206.9 780.0 204.5C772.3 202.1 763.3 198.0 753.8 193.8C744.3 189.6 733.0 184.5 723.1 179.5C713.2 174.5 705.9 168.3 694.5 163.6C683.1 158.9 654.6 151.5 654.6 151.5C654.6 151.5 639.2 153.2 630.0 154.0C620.8 154.8 599.4 156.6 599.4 156.6C599.4 156.6 599.9 151.9 600.4 148.9C600.9 145.9 601.3 141.7 602.5 138.6C603.7 135.5 607.6 130.4 607.6 130.4Z" fill="url(#gF)" />
<path d="M773.6 131.1C773.6 131.1 775.7 131.5 775.7 131.5C775.7 131.5 782.8 130.7 782.8 130.7C782.8 130.7 794.2 137.1 802.2 141.3C810.2 145.5 822.0 151.6 830.9 155.7C839.8 159.8 846.8 161.7 855.4 165.9C864.0 170.1 874.8 177.0 882.7 180.9C890.7 184.8 896.0 187.1 903.1 189.1C910.2 191.1 925.6 192.8 925.6 192.8C925.6 192.8 906.7 197.2 898.0 199.0C889.3 200.8 880.9 203.0 873.6 203.3C866.3 203.6 860.4 203.2 854.0 201.0C847.6 198.8 841.3 194.2 835.0 190.0C828.7 185.8 823.2 182.4 816.0 176.0C808.8 169.6 799.1 159.1 792.0 151.6C784.9 144.1 773.6 131.1 773.6 131.1Z" fill="url(#gB)" />
<path d="M599.2 245.6C599.2 245.6 610.0 240.4 616.6 238.4C623.2 236.4 633.3 235.3 639.1 233.7C644.9 232.1 647.7 229.9 651.3 228.6C654.9 227.2 660.6 225.6 660.6 225.6C660.6 225.6 664.8 226.2 667.7 226.6C670.6 227.0 677.9 228.2 677.9 228.2C677.9 228.2 682.4 227.2 688.2 227.0C694.0 226.8 701.8 227.2 712.7 227.2C723.6 227.2 740.7 227.0 753.6 227.2C766.5 227.4 782.1 228.0 790.0 228.2C797.9 228.4 794.0 228.2 800.9 228.6C807.8 229.0 823.1 230.2 831.6 230.7C840.1 231.2 843.5 231.2 852.0 231.7C860.5 232.2 870.4 233.5 882.7 233.7C895.0 233.9 925.6 232.8 925.6 232.8C925.6 232.8 910.2 235.5 903.1 236.8C896.0 238.2 889.5 239.7 882.7 240.9C875.9 242.1 869.0 242.8 862.2 244.0C855.4 245.2 849.6 246.8 841.8 248.1C834.0 249.4 823.8 251.5 815.2 252.1C806.6 252.7 800.3 251.9 790.0 251.7C779.7 251.5 766.5 251.5 753.6 251.1C740.7 250.7 726.3 249.8 712.7 249.1C699.1 248.3 685.4 247.2 671.8 246.6C658.2 246.0 643.0 245.8 630.9 245.6C618.8 245.4 599.2 245.6 599.2 245.6Z" fill="url(#gM)" />
<path d="M687.5 301.0C687.5 301.0 692.1 291.7 694.3 288.4C696.4 285.1 700.4 281.2 700.4 281.2C700.4 281.2 714.1 286.8 722.9 290.4C731.7 294.0 753.0 302.6 753.0 302.6C753.0 302.6 740.0 320.0 740.0 320.0C740.0 320.0 692.2 335.0 692.2 335.0C692.2 335.0 680.0 325.0 680.0 325.0C680.0 325.0 687.5 301.0 687.5 301.0Z" fill="url(#gLb)" />
<path d="M648.8 337.0C648.8 337.0 653.4 318.0 655.4 310.9C657.4 303.8 658.9 297.9 660.6 294.5C662.3 291.1 665.7 290.4 665.7 290.4C665.7 290.4 688.2 300.3 688.2 300.3C688.2 300.3 705.0 335.0 705.0 335.0C705.0 335.0 669.8 345.0 669.8 345.0C669.8 345.0 648.8 337.0 648.8 337.0Z" fill="url(#gLb)" />
<path d="M598.6 322.8C598.6 322.8 622.7 329.3 622.7 329.3C622.7 329.3 626.8 327.7 626.8 327.7C626.8 327.7 637.0 332.4 637.0 332.4C637.0 332.4 649.3 335.4 649.3 335.4C649.3 335.4 669.8 339.5 669.8 339.5C669.8 339.5 683.7 331.7 692.2 327.3C700.7 322.9 711.0 317.1 720.9 312.9C730.8 308.7 751.6 302.3 751.6 302.3C751.6 302.3 759.0 299.2 763.8 297.6C768.6 296.0 775.8 294.0 780.2 292.5C784.6 291.0 784.7 291.1 790.0 288.4C795.3 285.7 804.6 280.4 812.0 276.4C819.4 272.3 826.8 268.7 834.5 264.1C842.2 259.6 853.2 252.6 858.2 249.1C863.2 245.6 864.7 243.0 864.7 243.0C864.7 243.0 867.4 244.0 870.4 246.0C873.4 248.0 877.9 252.0 882.7 255.2C887.5 258.4 893.9 262.7 899.0 265.4C904.1 268.1 909.0 270.4 913.4 271.6C917.8 272.8 925.6 272.6 925.6 272.6C925.6 272.6 911.0 275.3 904.0 276.4C897.0 277.5 890.4 278.0 883.6 279.4C876.8 280.8 869.9 282.3 863.1 284.5C856.3 286.7 849.5 288.6 842.7 292.7C835.9 296.8 829.0 303.0 822.2 309.1C815.4 315.2 807.2 324.3 801.8 329.5C796.4 334.7 795.5 335.3 790.0 340.4C784.5 345.5 776.8 353.2 769.0 360.0C761.2 366.8 750.4 374.9 743.4 381.3C736.4 387.8 727.0 398.7 727.0 398.7C727.0 398.7 716.1 391.6 708.6 388.5C701.1 385.4 690.5 383.4 682.0 380.3C673.5 377.2 666.0 373.8 657.5 370.1C649.0 366.5 639.4 362.3 630.9 358.4C622.4 354.5 606.4 346.6 606.4 346.6C606.4 346.6 602.5 337.4 601.2 333.4C599.9 329.4 598.6 322.8 598.6 322.8Z" fill="url(#gL)" />
<circle cx="728" cy="84.8" r="5.5" fill="#ff0000" stroke="#000" stroke-width="1"/>
<circle cx="852" cy="227" r="5.5" fill="#ff0000" stroke="#000" stroke-width="1"/>
<circle cx="864.7" cy="243" r="5.5" fill="#ff0000" stroke="#000" stroke-width="1"/>
<rect x="800.9" y="221.7" width="23.5" height="1.5" fill="#1a1a1a"/>
<rect x="841.0" y="12.0" width="134.29999999999995" height="140.2" fill="none" stroke="#4a4a4a" stroke-width="1.3"/>
<path d="M841.0 152.2v-2.5M975.3 152.2v-2.5M841.0 12.0h2.5M841.0 152.2h2.5M975.3 12.0v2.5" stroke="#555" stroke-width="0.8"/>
<path d="M841 12L859.5 56.4M841 12L914.3 103.4M841 12L946.9 105.4" stroke="#111" stroke-width="1.15" fill="none"/>
<path d="M841 8.2L836.6 15.4H845.4Z" fill="#000"/>
<circle cx="866.2" cy="70.1" r="14.3" fill="#fff" stroke="#111" stroke-width="1.2"/>
<circle cx="866.2" cy="70.1" r="5.6" fill="#ff0000" stroke="#000" stroke-width="0.9"/>
<path d="M877.9 67.1L880.5 73.6L882.7 67.1L880.5 69.0Z" fill="#000"/>
<circle cx="924.2" cy="115.8" r="14.8" fill="#fff" stroke="#111" stroke-width="1.2"/>
<circle cx="924.2" cy="115.8" r="5.6" fill="#ff0000" stroke="#000" stroke-width="0.9"/>
<path d="M936.4 112.8L939.0 119.3L941.2 112.8L939.0 114.7Z" fill="#000"/>
<circle cx="957.4" cy="115.8" r="14.8" fill="#fff" stroke="#111" stroke-width="1.2"/>
<circle cx="957.4" cy="115.8" r="5.6" fill="#ff0000" stroke="#000" stroke-width="0.9"/>
<path d="M969.6 112.8L972.2 119.3L974.4 112.8L972.2 114.7Z" fill="#000"/>
<rect x="875.3" y="127.8" width="17.9" height="1.3" fill="#1a1a1a"/>
<text transform="translate(25.76,42.54) scale(0.905,1)" font-family="'Liberation Sans', sans-serif" font-style="normal" font-weight="700" font-size="45.66" fill="#000">a</text>
<text transform="translate(499.98,41.56) scale(1.069,1)" font-family="'Liberation Sans', sans-serif" font-style="normal" font-weight="700" font-size="43.54" fill="#000">b</text>
<text transform="translate(57.33,72.59) scale(1.095,1)" font-family="'Liberation Serif', serif" font-style="italic" font-weight="400" font-size="31.06" fill="#1a1a1a">π</text>
<text transform="translate(52.79,107.00) scale(1.191,1)" font-family="'Liberation Serif', serif" font-style="italic" font-weight="400" font-size="34.96" fill="#1a1a1a">T</text>
<text transform="translate(45.62,237.75) rotate(-90) scale(0.843,1)" font-family="'Liberation Serif', serif" font-style="italic" font-weight="400" font-size="37.50" fill="#1a1a1a">ϵ</text>
<text transform="translate(63.87,242.65) scale(1.090,1)" font-family="'Liberation Serif', serif" font-style="normal" font-weight="400" font-size="34.96" fill="#1a1a1a">0</text>
<text transform="translate(60.33,388.69) scale(1.096,1)" font-family="'Liberation Serif', serif" font-style="italic" font-weight="400" font-size="30.85" fill="#1a1a1a">π</text>
<text transform="translate(55.84,419.40) scale(1.381,1)" font-family="'Liberation Serif', serif" font-style="italic" font-weight="400" font-size="29.62" fill="#1a1a1a">T</text>
<text transform="translate(91.09,443.30) scale(0.870,1)" font-family="'Liberation Serif', serif" font-style="normal" font-weight="400" font-size="34.24" fill="#1a1a1a">1</text>
<text transform="translate(229.75,444.34) scale(1.078,1)" font-family="'Liberation Serif', serif" font-style="normal" font-weight="400" font-size="35.99" fill="#1a1a1a">25</text>
<text transform="translate(388.36,444.34) scale(1.088,1)" font-family="'Liberation Serif', serif" font-style="normal" font-weight="400" font-size="35.85" fill="#1a1a1a">50</text>
<text transform="translate(215.64,485.22) scale(1.150,1)" font-family="'Liberation Serif', serif" font-style="normal" font-weight="400" font-size="38.36" fill="#1a1a1a">site</text>
<text transform="translate(459.84,200.02) scale(0.969,1)" font-family="'Liberation Serif', serif" font-style="normal" font-weight="400" font-size="32.06" fill="#1a1a1a">0.4</text>
<text transform="translate(461.03,258.92) scale(0.980,1)" font-family="'Liberation Serif', serif" font-style="normal" font-weight="400" font-size="31.91" fill="#1a1a1a">0.2</text>
<text transform="translate(461.03,317.28) scale(0.965,1)" font-family="'Liberation Serif', serif" font-style="normal" font-weight="400" font-size="32.44" fill="#1a1a1a">0</text>
<text transform="translate(563.39,96.00) scale(0.829,1)" font-family="'Liberation Serif', serif" font-style="normal" font-weight="400" font-size="31.82" fill="#1a1a1a">1</text>
<text transform="translate(561.72,251.89) scale(1.118,1)" font-family="'Liberation Serif', serif" font-style="normal" font-weight="400" font-size="30.52" fill="#1a1a1a">0</text>
<text transform="translate(551.79,407.90) scale(0.928,1)" font-family="'Liberation Serif', serif" font-style="normal" font-weight="400" font-size="31.82" fill="#1a1a1a">-1</text>
<text transform="translate(580.22,443.70) scale(0.864,1)" font-family="'Liberation Serif', serif" font-style="normal" font-weight="400" font-size="31.52" fill="#1a1a1a">1</text>
<text transform="translate(641.86,449.04) scale(0.995,1)" font-family="'Liberation Serif', serif" font-style="normal" font-weight="400" font-size="30.44" fill="#1a1a1a">0.7</text>
<text transform="translate(727.64,452.84) scale(1.010,1)" font-family="'Liberation Serif', serif" font-style="normal" font-weight="400" font-size="30.59" fill="#1a1a1a">0.4</text>
<text transform="translate(810.11,455.10) scale(0.924,1)" font-family="'Liberation Serif', serif" font-style="normal" font-weight="400" font-size="31.36" fill="#1a1a1a">-1</text>
<text transform="translate(865.91,444.80) scale(1.137,1)" font-family="'Liberation Serif', serif" font-style="normal" font-weight="400" font-size="30.22" fill="#1a1a1a">0</text>
<text transform="translate(924.64,435.00) scale(0.835,1)" font-family="'Liberation Serif', serif" font-style="normal" font-weight="400" font-size="30.91" fill="#1a1a1a">1</text>
<text transform="translate(617.63,479.93) scale(1.118,1)" font-family="'Liberation Serif', serif" font-style="italic" font-weight="400" font-size="37.21" fill="#1a1a1a">t</text>
<text transform="translate(633.77,487.70) scale(0.750,1)" font-family="'Liberation Serif', serif" font-style="italic" font-weight="400" font-size="49.70" fill="#1a1a1a">/</text>
<text transform="translate(646.18,480.10) scale(1.196,1)" font-family="'Liberation Serif', serif" font-style="italic" font-weight="400" font-size="34.96" fill="#1a1a1a">T</text>
<text transform="translate(910.63,477.90) scale(1.041,1)" font-family="'Liberation Serif', serif" font-style="italic" font-weight="400" font-size="34.39" fill="#1a1a1a">k</text>
<text transform="translate(931.33,485.50) scale(0.750,1)" font-family="'Liberation Serif', serif" font-style="italic" font-weight="400" font-size="50.45" fill="#1a1a1a">/</text>
<text transform="translate(946.22,477.57) scale(1.080,1)" font-family="'Liberation Serif', serif" font-style="italic" font-weight="400" font-size="32.55" fill="#1a1a1a">π</text>
<text transform="translate(535.51,278.72) rotate(-90) scale(1.207,1)" font-family="'Liberation Serif', serif" font-style="italic" font-weight="400" font-size="33.83" fill="#1a1a1a">ϕ</text>
<text transform="translate(541.40,256.91) rotate(-90) scale(1.600,1)" font-family="'Liberation Serif', serif" font-style="italic" font-weight="400" font-size="17.66" fill="#1a1a1a">n</text>
<text transform="translate(543.30,239.70) rotate(-90) scale(0.750,1)" font-family="'Liberation Serif', serif" font-style="italic" font-weight="400" font-size="50.30" fill="#1a1a1a">/</text>
<text transform="translate(535.59,223.66) rotate(-90) scale(1.019,1)" font-family="'Liberation Serif', serif" font-style="italic" font-weight="400" font-size="31.28" fill="#1a1a1a">π</text>
<text transform="translate(744.93,79.30) scale(1.133,1)" font-family="'Liberation Serif', serif" font-style="italic" font-weight="400" font-size="40.46" fill="#1a1a1a">j</text>
<text transform="translate(741.42,56.94) scale(0.939,1)" font-family="'Liberation Serif', serif" font-style="normal" font-weight="400" font-size="34.03" fill="#1a1a1a">~</text>
<text transform="translate(829.14,232.70) scale(1.150,1)" font-family="'Liberation Serif', serif" font-style="italic" font-weight="400" font-size="40.60" fill="#1a1a1a">i</text>
<text transform="translate(827.34,210.67) scale(0.841,1)" font-family="'Liberation Serif', serif" font-style="normal" font-weight="400" font-size="37.01" fill="#1a1a1a">~</text>
<text transform="translate(843.69,288.00) scale(1.099,1)" font-family="'Liberation Serif', serif" font-style="italic" font-weight="400" font-size="36.83" fill="#1a1a1a">k</text>
<text transform="translate(844.82,264.48) scale(0.929,1)" font-family="'Liberation Serif', serif" font-style="normal" font-weight="400" font-size="34.63" fill="#1a1a1a">~</text>
<text transform="translate(820.55,21.70) scale(0.750,1)" font-family="'Liberation Serif', serif" font-style="normal" font-weight="400" font-size="29.09" fill="#1a1a1a">1</text>
<text transform="translate(850.51,19.40) scale(1.242,1)" font-family="'Liberation Serif', serif" font-style="normal" font-weight="400" font-size="26.56" fill="#1a1a1a">P</text>
<text transform="translate(793.68,156.93) scale(0.997,1)" font-family="'Liberation Serif', serif" font-style="normal" font-weight="400" font-size="24.71" fill="#1a1a1a">0.25</text>
<text transform="translate(833.16,175.10) scale(0.879,1)" font-family="'Liberation Serif', serif" font-style="normal" font-weight="400" font-size="28.64" fill="#1a1a1a">-1</text>
<text transform="translate(966.41,175.10) scale(0.832,1)" font-family="'Liberation Serif', serif" font-style="normal" font-weight="400" font-size="28.64" fill="#1a1a1a">1</text>
<text transform="translate(890.44,177.20) scale(1.075,1)" font-family="'Liberation Serif', serif" font-style="italic" font-weight="400" font-size="26.76" fill="#1a1a1a">k</text>
<text transform="translate(906.99,183.40) scale(0.750,1)" font-family="'Liberation Serif', serif" font-style="italic" font-weight="400" font-size="40.00" fill="#1a1a1a">/</text>
<text transform="translate(919.06,177.24) scale(1.069,1)" font-family="'Liberation Serif', serif" font-style="italic" font-weight="400" font-size="26.38" fill="#1a1a1a">π</text>
<text transform="translate(826.40,81.32) rotate(-90) scale(1.116,1)" font-family="'Liberation Serif', serif" font-style="italic" font-weight="400" font-size="36.18" fill="#1a1a1a">T</text>
<text transform="translate(833.61,93.98) rotate(-90) scale(0.750,1)" font-family="'Liberation Serif', serif" font-style="italic" font-weight="400" font-size="49.25" fill="#1a1a1a">/</text>
<text transform="translate(826.81,109.54) rotate(-90) scale(0.940,1)" font-family="'Liberation Serif', serif" font-style="italic" font-weight="400" font-size="38.78" fill="#1a1a1a">t</text>
<text transform="translate(853.87,110.09) scale(1.150,1)" font-family="'Liberation Serif', serif" font-style="italic" font-weight="400" font-size="29.71" fill="#1a1a1a">j</text>
<text transform="translate(851.04,95.62) scale(0.835,1)" font-family="'Liberation Serif', serif" font-style="normal" font-weight="400" font-size="28.66" fill="#1a1a1a">~</text>
<text transform="translate(896.95,136.20) scale(1.150,1)" font-family="'Liberation Serif', serif" font-style="italic" font-weight="400" font-size="33.06" fill="#1a1a1a">i</text>
<text transform="translate(895.41,120.21) scale(0.810,1)" font-family="'Liberation Serif', serif" font-style="normal" font-weight="400" font-size="31.04" fill="#1a1a1a">~</text>
<text transform="translate(950.66,99.00) scale(1.089,1)" font-family="'Liberation Serif', serif" font-style="italic" font-weight="400" font-size="28.78" fill="#1a1a1a">k</text>
<text transform="translate(952.31,84.65) scale(0.788,1)" font-family="'Liberation Serif', serif" font-style="normal" font-weight="400" font-size="31.64" fill="#1a1a1a">~</text>
</svg></body></html>
